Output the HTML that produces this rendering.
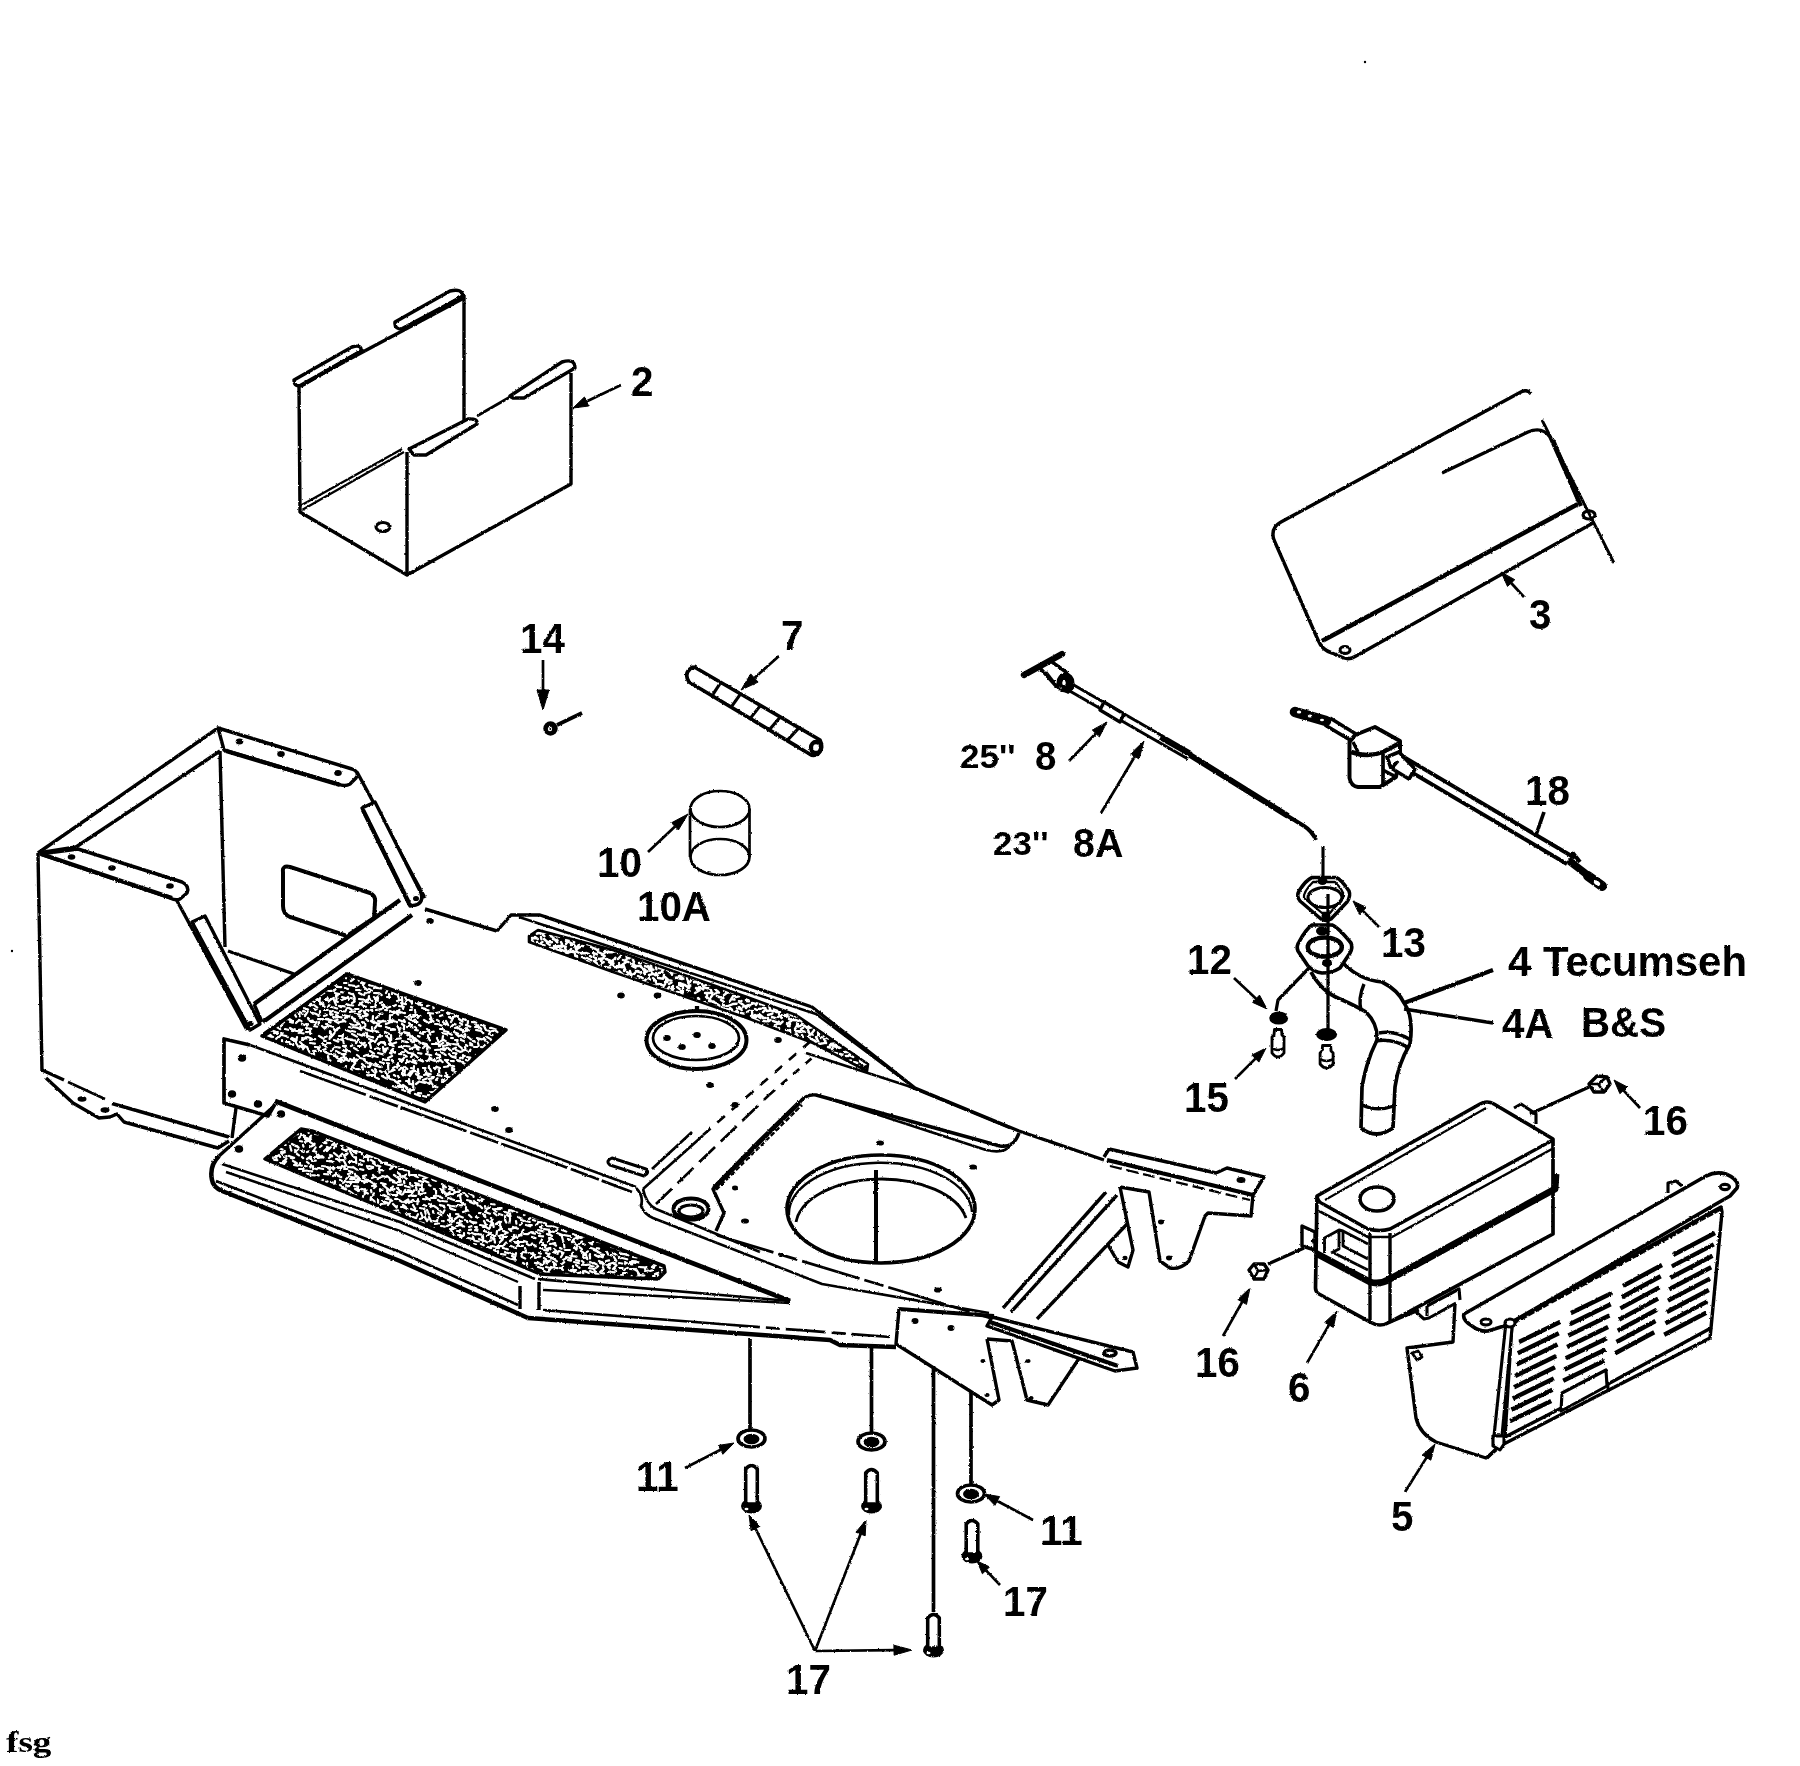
<!DOCTYPE html>
<html><head><meta charset="utf-8"><title>Parts diagram</title>
<style>html,body{margin:0;padding:0;background:#fff}svg{display:block}text{fill:#000}</style></head>
<body><svg width="1800" height="1766" viewBox="0 0 1800 1766" stroke-linejoin="round" stroke-linecap="butt">
<defs><filter id="rough" x="0" y="0" width="100%" height="100%" filterUnits="userSpaceOnUse"><feTurbulence type="fractalNoise" baseFrequency="0.45" numOctaves="2" seed="3" result="n"/><feDisplacementMap in="SourceGraphic" in2="n" scale="2.2" xChannelSelector="R" yChannelSelector="G"/></filter></defs>
<rect width="1800" height="1766" fill="#fff"/>
<g filter="url(#rough)">
<path d="M38.0,853.0 L218.0,728.0" fill="none" stroke="#000" stroke-width="3.41" />
<path d="M76.0,847.0 L220.0,751.0" fill="none" stroke="#000" stroke-width="3.41" />
<path d="M38.0,853.0 L76.0,847.0" fill="none" stroke="#000" stroke-width="3.41" />
<path d="M38.0,853.0 L42.0,1072.0" fill="none" stroke="#000" stroke-width="3.41" />
<path d="M218,728 L352,769 Q360,772 356,778 L350,784 Q345,787 338,784 L224,750 Z" fill="#fff" stroke="#000" stroke-width="3.41" />
<path d="M226.0,751.0 L340.0,785.0" fill="none" stroke="#000" stroke-width="4.26" />
<ellipse cx="239.5" cy="741.5" rx="3.8" ry="3.0" fill="#000"/>
<ellipse cx="281.0" cy="754.0" rx="3.8" ry="3.0" fill="#000"/>
<ellipse cx="338.0" cy="773.0" rx="3.8" ry="3.0" fill="#000"/>
<path d="M220.0,751.0 L225.0,947.0" fill="none" stroke="#000" stroke-width="3.41" />
<path d="M357.0,772.0 L425.0,898.0" fill="none" stroke="#000" stroke-width="3.41" />
<path d="M362,808 L375,802 L421,893 Q424,902 416,905 L410,906 Z" fill="#fff" stroke="#000" stroke-width="3.41" />
<path d="M363.0,810.0 L410.0,905.0" fill="none" stroke="#000" stroke-width="4.26" />
<ellipse cx="416.0" cy="898.5" rx="3" ry="2.6" fill="#000"/>
<path d="M40,854 L78,849 L182,882 Q190,886 187,893 L180,899 Q176,901 170,898 L40,854" fill="#fff" stroke="#000" stroke-width="3.41" />
<path d="M41.0,854.0 L172.0,898.0" fill="none" stroke="#000" stroke-width="4.26" />
<ellipse cx="71.5" cy="857.0" rx="3.8" ry="2.8" fill="#000"/>
<ellipse cx="112.0" cy="868.0" rx="3.8" ry="2.8" fill="#000"/>
<ellipse cx="170.0" cy="886.0" rx="3.8" ry="2.8" fill="#000"/>
<path d="M176.0,899.0 L247.0,1030.0" fill="none" stroke="#000" stroke-width="3.41" />
<path d="M192,922 L205,916 L260,1024 L250,1030 Z" fill="#fff" stroke="#000" stroke-width="3.41" />
<path d="M193.0,925.0 L244.0,1022.0" fill="none" stroke="#000" stroke-width="2.27" stroke-dasharray="6 2"/>
<ellipse cx="250.5" cy="1023.5" rx="3" ry="2.6" fill="#000"/>
<path d="M254.0,1004.0 L400.0,900.0" fill="none" stroke="#000" stroke-width="4.26" />
<path d="M263.0,1022.0 L412.0,915.0" fill="none" stroke="#000" stroke-width="4.26" />
<path d="M254.0,1004.0 L262.0,1022.0" fill="none" stroke="#000" stroke-width="3.41" />
<path d="M283,872 Q282,865 290,867 L370,893 Q376,896 375,902 L374,918 L347,936 L290,917 Q283,914 283,906 Z" fill="none" stroke="#000" stroke-width="3.98" />
<path d="M228.0,951.0 L294.0,974.0" fill="none" stroke="#000" stroke-width="3.41" />
<path d="M42.0,1070.0 L64.0,1080.0" fill="none" stroke="#000" stroke-width="3.41" />
<path d="M68.0,1082.0 L105.0,1099.0" fill="none" stroke="#000" stroke-width="2.56" />
<path d="M112.0,1103.5 L229.0,1137.0" fill="none" stroke="#000" stroke-width="3.41" />
<path d="M46,1078 L73,1103 L99,1118 L110,1117 L117,1114 L124,1122 L218,1148 L229,1141" fill="none" stroke="#000" stroke-width="3.41" />
<ellipse cx="82.0" cy="1099.0" rx="4.5" ry="2.8" fill="#000"/>
<ellipse cx="105.0" cy="1110.0" rx="4.5" ry="2.8" fill="#000"/>
<path d="M250,1045 L224,1039 L224,1103 L268,1116 L275,1104" fill="none" stroke="#000" stroke-width="3.69" />
<ellipse cx="242.0" cy="1058.0" rx="4.2" ry="3.8" fill="#000"/>
<ellipse cx="232.0" cy="1094.0" rx="4.2" ry="3.8" fill="#000"/>
<ellipse cx="258.0" cy="1104.0" rx="4.2" ry="3.8" fill="#000"/>
<ellipse cx="281.0" cy="1114.0" rx="4.2" ry="3.8" fill="#000"/>
<ellipse cx="239.0" cy="1149.0" rx="4.2" ry="3.8" fill="#000"/>
<path d="M236.0,1108.0 L232.0,1138.0" fill="none" stroke="#000" stroke-width="3.41" />
<path d="M425.0,909.0 L497.0,931.0" fill="none" stroke="#000" stroke-width="3.41" />
<path d="M250.0,1045.0 L636.0,1187.0" fill="none" stroke="#000" stroke-width="2.70" />
<path d="M300.0,1071.0 L560.0,1165.0 L632.0,1192.0" fill="none" stroke="#000" stroke-width="2.70" stroke-dasharray="70 4 30 3"/>
<path d="M275.0,1101.0 L790.0,1301.0" fill="none" stroke="#000" stroke-width="4.83" />
<path d="M264.0,1034.0 L348.0,974.0" fill="none" stroke="#000" stroke-width="3.41" />
<path d="M219.0,1156.0 L273.0,1107.0" fill="none" stroke="#000" stroke-width="3.41" />
<path d="M219,1156 Q209,1166 212,1180 Q213,1187 222,1191 L400,1261 L528,1318" fill="none" stroke="#000" stroke-width="4.54" />
<path d="M222.0,1164.0 L400.0,1222.0 L535.0,1279.0" fill="none" stroke="#000" stroke-width="2.70" />
<path d="M226.0,1172.0 L400.0,1231.0 L518.0,1282.0" fill="none" stroke="#000" stroke-width="2.41" />
<path d="M216.0,1181.0 L400.0,1252.0 L518.0,1305.0" fill="none" stroke="#000" stroke-width="2.70" />
<path d="M528,1318 L830,1340 L840,1345 L896,1347" fill="none" stroke="#000" stroke-width="4.54" />
<path d="M543.0,1310.0 L720.0,1324.0" fill="none" stroke="#000" stroke-width="2.70" />
<path d="M720.0,1324.0 L890.0,1337.0" fill="none" stroke="#000" stroke-width="2.70" stroke-dasharray="40 6 14 6"/>
<path d="M538.0,1279.0 L790.0,1301.0" fill="none" stroke="#000" stroke-width="2.70" />
<path d="M543.0,1290.0 L790.0,1303.0" fill="none" stroke="#000" stroke-width="2.41" />
<path d="M520.0,1286.0 L520.0,1309.0" fill="none" stroke="#000" stroke-width="3.41" />
<path d="M539.0,1282.0 L539.0,1310.0" fill="none" stroke="#000" stroke-width="3.41" />
<clipPath id="t2"><polygon points="265.0,1159.0 301.0,1129.0 312.0,1131.0 664.0,1266.0 665.0,1272.0 658.0,1279.0 540.0,1274.0 400.0,1215.0"/></clipPath>
<g clip-path="url(#t2)"><polygon points="265.0,1159.0 301.0,1129.0 312.0,1131.0 664.0,1266.0 665.0,1272.0 658.0,1279.0 540.0,1274.0 400.0,1215.0" fill="#000"/><path d="M266,1132l1.5,1.1M273,1130l1.7,0.6M275,1133l3.0,2.7M278,1132l1.2,1.2M287,1130l3.8,1.8M293,1130l1.6,0.7M296,1132l3.0,-1.5M305,1130l2.7,0.1M309,1131l-0.4,1.9M316,1130l3.9,-3.7M319,1132l2.8,0.7M324,1129l2.5,2.3M325,1132l4.2,0.3M333,1133l3.3,-0.0M334,1129l2.5,0.2M342,1129l1.9,-1.8M344,1131l2.9,-0.2M356,1130l4.8,-0.0M361,1130l1.0,3.6M370,1132l3.3,0.6M384,1131l2.1,-3.4M386,1130l3.9,0.3M392,1131l1.6,0.8M396,1132l3.0,1.5M400,1133l1.4,-1.2M404,1130l1.5,-0.4M412,1131l2.2,1.5M416,1133l0.6,2.1M422,1132l3.5,1.9M427,1130l3.6,2.6M431,1131l3.3,3.2M434,1132l5.0,1.7M447,1130l3.3,0.8M454,1133l1.5,1.1M462,1132l2.1,0.8M464,1132l3.1,-0.3M472,1130l3.0,1.5M478,1132l2.4,-1.6M481,1129l3.6,0.4M492,1133l2.4,0.0M496,1130l0.5,2.0M503,1132l1.2,5.0M508,1131l3.6,2.9M513,1130l4.1,1.5M516,1131l0.8,4.5M524,1129l3.5,1.4M531,1131l-0.8,3.8M533,1131l1.9,-1.6M540,1133l-0.3,2.3M542,1131l2.5,0.1M547,1132l3.0,2.7M550,1130l3.2,-4.2M555,1133l3.2,0.4M559,1130l3.0,0.2M564,1132l2.7,-3.0M566,1133l1.4,1.3M570,1132l4.0,2.6M583,1131l-0.6,3.7M584,1129l4.9,-1.3M588,1129l4.9,0.2M596,1131l2.3,2.2M601,1132l1.9,1.7M609,1132l-0.1,2.7M610,1130l1.2,1.2M615,1133l1.0,5.1M621,1131l4.0,-3.1M627,1130l3.5,2.6M632,1130l1.2,0.9M639,1131l4.9,0.2M645,1130l2.2,0.0M648,1131l2.7,2.5M656,1130l2.8,0.4M657,1132l1.4,0.6M661,1131l2.6,0.8M665,1133l3.8,2.1M271,1138l3.9,0.8M277,1136l0.3,4.4M284,1135l3.1,2.3M294,1134l4.0,0.1M301,1134l3.7,2.0M304,1137l4.8,1.7M310,1137l1.1,-1.4M315,1134l3.3,0.4M325,1135l3.6,1.9M326,1134l3.9,0.6M332,1135l2.3,-0.7M337,1135l1.5,-1.3M347,1137l1.8,0.4M351,1138l3.1,-4.2M354,1134l1.0,2.7M358,1135l2.1,1.3M364,1133l2.7,-1.6M370,1135l1.2,0.9M376,1134l4.4,2.7M378,1135l2.5,4.5M385,1135l2.1,1.6M391,1135l3.8,2.6M394,1137l4.9,-1.9M401,1134l3.9,-0.3M406,1135l1.5,3.0M408,1136l4.0,-0.8M414,1135l1.6,0.9M419,1136l5.1,-2.0M420,1134l3.7,0.4M426,1137l3.5,2.9M430,1136l2.9,-3.5M435,1135l4.0,0.0M442,1134l2.7,-1.8M449,1137l4.3,0.0M457,1133l4.9,-1.8M461,1135l2.1,0.3M471,1136l2.4,-4.0M472,1136l2.4,1.3M477,1136l1.9,0.4M484,1134l3.9,0.6M486,1135l4.4,2.4M490,1134l2.3,-1.4M495,1136l1.2,-2.1M499,1135l3.2,-0.4M502,1137l1.7,0.5M507,1137l2.4,0.4M511,1137l4.2,-2.9M518,1134l1.3,2.8M523,1134l1.9,1.2M526,1135l3.7,3.7M528,1137l2.7,-0.1M535,1138l0.9,-1.2M537,1137l4.1,1.9M544,1135l2.2,-3.7M547,1135l4.9,1.4M551,1137l0.8,-1.4M557,1134l3.7,-1.3M559,1137l4.3,0.8M563,1133l-0.7,4.0M571,1135l2.9,-1.0M576,1135l2.7,-3.8M582,1137l1.8,4.6M587,1136l1.8,4.1M588,1133l0.3,2.1M592,1134l0.9,1.7M599,1135l3.3,0.3M607,1137l2.2,1.5M610,1134l2.5,0.3M614,1137l0.7,1.6M619,1136l4.0,1.0M628,1137l1.5,-0.6M631,1134l0.7,1.6M636,1136l1.8,0.7M642,1134l1.6,0.4M651,1137l2.5,1.9M655,1134l3.0,2.1M657,1135l1.6,3.3M662,1134l2.8,1.6M668,1137l3.6,-3.4M270,1141l2.4,2.2M274,1138l-0.5,3.3M278,1140l3.0,0.7M286,1141l2.6,0.3M290,1138l4.1,-2.2M299,1138l2.6,-2.9M300,1141l2.1,0.5M305,1139l1.8,1.3M310,1140l1.4,-1.5M325,1141l4.5,-1.8M328,1140l4.0,0.9M331,1139l3.1,1.1M336,1140l3.8,1.3M351,1139l3.3,0.2M355,1140l2.1,1.8M360,1141l3.9,-2.5M364,1140l2.2,0.6M377,1142l3.8,2.2M380,1140l5.1,0.5M385,1138l-0.7,3.4M388,1139l2.2,0.0M394,1141l2.6,-3.8M396,1140l2.4,2.3M401,1141l2.9,2.8M406,1139l2.7,1.3M409,1138l2.5,1.0M413,1142l-0.9,5.0M419,1139l2.9,1.5M424,1138l1.5,0.8M427,1139l0.7,2.3M431,1138l-0.2,2.1M436,1141l2.1,-3.5M443,1139l4.8,0.1M452,1140l-0.0,2.5M461,1139l5.1,0.6M465,1140l2.3,0.2M469,1140l1.1,2.5M472,1141l1.3,-0.8M482,1141l3.1,-4.5M487,1138l5.0,1.8M489,1140l4.6,-0.2M494,1140l3.5,0.2M501,1141l3.3,3.0M505,1139l4.7,1.4M521,1140l2.6,2.0M525,1139l3.7,1.1M528,1138l5.2,0.3M532,1138l4.1,0.4M536,1138l-0.1,2.3M547,1141l1.8,0.7M549,1138l4.3,-1.5M555,1138l2.7,-0.6M557,1139l4.5,0.1M569,1140l1.4,0.7M572,1141l1.6,0.6M578,1141l-0.2,2.2M580,1141l3.5,-0.1M587,1138l4.3,-3.1M590,1138l1.8,1.6M596,1141l3.8,-1.9M599,1139l4.7,-1.8M602,1140l2.5,0.4M611,1141l1.5,1.3M616,1140l2.7,0.7M621,1140l3.3,-0.5M623,1139l4.7,1.7M627,1139l3.8,1.0M635,1141l0.3,2.1M636,1142l2.0,0.8M640,1138l3.6,2.6M644,1140l4.9,1.0M648,1141l3.0,-1.8M654,1138l-0.0,1.5M660,1141l-0.1,3.2M664,1141l4.8,0.8M668,1140l4.2,0.8M271,1145l3.1,0.6M276,1144l5.0,0.6M282,1145l3.7,0.0M290,1146l1.4,4.7M292,1144l4.2,2.3M297,1146l1.6,1.6M303,1145l0.5,1.7M305,1142l3.7,-1.4M310,1142l4.4,2.9M313,1145l1.6,-1.4M324,1143l2.4,0.1M332,1145l2.0,-1.8M334,1145l2.0,1.4M341,1146l1.5,-0.4M344,1143l3.3,0.8M347,1146l3.7,3.3M355,1146l2.6,1.1M358,1143l2.2,1.2M360,1143l1.4,-1.5M369,1146l-0.4,1.8M380,1143l3.1,-1.9M383,1146l1.5,2.8M392,1144l2.1,1.3M397,1145l2.7,2.0M401,1146l5.2,1.7M403,1143l3.7,-1.5M411,1143l3.2,1.3M419,1145l4.1,0.2M423,1144l2.8,0.6M424,1143l2.5,1.9M430,1144l4.1,2.3M434,1143l-0.4,1.8M444,1144l1.4,2.3M446,1146l-0.1,1.7M452,1144l3.8,2.0M457,1143l4.0,0.4M461,1146l4.6,-2.4M464,1145l2.3,1.1M469,1143l3.0,-2.3M478,1145l4.2,-3.1M480,1144l-0.9,4.0M488,1144l2.1,1.1M489,1142l5.4,0.7M498,1144l2.1,1.3M502,1142l4.9,0.8M506,1145l4.2,-0.0M519,1142l3.9,0.6M524,1144l2.3,-1.6M534,1143l3.9,1.1M538,1144l4.4,-1.6M541,1142l4.7,0.8M547,1146l2.4,1.2M553,1144l4.6,-0.5M555,1145l3.1,0.6M561,1146l2.0,0.4M574,1145l0.1,5.2M575,1144l2.7,-3.6M586,1145l4.5,-2.6M588,1144l2.3,4.1M593,1144l2.8,2.3M599,1143l4.7,0.3M603,1143l-0.3,2.5M613,1143l1.9,-1.0M615,1144l2.3,0.1M624,1143l5.0,1.7M630,1146l2.3,1.7M635,1142l2.6,2.1M650,1144l1.6,1.0M653,1142l2.2,0.0M662,1145l2.5,0.0M669,1146l3.5,0.7M268,1148l4.5,0.4M275,1149l2.7,-0.9M278,1148l4.5,1.5M295,1150l1.8,1.6M310,1147l3.7,-1.7M314,1150l1.6,-2.5M320,1147l1.6,-1.3M327,1147l2.4,1.1M334,1148l2.9,-4.6M342,1149l4.4,2.0M346,1150l5.2,-1.7M352,1150l4.3,3.3M358,1148l0.6,2.0M363,1148l1.6,0.4M365,1147l2.2,0.9M371,1150l-0.1,4.5M373,1149l3.7,0.9M377,1149l4.7,-2.1M383,1147l3.3,1.0M389,1148l2.2,-0.4M395,1148l-0.3,2.9M408,1147l4.1,2.8M415,1147l2.6,2.4M418,1149l1.8,0.3M421,1148l-0.1,1.6M427,1147l3.2,2.4M429,1148l3.4,2.7M433,1148l-0.1,1.9M441,1149l1.6,1.3M445,1147l2.3,2.0M449,1148l1.6,-0.5M452,1150l5.4,-0.3M474,1150l3.1,0.6M477,1148l2.2,0.5M481,1148l4.7,-2.4M488,1150l4.1,0.0M492,1147l-0.1,1.6M493,1146l2.0,1.8M500,1147l-1.0,5.1M508,1150l1.1,-1.7M512,1147l3.8,2.4M516,1149l2.0,1.1M521,1149l0.9,4.7M524,1147l1.0,3.7M529,1150l2.7,0.7M535,1147l1.8,1.2M540,1148l4.5,1.9M543,1148l2.1,0.4M546,1149l0.2,2.6M557,1150l2.5,-3.1M560,1148l4.6,-0.1M564,1150l2.1,4.4M569,1147l2.3,-1.4M572,1148l0.7,2.7M578,1148l2.4,-2.8M585,1147l4.7,1.2M598,1150l2.5,0.0M607,1148l-0.8,3.5M612,1148l4.2,0.1M613,1146l3.0,0.2M620,1149l2.5,2.4M625,1150l3.9,2.3M628,1148l2.8,2.1M634,1149l-0.4,3.2M636,1148l-0.5,3.1M642,1147l-0.9,3.9M645,1150l3.2,1.9M652,1146l3.5,0.5M657,1149l0.3,2.0M663,1147l-0.1,1.9M666,1148l3.9,-2.7M265,1154l2.4,0.2M269,1153l1.1,2.0M274,1151l4.3,-3.2M281,1152l3.8,0.4M282,1154l2.6,-3.0M295,1152l3.3,-2.0M297,1154l2.0,1.4M301,1151l2.8,0.9M307,1152l1.9,-0.7M313,1151l3.1,0.8M317,1154l1.6,1.0M324,1151l3.5,-3.1M327,1151l3.7,-3.8M334,1153l3.3,2.6M344,1155l1.4,3.7M350,1151l2.3,4.3M354,1151l2.7,0.1M356,1151l4.0,1.0M362,1152l-0.1,2.3M364,1152l2.9,-0.2M375,1153l1.6,1.5M380,1153l2.0,-3.8M385,1152l2.5,-0.8M388,1151l1.5,-0.6M391,1152l3.2,-1.8M398,1153l4.0,1.8M400,1153l1.5,1.3M405,1154l0.1,1.7M407,1154l2.4,1.6M419,1155l-0.2,2.6M424,1152l3.8,2.3M430,1151l4.1,-1.0M439,1151l3.6,1.0M442,1154l2.3,1.0M447,1152l1.8,1.0M452,1153l3.5,-0.7M458,1152l4.3,0.4M460,1153l4.1,1.8M466,1153l2.8,-1.3M470,1151l1.0,-1.4M472,1154l2.0,-0.7M478,1152l0.8,1.3M485,1154l1.9,0.1M490,1151l0.9,2.8M494,1153l2.5,0.3M498,1151l2.4,-1.1M504,1154l4.5,-1.2M512,1151l2.9,0.7M516,1154l1.9,0.1M532,1151l1.6,-1.4M538,1151l2.0,-0.4M542,1155l1.8,-1.6M545,1153l0.6,2.6M551,1152l1.5,0.0M561,1152l3.5,1.2M563,1151l3.0,1.2M569,1151l3.8,-1.3M578,1153l2.9,1.3M582,1151l3.7,1.6M591,1153l2.6,1.5M594,1153l0.5,2.5M600,1151l4.7,-1.5M601,1153l2.1,1.3M607,1153l3.9,0.0M611,1151l1.9,-2.9M617,1155l4.1,1.7M621,1152l1.7,1.6M622,1152l1.2,2.1M626,1153l1.9,0.7M634,1151l4.7,2.2M642,1152l4.8,0.7M645,1154l1.4,0.9M648,1153l2.4,4.6M653,1151l2.6,-4.8M660,1153l1.8,1.3M662,1153l3.5,-1.6M669,1154l1.1,1.0M266,1157l1.3,1.0M273,1158l4.9,-2.2M276,1156l0.5,2.9M279,1155l1.1,1.9M284,1157l2.6,-0.9M289,1156l5.1,1.9M291,1158l1.7,0.5M302,1157l1.2,1.1M307,1159l3.3,-2.3M309,1158l2.4,1.4M315,1157l4.9,-1.0M318,1158l5.4,-0.8M322,1156l1.5,1.5M329,1158l2.8,-2.6M330,1155l2.1,1.3M337,1159l2.9,2.5M339,1157l3.2,-3.3M346,1155l1.5,-1.6M354,1157l2.0,1.2M356,1157l0.1,2.3M364,1157l4.8,0.2M367,1155l4.6,2.0M372,1156l1.3,1.0M375,1158l3.2,0.1M379,1156l3.0,-0.9M391,1158l4.0,0.1M395,1155l3.6,0.5M404,1156l3.7,0.3M409,1156l4.7,0.5M411,1158l5.3,1.2M417,1157l1.5,0.1M423,1158l4.0,0.4M428,1159l0.8,1.6M431,1156l0.6,2.0M436,1159l2.7,1.1M439,1158l2.5,1.4M447,1159l1.4,0.8M460,1156l3.7,-3.6M468,1156l2.1,1.3M473,1157l5.3,1.2M478,1155l1.5,1.4M480,1155l4.2,0.5M486,1157l3.5,2.7M492,1157l5.0,-2.2M493,1155l2.7,0.2M499,1158l1.6,-1.0M505,1158l1.2,1.1M509,1158l3.9,0.3M513,1158l2.0,1.9M521,1155l1.1,-2.1M526,1157l4.5,1.9M536,1158l2.2,1.4M537,1155l1.7,0.2M544,1156l3.5,2.1M547,1158l3.1,0.5M551,1159l4.4,-2.4M563,1157l3.8,2.3M575,1157l1.3,1.1M580,1158l0.1,3.3M585,1158l3.0,-2.5M595,1158l1.2,-1.3M603,1158l3.3,1.7M607,1156l2.6,-1.2M611,1159l2.7,2.4M616,1158l1.8,1.0M618,1159l1.6,0.5M625,1158l4.1,1.3M628,1158l0.5,3.3M632,1159l3.8,-1.2M636,1157l2.6,1.5M640,1156l2.0,1.5M643,1156l1.8,4.0M649,1156l2.1,-3.5M658,1158l-0.3,5.2M662,1155l2.3,2.2M666,1156l1.8,3.5M274,1160l3.3,0.1M280,1163l1.6,0.3M284,1161l2.4,-2.4M293,1161l3.9,2.2M295,1162l0.9,2.9M300,1163l-0.2,1.9M307,1162l1.8,1.4M312,1161l3.8,-0.3M327,1161l3.6,0.5M330,1161l3.6,1.1M336,1159l3.0,0.5M340,1160l3.6,0.1M344,1161l2.3,4.7M349,1162l2.6,-1.0M353,1162l2.4,0.0M356,1160l0.3,3.1M360,1160l3.8,1.3M368,1159l0.3,1.5M371,1160l3.6,2.1M373,1163l3.6,2.5M379,1160l2.3,2.1M382,1163l5.0,-0.3M390,1161l3.6,2.9M397,1160l4.7,1.2M402,1163l2.7,-0.9M404,1162l3.2,-1.1M409,1162l2.9,0.0M412,1162l0.4,2.6M419,1161l2.6,0.4M422,1162l2.6,0.2M437,1159l0.7,1.3M438,1160l3.2,0.8M444,1160l3.6,2.6M449,1160l3.0,1.5M452,1160l3.1,0.5M462,1162l5.2,0.6M466,1163l1.7,-1.9M468,1160l1.8,0.8M472,1161l1.9,4.9M478,1163l3.1,1.9M480,1160l4.3,1.7M487,1160l2.5,0.3M490,1161l1.8,0.8M494,1160l0.0,1.7M500,1163l4.5,0.7M503,1159l1.8,-1.3M510,1162l2.5,0.1M513,1160l1.9,1.3M522,1159l2.8,2.0M526,1163l0.1,2.3M531,1162l4.7,2.6M535,1161l2.5,-0.0M537,1159l4.3,-2.0M542,1163l1.7,5.1M549,1160l4.1,2.7M551,1162l4.2,-3.1M560,1161l5.2,0.8M566,1162l4.5,2.5M572,1160l1.0,1.6M582,1161l1.7,0.7M585,1159l2.6,0.1M589,1162l4.2,0.3M595,1160l2.0,0.5M598,1163l1.8,-2.1M607,1163l1.5,0.4M614,1162l2.9,-0.6M620,1163l0.1,2.0M623,1161l0.2,3.3M633,1162l4.4,-1.6M638,1161l1.6,0.6M646,1161l-0.6,4.4M648,1160l5.2,-0.1M653,1163l1.6,2.6M659,1160l3.6,0.8M665,1162l3.5,0.4M269,1165l0.3,1.7M273,1164l4.4,0.5M275,1164l3.3,3.2M281,1165l1.6,-2.3M283,1165l3.1,-3.5M287,1167l1.0,4.7M294,1165l3.6,0.7M299,1165l2.9,0.6M305,1166l1.5,0.5M311,1165l-0.5,2.5M313,1166l0.1,3.1M322,1166l4.2,0.5M327,1167l3.0,0.8M331,1167l3.5,1.1M337,1167l4.2,0.6M342,1166l2.8,1.3M348,1167l4.2,0.4M353,1167l4.0,2.6M359,1164l2.9,0.9M367,1166l0.8,2.2M369,1166l4.1,1.1M376,1165l4.3,1.5M379,1168l0.6,4.7M385,1164l5.1,1.1M391,1166l5.3,1.1M397,1164l3.5,0.0M399,1166l1.8,-0.6M407,1165l5.2,1.6M420,1164l2.6,-1.9M429,1166l2.5,0.8M436,1166l4.1,-2.1M440,1164l2.6,0.7M441,1167l-0.0,1.8M446,1167l3.6,0.7M453,1166l1.9,1.9M455,1165l2.7,1.9M459,1164l1.4,-1.2M464,1167l2.9,2.2M469,1165l4.8,-1.9M475,1168l3.9,-2.0M480,1165l2.4,-0.0M482,1163l1.6,0.6M489,1165l0.4,3.3M497,1163l2.3,2.0M500,1164l3.6,1.2M510,1167l-0.0,1.7M512,1166l4.0,1.7M518,1166l3.0,2.5M520,1168l3.8,-0.1M524,1167l1.7,-0.7M536,1164l1.4,0.9M543,1165l1.6,0.2M545,1168l2.0,-0.7M551,1165l-0.3,5.0M561,1166l3.7,1.5M565,1164l3.5,1.9M569,1166l4.8,-0.0M575,1166l4.7,2.7M579,1166l4.2,-1.4M593,1165l3.9,0.4M600,1164l4.0,2.3M606,1168l0.3,2.3M612,1164l3.5,2.6M616,1167l1.5,-0.8M619,1164l2.7,0.5M623,1164l3.0,-4.4M628,1166l2.4,0.5M631,1164l2.1,1.8M638,1167l1.8,0.8M646,1165l1.5,3.0M648,1166l2.3,2.1M660,1164l4.5,0.7M667,1164l3.5,1.8M269,1169l1.6,-2.0M272,1169l3.7,1.9M274,1168l2.3,1.4M278,1168l3.7,0.1M285,1170l2.5,2.2M292,1171l4.2,1.5M299,1169l4.8,0.0M303,1171l4.0,-0.5M308,1171l4.1,0.3M313,1168l3.9,1.2M318,1168l5.1,1.0M328,1168l2.1,1.4M332,1168l1.6,1.4M338,1168l2.3,-0.6M340,1170l1.0,-1.2M344,1169l3.3,0.0M349,1171l3.3,1.0M360,1169l3.3,0.9M369,1169l3.8,-0.9M381,1170l2.2,0.4M390,1169l1.8,-0.9M399,1169l4.3,0.1M404,1170l3.5,0.4M409,1171l0.2,4.6M412,1169l4.7,-2.3M419,1169l2.3,-0.6M424,1168l2.1,1.6M434,1169l4.0,1.3M441,1169l3.4,-3.5M444,1169l3.4,0.5M449,1169l2.2,0.0M453,1170l4.8,0.8M458,1170l3.5,-2.6M460,1168l1.1,-1.7M465,1172l3.2,0.4M471,1171l3.2,2.6M484,1169l4.5,1.5M496,1168l3.4,1.1M508,1168l3.4,1.3M512,1170l0.7,1.6M519,1171l2.8,1.5M531,1171l3.0,1.6M535,1168l3.1,-3.3M546,1172l2.8,-4.6M551,1168l4.3,-0.9M556,1171l2.9,2.8M564,1172l0.4,1.8M570,1170l4.4,1.1M574,1171l2.1,0.3M579,1171l0.2,4.0M583,1169l1.9,1.0M585,1171l2.6,4.4M589,1170l1.5,0.1M595,1168l5.1,0.6M597,1168l4.0,3.6M602,1170l4.4,1.0M613,1169l4.0,0.2M614,1171l3.5,-0.5M620,1172l4.1,2.7M623,1168l3.8,2.7M629,1169l3.4,-0.1M638,1170l1.2,-1.9M640,1170l2.9,1.9M645,1168l2.0,1.3M650,1171l0.9,2.0M665,1170l3.5,2.6M271,1173l4.5,-0.7M275,1173l5.2,0.5M283,1173l-0.0,5.0M289,1173l1.8,0.1M293,1173l3.3,0.0M307,1174l3.7,1.4M310,1175l4.9,0.4M317,1175l1.7,0.4M324,1174l4.3,0.4M328,1172l1.8,-0.6M330,1174l1.3,-1.8M336,1173l2.6,2.1M338,1176l3.2,1.1M348,1174l4.5,-1.1M355,1174l0.7,2.4M357,1176l2.9,2.7M363,1176l3.1,-0.8M373,1175l0.8,1.4M382,1176l3.9,0.9M387,1176l2.4,2.0M394,1175l3.3,2.4M398,1173l2.0,1.5M400,1176l4.3,0.7M403,1176l4.0,3.1M411,1175l5.1,0.2M415,1176l3.1,1.2M419,1175l1.9,0.3M420,1175l3.8,1.1M424,1176l4.7,-0.4M435,1176l1.9,-2.2M443,1176l0.5,4.8M448,1174l2.3,-0.5M454,1175l3.3,1.8M457,1172l1.8,0.6M462,1175l4.7,0.3M463,1174l3.0,-0.2M471,1173l2.5,2.5M479,1172l2.7,1.3M489,1175l2.3,1.8M497,1174l5.0,1.7M506,1174l3.2,0.3M506,1175l1.1,3.0M512,1172l4.2,3.0M518,1174l2.0,0.8M523,1173l-0.0,1.9M526,1173l1.6,-0.6M532,1172l0.1,2.1M539,1176l4.2,1.3M548,1174l1.4,-1.6M549,1173l2.7,0.2M557,1175l1.0,5.2M558,1175l2.3,0.9M563,1172l3.1,0.8M569,1174l4.5,1.7M570,1175l2.8,-2.9M581,1173l0.2,4.5M586,1175l4.5,1.3M590,1173l2.8,1.3M592,1176l4.2,2.2M597,1174l3.5,0.9M607,1173l3.1,-2.2M617,1172l2.6,0.1M621,1173l1.8,-0.2M625,1173l1.7,0.3M629,1175l2.7,2.5M639,1174l3.5,0.0M641,1175l3.8,0.8M648,1173l4.2,1.0M654,1172l3.7,1.9M665,1174l2.4,-2.3M665,1175l5.0,0.6M268,1179l3.3,-2.6M271,1180l1.7,2.8M276,1179l-0.9,4.9M283,1177l2.3,-3.4M290,1179l2.3,1.8M292,1178l5.3,-0.4M305,1178l1.7,1.6M311,1176l0.1,2.8M313,1179l3.3,1.6M333,1176l3.3,-1.8M340,1180l1.8,0.9M346,1179l3.2,-3.0M350,1179l4.8,0.0M351,1177l3.5,0.5M358,1180l4.4,1.1M363,1178l2.0,-0.0M365,1179l4.4,2.2M372,1178l2.3,-1.0M374,1176l4.0,3.1M379,1178l2.5,-0.9M390,1179l4.3,2.3M390,1180l4.3,1.6M398,1177l1.8,5.2M400,1179l1.9,-2.5M404,1177l2.0,-2.7M423,1179l4.8,-2.0M432,1179l4.1,1.9M433,1180l1.9,0.5M443,1178l0.4,2.7M446,1177l2.8,1.0M454,1179l3.8,-1.3M458,1179l2.2,0.3M462,1179l0.8,1.3M464,1178l2.0,1.3M468,1177l3.8,2.2M472,1178l3.7,0.9M477,1180l0.3,2.2M484,1180l5.2,0.3M488,1179l2.6,1.5M495,1179l2.4,-3.8M498,1178l1.5,-0.6M503,1179l2.5,-3.6M507,1180l2.0,0.9M511,1180l3.5,0.4M517,1178l-0.1,4.4M519,1180l4.7,0.8M523,1178l2.5,-2.3M531,1181l3.3,1.2M537,1177l3.7,2.5M541,1180l4.9,2.0M545,1178l1.4,1.3M553,1179l2.6,-4.1M554,1179l1.6,0.3M560,1180l2.0,0.8M564,1179l3.3,0.6M569,1177l2.2,-3.6M576,1179l3.2,0.0M584,1177l3.7,3.6M590,1178l5.2,0.3M594,1177l-0.3,3.4M598,1177l2.1,-0.8M608,1180l2.8,0.2M612,1179l4.8,0.6M617,1177l1.1,-1.0M621,1180l3.9,1.3M622,1180l1.3,0.7M628,1180l1.6,4.9M634,1179l4.7,1.1M636,1177l3.0,-0.4M642,1177l1.8,1.0M645,1179l2.4,1.0M651,1180l0.8,4.2M659,1178l2.4,-0.9M664,1179l2.8,1.7M666,1179l2.3,2.2M266,1182l1.7,0.3M269,1185l-0.7,4.9M277,1182l2.5,-4.0M280,1182l1.3,1.1M284,1182l1.4,-1.6M289,1184l5.1,1.1M299,1184l1.5,-1.5M302,1181l2.9,1.0M305,1181l2.7,-3.8M308,1182l3.5,2.0M312,1183l0.7,1.8M320,1182l3.1,-2.2M321,1182l1.8,0.5M326,1182l1.5,-0.6M331,1182l2.4,0.7M335,1181l-0.2,2.6M340,1185l2.9,1.6M343,1183l2.4,-1.9M347,1182l5.5,-0.3M353,1182l5.1,0.2M355,1182l2.8,-3.3M364,1181l0.3,1.9M366,1182l2.0,-2.1M371,1182l3.9,2.0M381,1183l4.7,1.2M383,1185l1.5,0.2M392,1182l4.6,0.8M398,1182l2.8,-1.0M404,1181l0.4,2.2M410,1184l2.8,2.1M415,1183l3.6,0.8M419,1181l4.1,0.9M422,1184l-0.4,4.2M425,1181l3.4,1.4M429,1185l1.5,0.7M442,1184l4.0,3.4M448,1182l3.4,2.6M454,1181l1.6,-0.2M454,1181l-0.0,1.7M461,1182l4.7,1.6M471,1182l3.6,2.6M472,1185l0.7,3.8M482,1182l4.8,-2.2M485,1185l1.6,4.0M490,1182l2.7,1.0M496,1184l2.3,-0.3M500,1183l2.6,-3.8M502,1185l1.9,1.3M507,1184l2.8,0.5M511,1183l4.6,1.1M522,1181l0.4,4.0M526,1182l3.5,2.4M534,1185l1.7,1.3M540,1182l2.9,0.9M541,1183l3.8,0.4M547,1183l5.2,-0.0M549,1184l1.5,2.9M564,1185l2.6,1.4M566,1183l2.5,-0.4M581,1184l1.8,0.3M584,1183l5.2,-0.1M589,1184l1.3,-2.0M593,1181l1.6,-0.0M598,1182l3.7,-3.6M602,1181l-0.1,4.2M607,1184l3.1,0.4M616,1183l4.8,-1.7M622,1184l1.5,-0.5M629,1184l4.5,-2.2M633,1185l3.6,2.0M635,1182l2.2,0.9M639,1181l2.2,1.6M647,1181l5.4,0.6M651,1185l3.0,-0.8M654,1181l0.7,3.4M657,1185l2.6,-0.9M664,1182l0.7,1.8M667,1184l3.0,0.3M267,1187l5.0,1.7M276,1187l3.7,1.9M282,1187l4.7,0.3M284,1188l3.2,-3.4M287,1187l1.8,-0.6M293,1185l2.8,-2.6M299,1187l3.8,1.7M300,1185l2.1,-3.7M307,1186l2.5,-2.9M310,1186l1.4,3.8M316,1187l2.7,0.8M322,1186l1.9,5.1M342,1188l3.7,0.3M346,1185l1.7,1.4M349,1186l2.4,-3.4M354,1186l4.2,0.5M356,1189l1.9,-1.2M362,1189l3.6,1.1M365,1189l-0.3,5.5M372,1186l3.5,-1.2M374,1188l2.1,-1.8M380,1189l0.1,2.2M384,1186l2.8,2.2M388,1189l1.9,1.8M391,1189l2.0,-2.7M397,1188l1.8,1.6M398,1185l4.2,-0.3M405,1186l5.2,1.5M415,1185l5.0,0.3M416,1187l0.6,2.8M420,1189l3.9,0.4M434,1189l1.5,0.6M440,1189l4.6,2.6M443,1187l0.6,1.8M449,1186l4.3,0.6M451,1188l4.1,3.7M458,1188l1.4,1.0M459,1185l3.1,-1.7M464,1185l2.2,1.1M469,1187l1.5,0.5M475,1187l1.5,0.4M476,1187l4.6,-2.8M487,1185l2.6,-1.8M495,1185l1.8,0.6M501,1187l2.9,1.8M505,1186l-0.5,4.1M510,1188l3.3,0.9M513,1187l3.6,0.9M523,1187l3.1,-1.2M526,1189l-0.0,2.7M533,1188l4.9,1.2M539,1185l2.5,-0.7M544,1188l3.9,0.1M547,1189l3.5,0.6M550,1188l4.2,3.3M555,1187l1.0,-1.7M565,1188l2.6,-1.0M567,1186l4.7,-1.8M578,1187l5.2,0.8M583,1189l4.6,0.3M590,1188l1.5,1.4M595,1187l3.0,2.3M597,1187l2.7,1.4M603,1185l2.7,0.4M606,1188l4.8,-0.1M609,1186l1.8,0.2M614,1188l3.3,0.3M622,1188l2.9,0.0M625,1188l3.4,-2.7M628,1186l1.9,0.4M632,1186l2.6,0.6M635,1185l4.5,2.1M640,1185l0.0,4.1M644,1185l4.9,-2.2M650,1187l5.1,1.0M653,1187l4.7,1.1M660,1188l1.0,5.3M665,1188l5.2,1.7M669,1188l3.9,3.1M265,1193l4.6,-1.1M270,1193l2.3,0.5M276,1192l2.5,-1.7M278,1191l-0.1,4.5M289,1192l2.9,2.6M293,1190l3.1,3.1M297,1191l2.0,-0.7M303,1193l2.5,1.0M308,1192l3.7,2.1M316,1193l2.0,0.5M318,1190l1.5,0.6M324,1190l2.4,-0.8M326,1192l4.3,1.4M333,1193l1.3,2.4M335,1190l2.8,1.2M339,1189l4.4,1.3M344,1190l2.3,-0.5M349,1191l4.4,3.2M355,1189l3.8,1.9M358,1191l3.3,-1.7M362,1189l4.5,1.1M365,1192l2.9,1.5M371,1190l0.4,2.2M381,1190l2.0,-0.5M387,1191l0.8,1.7M392,1190l2.5,-0.9M397,1192l4.7,2.6M399,1190l2.1,1.5M406,1192l5.1,-0.0M408,1190l3.4,0.9M412,1193l2.4,-2.7M419,1191l-0.2,3.7M421,1190l1.7,0.9M436,1190l0.1,3.5M442,1192l5.2,1.7M449,1189l3.3,0.9M454,1193l3.8,-1.3M459,1192l1.7,-2.9M464,1193l3.7,3.5M469,1193l2.9,1.7M479,1191l4.6,0.3M481,1192l1.9,-3.1M487,1193l3.6,-3.1M491,1189l1.3,-1.9M495,1190l5.0,1.9M500,1192l1.6,3.2M506,1192l1.6,0.3M510,1190l2.0,1.3M518,1192l1.2,3.2M523,1191l5.1,-1.9M527,1193l3.0,0.9M531,1190l1.2,4.9M536,1190l3.3,0.6M538,1193l0.3,2.2M541,1190l1.9,0.5M545,1193l3.8,-1.6M555,1192l3.6,-0.9M561,1190l2.1,1.0M566,1192l2.3,-3.7M569,1193l0.2,2.1M571,1190l4.2,1.7M575,1191l1.2,-2.1M581,1190l5.2,1.5M583,1192l1.7,-1.4M588,1192l4.1,3.3M594,1191l1.9,1.6M598,1193l1.4,-1.3M604,1193l3.9,0.3M611,1190l2.2,0.7M615,1192l1.9,3.8M619,1191l2.0,0.4M623,1192l3.9,0.2M633,1193l2.6,1.0M635,1191l1.5,3.2M645,1190l1.9,0.8M656,1192l1.9,-1.0M658,1193l3.0,1.4M666,1193l3.2,1.0M268,1197l3.7,-1.7M273,1195l2.5,0.7M277,1195l3.4,0.9M278,1196l2.5,0.5M285,1194l1.9,0.1M289,1196l3.7,2.8M294,1194l3.9,1.2M295,1194l1.4,1.1M303,1194l4.3,-1.4M304,1198l3.3,3.2M311,1197l0.6,1.8M316,1198l2.8,0.5M319,1195l3.0,0.1M324,1195l2.1,0.4M328,1196l4.6,2.2M330,1195l0.7,3.6M338,1196l1.8,0.5M342,1194l1.7,1.1M346,1196l2.0,0.8M353,1195l2.2,0.2M356,1195l0.8,2.3M363,1196l-0.9,4.9M371,1197l-0.5,3.7M373,1195l0.9,-1.7M381,1195l2.0,0.5M384,1195l4.6,2.5M388,1194l3.5,0.8M393,1195l4.2,0.1M396,1196l3.2,-3.9M403,1194l2.3,-4.2M409,1196l3.4,-1.3M412,1196l4.0,-0.2M421,1194l4.5,-1.0M426,1197l3.9,3.0M431,1198l4.8,-0.1M434,1196l1.5,-0.6M438,1196l4.3,2.0M445,1194l3.7,0.6M446,1196l3.8,-3.9M450,1194l3.1,0.2M457,1196l4.5,-1.8M460,1195l0.5,3.4M473,1195l0.6,1.9M480,1197l2.4,0.4M481,1194l1.2,5.0M486,1197l4.0,0.2M491,1197l1.6,-2.9M494,1197l3.8,2.9M498,1195l3.9,0.3M504,1197l1.6,-1.1M514,1195l4.6,0.4M518,1197l3.5,-2.7M529,1198l1.0,2.6M532,1196l2.9,0.1M540,1198l1.7,4.5M542,1198l1.7,-0.0M547,1196l2.7,-4.4M552,1195l3.3,3.0M557,1195l3.8,3.6M559,1196l4.6,-0.1M564,1196l5.4,0.3M570,1194l2.1,-2.3M575,1196l2.0,0.1M581,1196l1.5,-0.4M586,1195l2.6,0.1M588,1195l2.1,1.1M592,1196l2.7,0.7M597,1195l2.9,-0.8M603,1196l4.9,1.7M608,1196l1.4,1.1M611,1198l3.4,-2.1M614,1195l1.9,3.4M624,1196l3.2,-0.7M637,1196l2.9,0.4M645,1196l5.4,-0.2M654,1196l0.4,1.6M659,1194l5.1,1.6M663,1196l5.1,0.7M273,1198l3.9,-0.6M281,1199l-0.4,4.5M286,1198l4.2,0.8M287,1201l3.3,0.6M294,1202l1.3,-2.5M295,1202l1.4,-0.7M300,1201l1.6,1.1M304,1201l2.4,0.0M314,1198l1.1,4.5M325,1201l1.7,0.7M326,1199l4.7,1.4M332,1200l1.6,-2.2M335,1202l3.6,2.3M346,1201l2.0,4.8M347,1198l0.8,1.5M354,1200l2.0,0.0M362,1200l2.1,0.4M372,1199l2.5,2.3M378,1199l0.1,3.8M383,1201l4.3,1.8M386,1199l4.9,0.5M390,1200l2.2,0.7M395,1199l2.5,0.2M399,1200l2.9,1.9M404,1202l4.1,-2.6M407,1202l1.6,-1.2M414,1201l4.7,0.4M418,1199l-0.6,5.1M423,1199l3.7,0.3M438,1200l2.1,1.2M442,1201l4.9,0.5M448,1198l2.3,0.5M451,1199l3.2,1.0M456,1201l5.2,0.2M461,1200l-0.1,1.9M467,1200l4.3,1.2M470,1202l4.2,1.7M474,1201l3.3,3.1M478,1200l3.2,1.1M480,1201l3.8,-2.2M494,1201l1.4,-0.9M499,1201l2.5,1.1M504,1198l5.1,1.8M507,1199l0.7,1.4M514,1199l2.3,1.6M517,1201l2.3,0.2M520,1199l0.8,3.7M530,1201l3.8,2.2M536,1200l3.1,-0.5M538,1200l5.0,1.0M541,1200l1.1,2.1M545,1200l4.6,0.8M553,1199l4.7,1.8M554,1198l2.6,-4.1M558,1200l1.5,3.1M562,1199l3.5,0.6M570,1202l-0.3,2.5M574,1201l0.6,3.8M577,1198l2.8,0.7M583,1198l1.3,1.2M585,1199l1.9,0.6M592,1199l1.6,-2.3M593,1199l5.3,1.1M599,1198l4.9,1.6M604,1199l4.0,1.0M609,1200l1.4,0.9M611,1198l-0.1,4.8M615,1198l0.9,-1.5M620,1202l1.6,1.2M625,1200l1.8,0.9M627,1200l-0.2,4.3M636,1200l1.5,1.2M643,1200l-0.2,2.2M645,1200l2.4,0.2M648,1198l2.5,1.6M654,1198l3.3,0.1M659,1200l3.9,-1.2M663,1199l1.0,-1.9M267,1204l1.7,-0.7M270,1202l4.6,1.4M275,1203l4.0,3.4M278,1205l5.0,0.0M285,1203l2.9,0.3M289,1205l3.6,0.3M298,1204l4.1,-3.2M302,1203l2.6,-4.6M305,1206l3.1,1.6M312,1205l2.9,0.9M313,1205l3.3,0.0M321,1203l2.0,0.9M329,1206l5.0,2.0M334,1204l4.8,-1.4M334,1202l-0.5,4.6M342,1205l2.8,0.4M344,1202l2.3,0.7M347,1205l0.7,5.2M351,1205l4.0,2.8M356,1204l3.8,2.1M361,1204l2.1,0.1M365,1204l1.6,0.6M373,1203l3.6,2.9M380,1205l2.1,-1.0M381,1204l4.8,-0.7M388,1205l2.9,-4.4M393,1204l3.7,3.6M395,1206l1.8,0.6M403,1205l2.9,2.2M406,1203l2.6,-2.7M409,1203l4.0,-3.1M413,1205l2.1,3.6M424,1205l2.4,1.0M429,1204l1.8,0.8M434,1206l3.3,2.1M440,1205l3.1,0.9M444,1206l0.5,1.5M448,1205l2.1,0.8M452,1206l4.0,0.5M457,1205l4.9,0.4M462,1203l3.1,1.9M474,1203l3.4,0.1M477,1204l0.9,1.5M480,1206l2.1,2.1M485,1206l1.1,5.2M491,1204l3.6,0.5M495,1202l1.9,-0.7M504,1203l1.8,0.7M509,1204l-0.2,1.7M513,1205l2.9,0.4M518,1203l1.8,1.5M519,1206l3.1,-3.0M525,1204l5.4,0.5M529,1204l2.2,0.3M533,1206l3.9,2.8M539,1205l1.8,0.1M544,1205l0.4,1.8M549,1204l2.9,-1.0M553,1203l-0.3,1.5M561,1203l3.7,3.4M571,1206l3.5,1.8M576,1203l0.4,2.3M581,1205l3.3,2.5M584,1206l2.6,1.2M590,1204l2.2,-0.5M595,1203l3.4,-1.0M602,1204l2.3,2.0M607,1204l4.2,1.2M617,1205l2.9,0.8M620,1203l4.9,0.4M628,1206l3.5,1.9M637,1202l5.0,-2.1M643,1202l1.7,0.5M644,1205l3.3,1.0M650,1205l2.6,-1.6M663,1203l3.9,3.6M668,1205l-0.2,3.3M268,1209l0.2,2.4M276,1209l5.0,0.3M278,1210l4.4,1.6M284,1210l3.1,1.3M289,1207l4.0,-0.2M293,1208l1.7,3.2M307,1210l1.9,-2.8M311,1211l2.6,0.9M318,1207l2.5,-2.3M329,1207l3.6,0.8M334,1207l1.4,1.2M341,1210l2.7,0.3M348,1209l1.3,0.8M354,1208l-0.1,4.0M360,1207l2.1,0.4M364,1211l0.5,4.4M369,1209l1.1,-1.4M373,1208l4.4,-0.0M380,1210l2.7,4.6M381,1210l2.5,0.3M386,1208l0.6,2.8M392,1211l5.1,0.6M401,1207l4.4,0.3M403,1207l4.4,2.0M411,1209l4.8,2.0M420,1208l4.4,1.0M423,1209l1.4,-0.5M427,1210l2.2,4.6M430,1207l2.7,-1.1M438,1209l3.2,3.0M450,1208l3.4,1.4M451,1209l4.2,1.0M466,1207l0.1,3.4M487,1209l2.9,-2.0M493,1209l3.4,2.6M495,1209l5.2,0.1M499,1208l2.5,0.1M509,1210l5.1,1.0M512,1210l0.4,1.5M518,1208l2.0,1.5M524,1209l4.1,3.1M527,1207l2.5,1.5M533,1210l0.8,1.7M543,1207l4.8,-1.5M548,1210l3.2,2.1M551,1209l1.9,5.0M555,1208l4.3,1.4M560,1210l0.8,4.8M564,1210l1.5,0.9M567,1209l1.4,-1.5M577,1208l3.2,1.7M580,1209l3.8,3.2M592,1207l-0.8,3.8M604,1210l0.6,1.8M605,1210l2.4,4.1M615,1210l1.9,0.7M618,1210l1.8,-0.7M623,1209l3.1,-0.0M635,1209l1.2,2.6M639,1207l0.8,4.5M640,1209l2.9,1.0M647,1207l0.6,3.8M650,1209l1.5,-0.1M652,1208l2.7,-0.5M658,1208l2.5,1.6M665,1207l4.8,-0.8M665,1210l4.5,-1.3M267,1213l3.1,-0.2M271,1215l2.3,-0.0M274,1213l3.5,2.2M279,1211l4.9,-0.0M286,1212l3.1,0.6M290,1211l2.6,0.1M295,1211l0.3,4.6M298,1215l2.4,0.3M302,1211l1.3,1.0M309,1211l2.9,-0.9M320,1213l1.4,0.9M321,1214l4.1,1.2M330,1211l4.0,1.9M336,1215l1.7,0.2M341,1211l1.0,3.4M346,1213l1.1,5.4M353,1212l2.3,-4.3M356,1214l1.6,1.2M363,1214l3.8,-3.5M366,1211l2.2,0.0M373,1213l-0.1,2.0M384,1212l4.5,0.9M388,1215l4.5,2.4M393,1211l5.1,-0.7M397,1211l3.0,2.5M406,1213l0.8,1.9M409,1214l1.2,2.8M415,1211l2.0,-0.0M421,1213l1.3,3.3M425,1211l0.6,2.9M433,1211l0.2,1.6M438,1213l3.3,2.0M443,1213l1.5,-2.7M450,1214l-0.2,4.7M456,1214l2.4,0.4M463,1212l4.8,-1.5M469,1215l2.4,2.2M479,1213l1.8,0.2M483,1214l2.1,2.0M485,1212l5.0,1.7M494,1213l2.6,2.3M499,1214l3.3,1.0M505,1212l5.1,1.6M509,1211l1.5,5.1M517,1212l3.0,-3.3M520,1211l3.3,0.3M524,1215l4.2,-2.5M531,1212l1.6,3.7M539,1213l2.5,-1.3M542,1213l2.0,2.0M555,1213l4.5,1.5M558,1213l-0.5,3.1M562,1214l0.3,3.9M571,1212l2.6,0.2M576,1215l1.3,1.3M580,1212l-0.7,5.3M590,1212l3.0,1.0M597,1211l4.3,1.5M605,1215l4.6,2.8M607,1215l2.5,1.1M613,1211l2.1,-3.4M613,1211l2.8,2.6M622,1214l2.5,0.7M624,1214l4.6,2.6M629,1213l3.7,0.4M633,1211l2.5,0.5M642,1214l2.7,-3.4M645,1211l2.8,-3.3M648,1214l5.3,1.3M653,1214l1.9,0.7M663,1211l0.6,1.6M668,1214l3.0,-1.3M269,1216l2.2,0.9M269,1215l-0.2,1.8M276,1217l2.0,0.5M280,1216l5.0,1.2M286,1218l1.2,-2.1M288,1218l2.4,1.5M294,1217l1.5,0.2M298,1217l2.6,1.7M301,1216l4.1,1.7M304,1217l-0.2,2.7M312,1216l2.8,0.5M313,1217l2.1,1.8M317,1216l3.9,-1.3M324,1219l1.4,0.8M328,1217l3.1,1.1M331,1216l2.8,-0.6M335,1218l2.5,-2.9M342,1219l2.9,0.8M346,1218l-0.2,1.8M347,1216l2.4,0.2M354,1218l3.9,1.3M358,1219l2.2,0.2M367,1215l0.6,1.8M372,1216l4.6,2.9M374,1216l1.6,-1.7M383,1216l4.7,-1.3M386,1216l5.2,1.3M393,1219l3.1,0.1M396,1217l1.6,0.2M400,1218l3.6,2.1M403,1219l3.7,-0.1M413,1217l3.2,1.1M416,1218l2.0,-3.8M420,1219l3.5,-1.4M425,1217l1.1,2.7M429,1217l2.3,4.4M438,1217l-1.0,4.5M448,1216l2.1,0.7M452,1218l0.1,2.8M455,1219l3.6,-2.6M459,1216l3.8,1.6M476,1217l2.3,0.9M484,1216l1.4,1.1M491,1218l1.5,1.4M505,1216l0.2,3.3M507,1215l2.2,1.4M510,1218l-0.1,2.9M518,1217l1.6,0.8M520,1218l1.5,0.5M529,1219l1.2,-0.9M533,1217l2.2,0.8M536,1218l3.5,0.7M546,1217l4.6,-0.7M550,1217l1.8,-1.0M556,1215l1.8,1.1M558,1215l1.3,1.0M572,1217l5.0,-1.6M578,1217l-0.6,2.8M581,1216l3.3,2.9M584,1215l-0.1,2.0M588,1218l3.3,0.9M596,1219l3.2,1.0M598,1219l3.0,2.1M603,1217l2.2,3.7M608,1218l3.3,1.1M612,1219l4.9,-1.0M629,1219l2.9,-1.6M637,1216l2.4,4.4M646,1217l3.5,1.5M651,1217l2.0,0.1M652,1216l1.6,0.6M657,1218l1.6,1.0M266,1221l-0.1,3.0M277,1223l1.8,-0.9M282,1222l4.8,0.4M286,1224l-0.0,5.1M297,1223l0.9,-1.7M302,1223l2.8,0.7M310,1220l4.4,0.9M316,1221l2.6,4.4M320,1222l4.4,1.2M322,1221l2.3,2.0M328,1222l2.4,1.9M333,1221l1.8,0.8M342,1222l2.4,-4.6M348,1222l4.2,-0.0M354,1223l4.2,2.2M359,1222l4.8,1.1M363,1222l2.7,-2.3M372,1222l-0.4,2.7M375,1223l3.2,0.0M381,1220l3.9,2.9M383,1222l3.7,1.3M389,1219l2.5,1.5M392,1220l4.2,3.6M398,1223l3.1,-1.9M401,1221l2.5,-1.5M405,1220l2.2,-1.7M409,1222l3.6,1.9M414,1222l-0.1,4.0M419,1222l4.7,1.4M422,1223l3.0,2.6M427,1221l0.9,-1.6M434,1221l2.8,0.5M442,1221l1.7,0.1M448,1220l4.0,2.0M451,1221l2.8,0.2M457,1223l4.9,-1.7M460,1220l-0.7,4.3M465,1220l2.5,2.0M470,1221l4.3,2.9M472,1222l4.2,0.7M484,1221l2.1,3.9M487,1220l4.3,2.1M492,1220l-0.6,5.4M493,1223l0.7,4.0M500,1223l1.1,-1.2M505,1220l1.3,2.6M510,1220l-0.6,3.0M516,1221l0.4,2.7M521,1220l2.9,0.9M526,1221l3.7,1.0M533,1220l2.3,0.7M538,1222l3.8,0.4M544,1223l2.3,-2.2M546,1221l0.0,4.5M552,1220l3.7,1.0M555,1222l4.3,0.3M559,1220l-0.4,2.2M569,1223l5.0,0.7M574,1221l4.0,1.8M576,1221l5.1,0.8M582,1220l3.3,0.6M585,1221l-0.0,4.3M592,1223l2.8,1.6M600,1223l2.8,1.8M613,1219l2.6,-2.0M614,1220l4.1,1.7M624,1223l3.2,-0.0M631,1222l3.8,0.2M636,1221l3.1,-3.2M640,1220l2.6,1.9M646,1219l4.2,-1.3M651,1221l2.7,1.1M654,1221l0.1,5.5M658,1221l4.2,-0.4M663,1220l2.0,0.8M666,1220l2.3,-0.5M266,1224l4.1,0.5M273,1226l3.4,1.0M281,1224l3.8,3.5M284,1226l2.2,0.6M289,1225l3.1,-0.0M293,1225l0.1,3.1M296,1226l2.4,-2.2M300,1224l4.0,1.6M306,1227l4.8,2.6M309,1224l4.8,0.8M314,1228l4.2,-2.0M319,1227l3.4,1.2M321,1224l3.1,1.2M328,1227l2.1,-0.8M331,1227l3.1,-1.9M334,1227l1.3,1.1M341,1226l4.2,2.7M345,1225l2.3,-0.8M352,1224l2.5,1.6M356,1225l0.5,2.2M363,1227l2.2,-0.8M367,1224l4.8,2.1M376,1226l3.0,1.4M380,1227l4.9,1.7M382,1228l5.2,1.7M386,1226l4.7,-2.4M392,1227l4.7,1.0M397,1225l3.7,-3.9M401,1225l1.6,0.2M406,1226l-0.9,4.1M409,1224l2.1,-2.0M424,1228l0.5,2.4M430,1227l4.0,3.7M435,1224l4.0,-0.5M441,1226l3.7,0.7M447,1226l4.2,-1.7M452,1227l3.4,1.5M457,1226l4.7,-1.6M460,1225l4.1,1.5M469,1227l2.3,-0.8M475,1227l1.9,0.1M480,1225l4.3,0.8M483,1227l2.5,-0.0M486,1227l1.9,1.2M490,1226l1.4,-2.3M496,1224l3.3,-2.4M500,1224l0.7,5.1M502,1227l-0.2,1.9M513,1227l4.9,1.7M520,1225l1.9,-1.8M526,1225l4.1,1.3M529,1225l2.8,0.2M536,1225l1.6,-1.3M540,1227l2.3,-0.9M541,1226l0.4,2.4M547,1226l4.6,0.4M552,1227l1.6,-0.6M554,1226l2.7,1.2M558,1227l1.4,-0.9M567,1227l1.4,-0.7M578,1225l1.5,-1.6M580,1225l4.1,3.1M585,1227l3.4,0.7M591,1224l2.5,-3.1M595,1227l3.1,-1.6M599,1224l2.6,0.1M604,1228l3.7,1.9M616,1224l1.8,-0.7M618,1226l-0.4,2.6M625,1225l4.1,3.3M630,1226l3.5,-1.8M634,1225l0.8,5.2M635,1225l1.1,4.6M641,1226l3.6,1.0M646,1227l2.4,2.0M649,1227l4.2,-3.0M652,1226l3.4,1.8M663,1226l5.0,1.1M666,1224l1.5,0.5M265,1230l4.1,0.2M269,1231l1.1,2.1M277,1229l2.6,-4.4M280,1232l3.0,0.1M285,1228l4.3,2.9M288,1231l1.6,5.2M292,1229l-0.3,2.5M305,1228l3.0,1.5M308,1230l3.3,-2.7M316,1229l2.1,-0.7M317,1230l3.9,3.4M329,1231l3.2,0.4M331,1228l2.9,-3.9M353,1230l2.4,0.3M358,1232l5.2,1.3M363,1231l4.4,2.2M367,1232l1.1,4.6M370,1230l4.2,1.2M374,1228l1.4,2.4M377,1230l2.9,-2.3M383,1231l0.2,3.9M388,1228l1.6,0.3M392,1228l0.8,3.9M397,1231l3.6,2.9M400,1232l5.4,0.0M404,1232l2.1,1.7M410,1229l1.2,-1.4M411,1229l0.9,1.9M417,1231l1.3,-1.3M421,1231l3.1,2.3M425,1228l0.4,4.4M430,1229l4.0,-0.8M433,1230l3.2,1.2M440,1232l4.0,1.1M450,1229l3.2,-0.2M451,1230l2.6,4.8M457,1231l3.4,0.0M460,1230l-0.4,2.0M469,1230l2.0,-0.4M475,1230l2.3,0.6M476,1229l1.5,0.5M484,1231l4.5,1.4M489,1229l1.0,-1.3M497,1231l-0.5,4.1M499,1230l2.4,-1.7M503,1231l4.7,1.7M509,1229l2.2,2.0M511,1229l5.2,-1.7M522,1232l1.4,-2.2M531,1232l2.2,0.4M536,1232l4.2,1.7M538,1230l5.2,1.4M544,1229l4.9,0.8M549,1231l4.9,0.8M549,1232l1.5,0.1M556,1231l1.4,-1.7M562,1230l4.3,1.5M574,1232l4.7,0.7M582,1232l2.4,1.5M585,1231l2.7,0.3M588,1231l1.2,2.4M594,1230l3.0,-2.2M597,1231l3.1,2.9M602,1231l1.5,-0.3M607,1232l2.9,1.0M611,1232l2.7,0.2M618,1228l0.6,4.6M623,1228l4.0,1.0M627,1232l4.6,-3.0M634,1231l2.5,-1.8M636,1229l2.3,-0.6M642,1229l2.2,-2.2M650,1230l2.9,1.7M654,1232l3.9,0.5M659,1231l2.6,-2.9M665,1229l5.2,-1.5M267,1235l4.6,2.6M272,1234l1.8,-2.9M274,1234l5.5,0.1M281,1236l4.3,0.7M288,1234l4.6,0.8M298,1234l3.7,1.6M301,1234l2.7,0.7M307,1235l1.5,-0.9M312,1234l4.1,-2.3M313,1233l2.6,0.9M318,1233l2.6,0.6M321,1236l2.3,4.8M337,1235l4.1,-0.1M341,1236l4.3,3.3M346,1232l3.5,0.2M347,1235l1.5,-2.0M353,1232l5.2,0.9M357,1235l2.9,0.7M360,1232l2.7,1.7M371,1233l1.8,0.1M375,1235l2.3,1.7M379,1236l4.0,2.9M382,1234l4.0,0.8M389,1236l2.9,-1.4M394,1234l2.8,1.2M396,1235l2.5,1.0M398,1233l3.1,0.1M403,1236l4.6,1.2M409,1233l-0.6,2.7M414,1235l3.4,1.1M419,1233l1.4,2.6M420,1236l3.7,0.3M430,1233l0.5,4.2M436,1233l-0.0,3.2M440,1233l2.5,-0.5M442,1233l2.1,-0.0M458,1235l5.2,0.9M460,1235l1.2,3.0M464,1233l-0.0,2.4M468,1233l1.4,0.6M472,1233l3.4,1.6M476,1234l5.3,0.6M483,1236l0.1,5.3M487,1236l4.0,-3.2M492,1235l3.2,0.8M499,1236l4.0,-0.9M505,1234l1.4,-1.5M514,1235l2.2,1.3M519,1235l2.6,0.3M519,1236l2.6,-2.4M524,1234l2.9,0.2M528,1234l1.6,-1.2M532,1233l3.1,0.7M539,1236l4.2,0.4M547,1234l1.6,0.9M549,1234l3.0,2.0M557,1233l4.9,1.7M560,1235l2.2,0.6M564,1235l4.3,0.8M570,1236l1.1,1.0M573,1234l4.8,-2.5M575,1235l4.4,2.7M582,1236l1.9,0.5M590,1236l3.2,0.5M597,1233l3.1,1.1M606,1235l2.8,-4.2M611,1234l2.9,2.4M614,1232l3.5,2.7M620,1235l-0.5,3.9M623,1236l2.1,1.6M629,1236l3.0,0.3M631,1233l4.8,1.5M638,1235l-0.3,4.5M640,1234l2.4,0.5M651,1233l2.4,1.6M656,1233l2.1,-3.6M660,1234l2.4,0.5M662,1236l4.2,-1.5M666,1236l2.1,-0.9M273,1238l3.7,0.3M275,1238l4.0,0.8M279,1240l0.3,2.2M283,1241l4.7,2.1M294,1238l2.4,-4.5M300,1241l1.6,0.5M309,1241l4.1,-1.6M314,1240l3.6,-1.3M320,1238l-0.5,2.2M324,1238l3.9,1.0M328,1238l1.6,-1.1M338,1239l0.1,4.4M345,1237l4.7,2.2M348,1238l2.1,1.2M353,1237l2.0,0.2M359,1237l3.1,2.4M360,1238l3.4,1.5M368,1238l5.0,1.0M375,1237l4.7,0.9M379,1239l3.9,3.1M381,1240l1.5,1.0M386,1237l4.3,0.3M395,1239l2.8,0.1M401,1239l1.7,1.2M406,1239l2.6,0.0M408,1240l1.0,4.8M414,1239l0.6,1.9M417,1237l3.7,-2.9M422,1237l3.0,1.0M428,1241l3.4,-1.6M432,1238l2.5,0.6M434,1239l5.3,0.4M437,1237l1.5,0.3M445,1240l2.0,0.7M451,1240l4.9,0.8M460,1237l1.6,0.1M468,1238l4.5,0.8M473,1237l1.4,3.7M479,1239l2.9,1.2M482,1237l1.2,1.1M491,1237l2.8,2.4M494,1238l1.1,4.6M500,1238l1.5,0.6M503,1237l4.0,-0.1M513,1237l4.4,0.5M517,1241l1.6,0.2M524,1241l3.0,1.0M532,1237l3.5,1.1M549,1238l3.9,1.3M562,1237l1.3,4.5M568,1239l1.9,0.7M573,1240l2.4,4.2M576,1238l1.7,0.6M580,1237l1.7,0.8M603,1237l2.6,1.5M605,1240l2.3,0.5M611,1240l2.6,2.6M614,1240l2.7,2.5M619,1240l4.1,0.7M623,1238l2.7,0.7M627,1238l4.7,1.8M632,1238l2.9,-2.1M636,1239l1.3,-1.4M640,1239l4.1,0.8M645,1238l4.3,0.1M649,1237l2.2,1.1M652,1238l5.0,0.8M659,1241l1.2,-1.4M665,1239l1.7,0.3M669,1239l1.8,1.7M270,1242l2.7,1.0M277,1244l0.7,2.3M282,1243l3.4,-0.8M290,1244l2.6,-1.5M293,1243l5.2,1.6M298,1243l3.3,-0.7M303,1244l4.5,0.9M312,1242l3.2,-2.3M313,1242l3.6,2.3M319,1245l4.1,0.8M331,1241l5.3,-0.0M341,1245l1.2,1.1M347,1244l3.8,1.3M348,1242l4.1,-0.0M356,1241l3.2,0.4M363,1242l4.2,-0.3M366,1243l0.1,5.2M372,1242l5.1,-1.6M373,1242l5.1,1.2M383,1244l2.5,1.1M387,1245l3.6,-1.4M390,1242l5.0,1.8M405,1244l4.7,0.6M412,1243l5.3,1.2M416,1244l1.5,1.0M423,1242l2.2,-1.8M426,1242l1.6,2.5M431,1242l4.9,1.7M439,1244l1.4,1.3M446,1244l1.0,2.1M451,1243l3.0,-1.2M455,1243l1.5,-1.7M474,1244l2.0,0.6M476,1241l2.7,0.5M481,1244l2.8,1.3M485,1241l2.2,1.4M489,1241l2.4,-0.6M499,1243l3.7,-3.6M504,1245l2.1,-2.5M510,1241l2.9,-2.2M514,1242l3.2,1.3M515,1242l1.6,1.3M520,1242l3.5,-0.0M527,1244l2.1,1.2M534,1245l1.9,1.4M540,1243l2.0,-3.5M543,1243l2.4,4.7M548,1242l2.6,-4.1M550,1244l5.2,-0.8M554,1244l2.0,1.5M564,1244l0.4,3.5M572,1242l2.3,-3.3M579,1244l3.0,-2.5M583,1244l1.8,0.7M590,1243l2.1,1.4M592,1243l1.1,-1.2M598,1242l2.3,0.2M603,1242l2.8,0.7M611,1245l2.3,0.5M617,1245l1.3,1.0M620,1243l2.4,0.3M626,1243l3.6,0.9M634,1244l1.7,0.7M638,1243l3.5,0.4M640,1244l3.1,1.1M644,1242l-0.2,2.0M649,1242l0.5,1.6M653,1241l5.1,-1.7M659,1244l3.4,-1.3M663,1242l4.1,0.5M667,1243l1.1,-1.0M268,1249l0.0,3.4M272,1247l3.7,1.1M275,1247l4.0,0.6M282,1249l2.5,0.9M282,1247l4.6,2.3M289,1247l3.8,1.9M291,1247l4.4,1.9M299,1246l2.8,0.2M304,1246l1.9,0.8M309,1249l3.4,2.5M316,1245l3.4,0.0M318,1249l2.4,4.5M324,1249l4.4,-1.6M328,1247l1.8,3.2M330,1247l2.3,1.5M337,1247l1.8,1.5M354,1245l1.6,0.3M356,1247l2.5,-1.3M366,1247l4.8,0.1M377,1247l4.8,1.8M380,1247l3.8,2.0M383,1248l4.6,3.0M389,1246l4.9,-0.5M391,1247l1.4,0.6M398,1247l1.0,3.2M401,1249l-0.1,1.6M408,1246l1.7,2.8M412,1249l1.8,3.4M416,1246l2.2,4.7M423,1247l4.5,1.6M424,1249l2.9,-1.6M430,1247l5.2,0.9M442,1248l3.4,-4.1M449,1246l3.7,1.6M452,1245l1.7,0.9M458,1246l3.6,0.0M460,1245l3.1,-1.9M467,1248l5.0,0.8M472,1247l4.3,1.2M476,1248l5.4,0.4M488,1247l3.1,1.1M491,1246l5.4,0.9M496,1248l2.9,0.2M498,1246l4.8,0.1M503,1248l4.0,1.0M506,1249l1.8,0.4M511,1246l5.0,2.2M517,1246l2.6,-4.3M519,1246l4.0,-0.2M525,1248l0.9,2.7M531,1245l1.2,-1.5M540,1248l2.2,0.5M542,1245l4.1,0.4M547,1249l3.4,-1.0M549,1248l1.4,1.3M554,1249l3.9,3.3M560,1248l1.6,0.7M574,1248l2.8,0.9M577,1245l-0.7,4.6M579,1247l2.7,1.8M591,1248l5.0,1.7M594,1249l4.3,3.4M597,1248l2.1,0.6M611,1247l5.4,0.6M617,1249l3.2,1.3M619,1248l2.1,-3.6M626,1246l2.1,0.4M626,1248l0.4,1.7M635,1247l2.1,-0.7M647,1246l2.7,-0.3M651,1247l4.3,0.1M664,1247l3.4,1.1M265,1250l2.3,0.9M277,1251l1.9,0.7M280,1251l1.3,1.1M284,1252l4.4,1.8M288,1250l2.9,-1.7M295,1252l3.5,2.9M296,1253l3.5,1.2M301,1251l4.2,0.9M308,1250l4.6,0.6M309,1252l1.2,3.6M315,1252l2.1,1.9M338,1252l2.3,0.8M339,1251l4.2,1.0M342,1252l4.3,2.3M351,1250l2.7,-2.1M356,1251l1.3,3.3M360,1253l2.7,-0.9M366,1253l4.1,1.7M370,1252l3.1,-1.0M375,1251l3.0,2.6M379,1250l1.6,4.1M382,1251l-0.4,3.4M388,1251l3.2,-2.4M390,1251l4.3,1.4M395,1251l0.3,5.2M400,1251l2.0,-1.5M405,1253l4.6,1.2M408,1251l3.7,1.2M414,1250l3.8,2.7M416,1254l3.9,0.7M420,1253l-0.0,1.7M430,1252l0.5,1.6M436,1252l1.1,4.4M439,1251l5.3,-0.9M442,1252l1.9,1.6M452,1252l1.6,1.0M457,1252l-0.1,5.1M459,1250l2.6,-4.6M465,1250l4.1,0.4M468,1254l1.5,1.5M475,1252l3.2,0.6M484,1251l1.3,4.2M484,1252l1.2,-1.3M494,1250l1.5,0.9M498,1251l-0.0,1.9M505,1252l3.7,1.2M511,1253l2.9,1.4M516,1253l-0.9,5.0M522,1253l-0.5,3.3M523,1252l3.5,0.5M529,1253l2.7,0.6M533,1253l1.6,3.0M539,1253l1.9,0.7M544,1250l3.9,0.6M546,1253l1.5,0.7M553,1252l4.7,1.8M555,1252l1.9,1.5M559,1251l2.9,1.2M565,1250l4.9,0.0M572,1254l1.0,-1.4M581,1251l3.3,2.5M586,1253l1.9,-1.7M590,1254l-0.4,1.9M594,1250l4.3,1.7M597,1251l4.6,3.0M607,1252l1.2,2.6M613,1253l3.6,2.1M620,1253l3.8,1.2M626,1253l2.4,2.3M629,1253l1.6,-1.6M637,1253l1.6,0.6M643,1254l2.9,2.5M648,1251l2.4,1.0M652,1252l2.3,-0.0M660,1252l5.3,1.2M267,1257l5.1,-1.3M274,1256l1.4,1.2M281,1258l2.7,-1.3M282,1257l3.7,-1.2M291,1257l3.3,2.4M297,1258l1.8,1.0M302,1257l1.9,-2.3M306,1255l0.3,2.3M310,1258l-0.5,2.6M315,1255l2.8,-1.8M320,1255l4.6,2.0M323,1255l3.4,-1.2M326,1257l5.2,0.2M333,1254l4.2,2.4M335,1255l4.4,1.8M338,1257l3.9,1.2M347,1258l3.1,-3.5M364,1255l3.3,0.1M372,1257l2.2,-2.8M380,1256l1.9,0.7M382,1256l1.9,-1.3M388,1257l2.7,2.0M390,1255l1.6,-1.2M397,1256l3.8,1.4M400,1255l3.4,-1.9M409,1255l2.8,-0.0M417,1254l1.4,1.1M422,1257l2.0,-0.0M426,1256l3.0,-0.8M432,1254l1.7,4.8M437,1257l2.2,0.2M440,1256l2.2,0.0M443,1257l3.6,2.2M450,1256l-0.4,4.5M456,1255l2.5,2.2M462,1256l0.3,1.9M466,1256l2.7,-1.3M468,1256l2.7,0.6M476,1255l5.0,0.3M477,1255l4.1,2.5M481,1255l3.1,2.6M485,1257l1.8,4.6M491,1254l3.8,1.7M501,1254l4.3,0.7M507,1258l3.2,1.3M512,1256l1.7,1.2M522,1257l3.2,1.5M535,1258l2.9,-0.8M538,1257l2.4,-0.5M544,1258l3.5,2.5M548,1256l1.6,-2.3M549,1257l3.9,0.5M561,1257l2.5,-4.2M566,1257l5.3,1.4M571,1256l5.5,0.7M583,1258l4.0,-0.6M583,1255l3.4,-0.1M590,1256l0.0,2.6M595,1255l3.7,1.9M599,1256l3.7,1.3M602,1256l1.9,-1.4M610,1255l2.2,0.6M614,1257l2.3,3.9M619,1257l1.7,1.2M624,1254l2.9,1.0M633,1257l3.8,0.3M635,1255l1.7,0.2M640,1257l1.9,-0.6M645,1255l0.5,3.0M653,1256l2.5,0.1M658,1255l1.7,-0.3M662,1258l2.2,0.5M665,1257l3.8,2.7M265,1259l3.8,-1.5M271,1261l3.3,1.6M277,1261l3.1,-4.3M280,1260l2.9,2.2M284,1260l4.0,3.4M287,1258l3.0,2.7M295,1260l4.4,0.1M301,1261l5.2,0.9M307,1260l2.8,1.3M317,1261l4.1,-0.4M318,1262l3.5,0.4M324,1261l3.1,0.0M332,1260l4.1,2.0M334,1261l2.9,-0.5M344,1259l3.9,-3.0M347,1260l2.5,-0.5M355,1260l4.3,0.7M356,1259l2.7,-0.0M362,1259l2.5,0.4M369,1261l3.1,-3.2M377,1259l4.1,1.7M378,1262l2.8,0.9M383,1261l3.5,1.8M386,1260l3.6,1.1M392,1258l2.7,0.9M402,1260l4.2,1.2M403,1258l3.5,-3.1M408,1259l-0.2,1.8M418,1260l1.1,-1.2M420,1259l3.4,-1.3M430,1258l2.8,0.1M434,1261l1.5,0.3M440,1259l3.4,-2.6M444,1260l2.3,1.5M448,1259l0.9,1.8M450,1259l2.3,1.0M460,1259l5.1,-1.0M466,1259l1.6,1.4M472,1259l2.8,-1.4M477,1260l4.2,-1.1M483,1259l1.6,-0.9M485,1261l3.5,-2.1M492,1259l1.8,0.6M494,1261l1.1,3.1M500,1260l2.6,-2.6M502,1260l1.1,-2.0M508,1261l3.6,3.5M512,1259l3.7,0.9M515,1262l0.2,2.3M531,1258l2.2,-4.0M537,1262l3.5,2.2M544,1261l-0.2,2.9M546,1261l0.7,3.1M551,1258l1.5,0.6M554,1259l2.9,2.3M563,1260l2.9,-1.6M568,1260l3.0,0.6M574,1262l4.9,1.3M576,1260l3.2,0.9M582,1261l1.6,1.3M586,1258l1.4,1.1M590,1262l3.0,1.4M599,1261l2.6,1.5M602,1262l2.5,2.4M606,1261l3.1,-0.6M622,1258l5.2,1.2M625,1262l0.2,2.1M630,1262l5.4,0.9M632,1261l4.0,0.3M637,1262l1.7,0.3M647,1259l4.2,2.7M652,1258l4.2,0.5M656,1262l-0.1,3.1M660,1261l3.9,1.9M665,1258l1.3,-1.3M666,1259l1.1,2.7M268,1264l4.2,-1.7M273,1264l4.5,2.1M274,1265l2.4,0.1M281,1266l3.1,0.5M284,1264l3.6,0.3M290,1264l5.2,1.1M292,1265l2.2,-2.4M296,1263l3.9,1.3M300,1263l0.8,1.8M305,1266l1.7,3.8M319,1265l4.1,1.7M325,1265l4.2,-3.2M333,1264l3.7,-1.2M336,1265l1.5,2.7M344,1263l3.8,0.8M349,1266l2.3,0.1M354,1266l4.7,0.8M368,1263l1.8,0.2M370,1265l3.3,0.7M375,1262l2.8,1.9M378,1266l2.0,0.3M381,1264l2.8,0.8M389,1266l0.5,5.5M393,1265l0.4,2.0M398,1266l0.6,4.2M402,1263l3.2,1.5M405,1263l5.3,-1.1M408,1264l1.4,-0.7M420,1264l2.8,0.7M421,1262l2.2,1.0M424,1263l4.6,0.0M431,1263l3.4,2.0M436,1263l2.4,1.8M439,1264l4.7,2.2M447,1264l2.0,-3.3M452,1264l4.9,1.2M461,1264l3.6,2.6M466,1265l2.6,1.5M468,1264l1.5,0.5M473,1263l4.1,3.4M478,1263l3.8,-2.8M483,1262l2.7,2.4M487,1265l4.3,0.4M490,1264l3.5,0.4M503,1263l1.4,4.6M509,1266l3.5,0.2M512,1264l2.1,1.6M518,1265l2.5,0.2M523,1263l1.3,0.8M527,1263l0.1,2.8M535,1263l2.0,0.7M541,1265l2.3,-0.9M547,1263l3.4,-2.7M553,1262l2.9,2.3M554,1264l0.6,3.6M562,1264l2.2,-1.9M573,1266l-0.1,1.7M576,1265l3.6,2.9M582,1265l1.7,-0.3M585,1265l4.6,-0.4M591,1266l2.6,0.5M594,1263l2.7,1.4M600,1263l3.7,1.6M607,1265l2.9,0.5M609,1264l4.2,-1.3M614,1264l1.8,0.4M619,1263l3.2,0.5M625,1263l1.8,-0.2M629,1264l3.1,0.3M652,1267l1.8,0.9M654,1267l2.4,-4.2M661,1266l4.4,1.6M269,1267l2.8,-0.3M271,1269l3.2,-4.0M276,1269l3.4,0.9M279,1267l3.1,2.1M285,1267l1.6,0.9M293,1271l1.4,4.8M300,1268l1.8,0.1M305,1271l2.0,3.3M309,1268l2.2,1.6M314,1271l-0.0,2.6M319,1268l5.1,1.3M324,1269l0.6,4.3M330,1271l2.0,0.1M336,1268l4.2,0.1M339,1269l3.4,-1.3M343,1270l5.5,0.3M351,1268l2.2,-0.5M364,1267l2.9,1.6M368,1268l3.5,0.3M371,1270l3.7,0.4M375,1269l0.6,2.5M380,1270l2.2,-1.2M383,1270l2.3,2.3M387,1268l3.3,1.3M398,1268l2.8,1.5M399,1268l2.2,-0.5M404,1268l2.2,0.7M415,1268l0.6,2.3M422,1269l2.8,0.4M425,1269l4.0,1.5M432,1269l4.8,-2.2M436,1269l1.1,3.9M437,1268l0.8,-1.3M443,1270l1.8,0.9M451,1270l2.6,-1.1M458,1268l4.6,0.9M460,1269l2.9,0.5M465,1267l1.8,-0.9M469,1270l3.4,-0.3M472,1267l2.0,-1.6M477,1270l2.1,0.7M481,1268l3.5,0.1M485,1268l1.4,-0.9M492,1268l3.6,-1.3M493,1271l1.7,0.7M501,1267l2.6,0.0M503,1269l2.6,2.4M509,1269l4.9,-0.0M512,1269l4.1,0.4M515,1268l0.4,2.9M522,1268l3.3,-0.0M529,1270l1.4,-1.1M532,1269l2.4,2.1M538,1267l5.0,1.5M546,1267l4.9,1.3M551,1267l1.7,0.5M556,1268l1.5,0.1M560,1268l3.0,1.9M562,1268l1.0,-1.3M569,1270l2.8,1.2M571,1270l5.1,0.1M583,1271l4.6,1.2M585,1271l3.8,2.1M589,1268l3.7,0.9M594,1269l1.9,5.0M596,1268l2.1,-1.8M603,1267l0.8,3.1M608,1267l1.7,1.3M613,1269l3.5,-3.7M615,1269l1.0,2.7M619,1268l3.6,-0.0M624,1270l3.7,-2.1M630,1269l3.0,0.2M634,1269l3.3,2.1M636,1269l2.5,4.1M639,1267l5.3,0.3M645,1269l1.3,-2.2M652,1267l3.9,-3.6M660,1267l5.0,0.7M662,1270l0.9,3.4M269,1272l2.8,0.6M272,1274l0.1,1.7M277,1272l2.6,2.5M293,1272l3.5,2.5M296,1271l4.1,2.0M307,1272l-0.9,5.1M316,1271l4.0,0.5M319,1273l4.0,1.5M329,1272l2.2,0.5M332,1273l2.1,-0.3M334,1275l3.9,-2.1M340,1272l0.3,4.4M343,1274l0.0,5.2M349,1272l2.7,2.3M352,1275l4.5,3.0M358,1273l3.8,-2.9M364,1274l4.2,0.2M372,1272l-0.4,1.7M383,1275l2.3,-2.0M388,1273l1.0,4.0M392,1271l3.4,3.3M397,1272l1.6,0.4M400,1274l3.1,1.2M404,1274l1.1,3.8M409,1272l5.0,-1.6M413,1274l2.5,0.7M417,1273l3.3,1.4M423,1274l3.8,3.2M425,1272l1.9,1.1M432,1274l3.5,1.5M441,1273l4.4,1.2M444,1272l0.5,2.6M452,1273l5.0,1.5M456,1274l3.9,0.6M461,1271l4.7,-1.9M471,1274l5.0,0.6M473,1274l4.5,-2.7M477,1275l1.1,1.1M488,1272l1.4,4.4M489,1275l4.8,0.1M496,1272l2.4,0.5M505,1272l2.9,1.1M508,1274l1.5,-1.3M517,1272l2.4,-1.7M522,1275l-0.2,1.8M524,1272l3.2,1.3M528,1274l4.7,2.0M532,1275l0.2,4.5M538,1273l2.8,0.5M544,1271l3.8,2.6M548,1272l2.4,-3.2M549,1273l1.3,1.1M555,1275l1.9,3.1M558,1275l1.2,1.2M563,1275l2.4,-1.0M567,1274l4.8,2.0M574,1272l1.3,-0.8M578,1273l2.5,-0.4M583,1272l0.3,2.1M590,1271l4.1,2.1M595,1273l3.5,1.3M600,1272l1.9,-1.6M601,1273l2.9,0.4M608,1272l2.4,-0.3M612,1272l2.2,0.3M621,1275l2.0,0.2M623,1273l3.6,0.0M638,1273l1.1,3.8M640,1275l4.3,0.6M645,1271l3.1,-0.5M650,1271l2.1,-0.6M655,1274l3.1,-1.3M658,1275l0.6,3.6M664,1271l3.2,0.5M268,1278l1.6,1.5M277,1275l1.2,3.9M282,1279l3.2,1.5M283,1277l2.9,1.3M288,1279l3.5,1.4M293,1278l3.0,0.8M302,1278l1.6,-1.6M304,1278l1.4,1.0M310,1276l2.9,2.6M316,1275l3.1,-2.1M318,1277l4.0,1.1M324,1278l1.1,3.3M327,1279l1.5,-1.3M330,1278l2.7,2.4M337,1279l0.3,4.4M344,1275l5.0,1.4M350,1277l4.9,1.5M352,1277l2.2,0.6M358,1275l2.5,-4.4M363,1279l2.0,0.0M367,1277l-1.0,5.0M377,1279l5.1,0.4M379,1279l2.9,1.7M382,1277l2.9,2.8M387,1278l2.6,-2.2M402,1276l5.0,0.4M407,1278l1.2,-1.6M409,1276l4.5,2.9M419,1279l2.9,1.2M423,1277l4.4,3.0M428,1279l2.9,-0.7M432,1279l2.1,1.3M434,1279l4.1,0.3M440,1277l1.9,0.2M445,1277l1.5,1.4M450,1279l1.8,0.8M454,1277l3.5,0.1M460,1278l1.7,-2.7M467,1278l1.2,0.9M468,1276l3.7,-3.9M479,1278l1.9,-1.4M483,1276l2.4,3.9M488,1275l0.4,1.8M492,1276l1.4,1.4M495,1279l2.3,-1.9M499,1279l4.6,1.6M503,1276l0.8,3.8M508,1277l2.0,-0.5M514,1279l1.7,0.4M518,1279l2.0,4.0M520,1278l2.7,0.6M532,1277l4.7,2.8M535,1279l2.3,-3.7M538,1278l4.3,-1.7M543,1277l3.1,0.1M548,1275l1.1,1.9M551,1276l2.6,-1.1M553,1277l4.1,2.5M565,1275l1.8,4.9M578,1277l3.1,-1.1M582,1277l3.9,3.4M595,1276l3.3,-1.6M600,1277l0.2,5.0M606,1277l2.8,0.2M612,1278l1.6,4.3M618,1276l2.1,1.5M619,1278l1.7,3.3M625,1278l4.0,1.2M630,1279l1.7,-3.0M635,1279l2.5,-2.4M641,1278l1.6,-1.0M645,1279l4.3,-0.0M653,1276l1.6,0.1M659,1276l3.8,1.0M662,1277l3.7,1.5" stroke="#fff" stroke-width="2.2" stroke-linecap="round" fill="none"/></g>
<polygon points="265.0,1159.0 301.0,1129.0 312.0,1131.0 664.0,1266.0 665.0,1272.0 658.0,1279.0 540.0,1274.0 400.0,1215.0" fill="none" stroke="#000" stroke-width="3.5"/>
<clipPath id="t1"><polygon points="262.0,1036.0 347.0,974.0 506.0,1030.0 425.0,1102.0"/></clipPath>
<g clip-path="url(#t1)"><polygon points="262.0,1036.0 347.0,974.0 506.0,1030.0 425.0,1102.0" fill="#000"/><path d="M264,976l0.7,3.8M270,976l2.1,5.1M274,976l2.3,0.7M279,976l1.5,0.9M282,975l2.1,1.5M287,976l3.3,-3.3M292,978l3.5,0.0M295,977l4.6,1.5M299,976l3.2,2.7M314,978l-0.6,3.7M319,978l0.7,1.9M325,976l2.6,1.8M328,977l4.0,0.1M334,975l5.1,2.1M335,977l4.0,3.6M341,977l5.2,1.2M350,976l4.0,1.2M356,977l4.2,1.4M358,978l0.9,2.7M365,975l3.3,-2.3M368,976l3.7,1.3M372,977l2.8,-1.1M375,977l2.7,0.7M381,975l2.5,-4.0M387,976l2.4,0.6M393,977l4.7,2.4M396,977l4.5,0.2M402,975l5.3,0.0M407,976l4.7,1.2M411,977l3.0,-3.6M414,976l1.3,-1.0M418,976l-0.7,3.2M433,978l5.2,1.1M438,978l-0.4,1.9M438,977l-0.9,5.0M447,977l2.3,0.9M454,974l0.9,1.8M463,974l3.6,0.5M472,978l1.2,0.9M476,974l3.9,0.7M477,975l3.6,2.8M482,976l1.5,1.1M487,975l2.9,0.9M491,978l2.0,-3.1M496,974l3.3,0.0M501,977l2.9,1.5M505,977l3.0,-1.1M263,979l1.6,2.8M270,982l2.7,2.6M278,982l5.0,0.7M282,981l0.7,4.7M286,979l0.9,-1.6M292,979l4.8,1.2M293,980l3.6,1.4M297,982l0.4,2.4M301,981l1.2,3.6M310,979l0.1,5.3M316,982l0.4,1.8M322,980l2.9,1.2M325,982l4.1,-0.1M331,982l3.3,0.0M336,979l3.5,0.3M351,981l3.1,-2.2M362,982l2.9,0.3M369,979l3.9,-0.1M373,982l2.9,4.7M378,982l2.3,0.8M381,981l1.9,1.5M384,979l1.6,0.2M391,979l1.6,1.0M399,980l4.2,1.5M400,980l1.8,-1.5M408,980l1.6,4.8M410,980l-0.3,1.9M420,982l3.6,2.0M434,980l0.3,1.9M436,981l4.4,0.8M441,979l3.2,2.6M447,979l3.6,2.0M448,979l1.5,-1.7M454,982l0.3,3.0M457,979l3.5,0.0M463,980l2.4,2.2M471,983l1.9,0.4M476,981l3.2,1.9M479,983l1.9,0.9M482,981l2.1,4.5M487,982l4.9,-2.0M492,981l3.6,-0.0M498,981l3.9,2.0M502,981l2.3,-3.3M506,979l-0.9,5.2M263,985l4.7,0.4M267,984l3.2,1.3M272,984l1.8,1.0M283,986l5.1,2.1M284,983l3.4,0.7M288,983l2.6,1.6M292,986l2.4,1.3M300,984l1.6,0.6M304,985l2.1,1.1M306,986l2.9,2.2M309,985l0.7,1.5M314,985l2.5,1.9M318,986l2.9,0.9M326,984l2.2,0.6M327,987l2.2,3.8M334,985l3.5,1.4M337,987l4.2,0.2M344,983l3.5,-0.0M349,985l5.3,0.8M356,987l2.5,-1.0M361,983l3.1,0.4M363,985l2.6,-3.7M369,985l3.0,0.8M373,985l2.8,2.1M378,986l1.1,-1.9M382,983l1.9,0.3M386,985l-0.4,3.3M392,984l4.6,0.6M401,985l4.1,-1.0M417,983l1.7,1.6M419,986l1.6,4.8M423,985l1.6,1.2M430,983l3.4,0.2M433,985l4.2,-0.0M436,985l5.2,1.1M440,983l4.1,1.5M444,985l3.2,2.8M450,983l1.1,2.7M457,983l4.4,1.1M461,986l5.2,0.5M466,987l-0.6,3.4M470,987l5.1,1.1M473,986l1.6,0.7M478,983l2.1,-2.0M485,984l4.8,1.7M486,985l3.0,-0.5M498,984l4.1,-3.6M503,984l4.7,1.7M263,990l4.0,-0.0M266,991l4.5,0.7M275,990l1.2,1.9M277,988l4.2,2.1M280,990l1.8,-1.8M285,990l4.4,-1.2M292,990l3.7,-3.1M293,988l1.6,0.6M303,990l0.5,2.9M306,987l2.6,2.6M311,989l5.0,1.8M315,989l1.8,-1.6M320,988l3.3,1.6M323,990l4.2,0.3M329,991l2.7,-0.1M334,991l1.7,-1.9M345,988l3.0,1.0M356,990l4.5,0.1M364,987l3.1,2.9M369,989l1.5,0.7M374,988l5.3,-1.4M377,988l4.0,0.5M381,987l5.3,0.1M384,987l0.9,-1.3M387,988l3.5,-3.8M392,991l1.8,1.7M399,989l3.3,0.9M402,991l2.7,-2.0M406,989l2.3,-3.1M421,991l4.7,1.1M424,987l-0.2,1.9M429,990l0.1,3.6M430,989l2.6,-2.9M436,989l2.9,-0.4M443,991l2.6,0.7M447,989l4.1,1.7M453,988l3.4,1.3M466,990l3.5,1.1M470,988l3.8,-3.9M474,989l4.7,1.6M479,988l0.9,3.1M486,989l2.9,0.5M490,987l2.2,0.7M497,988l4.2,-2.4M265,992l1.2,-1.6M269,992l1.6,0.8M272,991l1.9,0.7M278,994l2.6,-0.4M282,995l4.3,1.5M288,993l1.6,-1.1M295,995l1.8,1.5M297,994l2.7,2.3M304,992l4.7,-2.2M306,993l1.4,3.5M312,994l2.6,1.3M318,995l3.3,0.1M322,994l2.2,-0.9M335,993l4.4,1.0M336,995l1.7,0.5M341,992l1.7,0.4M349,993l2.3,1.0M353,994l1.6,3.9M359,993l2.9,1.5M364,995l1.0,-2.0M367,993l4.9,-2.3M374,993l3.2,0.2M379,993l2.7,2.1M386,993l1.4,-2.5M389,994l0.4,3.8M392,993l4.1,-1.9M395,994l3.1,0.7M400,992l2.8,1.3M406,993l3.7,-0.0M412,994l1.7,0.1M413,993l3.7,0.3M418,994l1.7,0.5M422,995l1.9,0.3M426,993l3.7,-0.9M431,992l3.6,2.5M441,994l2.0,2.0M446,992l2.2,1.3M449,995l3.8,-0.2M455,993l3.5,1.6M456,992l4.3,-1.8M463,992l2.9,0.5M466,994l2.1,0.3M475,994l2.8,0.2M482,992l1.6,1.3M486,995l3.2,-1.9M492,992l4.2,0.2M494,993l5.3,-0.7M502,993l0.9,4.1M504,993l2.3,0.6M262,997l1.9,3.7M267,997l0.7,2.2M272,999l1.3,4.9M277,998l3.3,0.4M280,1000l1.6,3.2M286,996l-0.5,1.9M290,997l0.7,-1.4M292,998l1.6,-0.6M298,998l3.9,2.7M303,997l5.0,-1.9M305,999l-0.1,4.4M310,1000l4.9,2.0M314,998l4.1,1.4M320,998l-0.5,2.7M325,999l2.9,-0.6M330,1000l3.8,-2.1M334,1000l2.2,1.1M336,996l0.7,3.2M342,997l4.6,1.3M348,997l0.9,2.2M351,998l3.8,1.1M354,998l0.5,2.2M359,999l5.0,0.7M369,996l-0.3,2.0M374,997l2.5,2.1M375,999l3.1,-2.6M378,998l-0.5,2.7M387,997l3.0,0.4M398,996l0.8,2.2M402,997l0.3,4.8M405,997l1.2,2.2M409,1000l2.8,2.4M414,996l1.7,-2.1M425,997l3.0,-1.0M428,999l1.7,4.2M430,996l2.1,0.5M434,997l2.5,4.4M438,997l4.6,-0.2M443,996l3.1,-3.8M449,998l1.5,-0.2M453,998l0.8,-1.6M457,998l2.1,0.6M461,996l1.3,2.0M464,998l2.3,-3.3M470,998l3.0,3.0M477,999l2.0,1.1M482,997l3.3,0.1M489,999l3.8,2.3M493,999l3.4,2.7M494,999l2.7,-4.1M501,998l4.6,2.4M506,996l2.6,1.1M270,1002l4.4,1.1M272,1000l3.4,-1.9M279,1002l3.0,2.6M282,1002l2.9,1.6M286,1002l3.5,-2.8M291,1003l4.3,0.2M298,1001l4.5,2.8M309,1004l3.1,1.2M311,1003l0.1,1.5M316,1000l2.6,-0.4M320,1002l0.5,2.4M322,1004l1.5,0.4M327,1000l2.2,1.1M334,1000l2.1,5.1M336,1001l1.9,0.9M342,1000l4.8,-2.2M346,1004l2.8,0.9M352,1003l2.7,-1.5M360,1003l3.9,3.5M365,1001l4.6,-2.5M367,1002l2.8,1.1M371,1000l1.2,1.0M376,1001l-0.7,5.4M380,1003l2.0,-0.8M397,1001l4.7,-1.5M401,1003l5.0,1.1M406,1002l1.6,-2.4M412,1001l-0.1,2.6M416,1003l4.0,1.0M418,1004l3.9,1.4M425,1000l-0.3,1.5M433,1004l0.7,5.2M436,1003l5.1,1.0M446,1001l1.6,3.9M450,1002l1.2,0.9M453,1000l1.4,-1.3M457,1001l2.9,1.0M464,1000l4.2,1.4M464,1001l1.3,4.3M475,1001l0.9,-1.6M478,1002l2.2,0.5M485,1001l1.0,5.0M493,1002l1.8,0.1M497,1003l2.2,0.3M499,1002l2.4,-0.7M504,1004l1.9,1.5M265,1008l3.9,-1.0M267,1007l3.8,3.0M274,1007l-0.3,5.2M277,1006l5.4,0.4M282,1008l4.4,2.4M284,1006l1.4,-2.7M296,1005l1.2,1.1M304,1008l4.0,1.5M309,1005l1.6,0.8M314,1005l3.3,2.6M320,1004l2.6,-1.5M323,1006l1.6,0.8M328,1007l1.4,-2.1M332,1007l5.1,1.5M339,1006l2.0,1.1M342,1006l2.6,0.3M348,1005l5.2,0.5M349,1008l2.7,1.7M359,1005l3.6,-2.9M364,1007l1.9,-0.3M371,1007l2.4,0.1M382,1005l3.9,1.9M384,1004l-0.9,4.1M387,1008l3.2,-1.2M394,1006l1.9,-1.0M399,1006l4.8,0.8M402,1005l1.2,3.9M411,1007l1.6,0.5M418,1004l4.7,-2.7M422,1008l2.7,0.5M427,1006l2.5,-1.1M440,1005l0.9,1.6M446,1005l4.5,1.1M448,1004l4.6,1.7M452,1008l5.3,0.6M458,1008l2.7,0.9M461,1008l2.5,0.9M465,1005l4.7,0.6M474,1008l5.4,0.6M480,1006l2.0,0.8M486,1008l4.9,0.2M486,1007l3.3,0.1M496,1007l4.1,-3.1M500,1007l3.8,0.6M505,1005l4.6,2.7M267,1011l2.0,0.5M274,1010l5.0,1.1M277,1009l5.3,1.3M281,1011l4.1,1.4M285,1013l5.4,1.0M288,1008l1.7,-2.2M294,1012l3.2,0.2M300,1012l2.6,2.0M303,1011l1.5,0.4M311,1012l2.2,1.9M314,1009l1.6,0.8M320,1011l-0.1,2.5M324,1010l3.8,0.0M330,1011l0.8,3.9M331,1012l1.8,-1.1M335,1012l3.1,1.1M340,1011l5.3,0.5M346,1010l1.3,-2.2M350,1012l5.0,-0.6M355,1009l3.5,-0.0M359,1012l2.6,-1.5M364,1011l0.4,1.8M366,1010l2.6,0.4M371,1010l1.3,0.8M376,1010l5.4,-0.8M385,1010l2.0,0.2M390,1011l3.8,1.7M395,1012l3.2,2.7M397,1011l3.1,1.8M400,1012l5.0,1.1M410,1010l1.8,-0.1M415,1010l0.4,2.9M424,1009l1.7,0.0M427,1010l1.5,0.3M441,1010l2.4,0.1M448,1012l5.2,1.1M452,1012l4.6,0.4M463,1010l3.1,1.3M467,1011l3.4,0.6M474,1010l1.7,1.1M481,1012l3.5,2.6M485,1010l1.8,0.9M488,1010l3.2,1.9M498,1012l1.1,-1.4M506,1012l2.7,0.6M269,1013l2.4,0.5M273,1013l2.0,1.5M282,1014l4.9,1.1M288,1013l-0.5,4.4M294,1013l2.1,3.7M299,1014l0.7,2.3M305,1016l2.7,-4.6M306,1014l0.9,-1.2M313,1013l1.9,0.5M316,1014l2.6,1.2M324,1016l2.8,-1.0M330,1014l2.7,0.3M333,1017l4.9,0.3M336,1015l1.7,0.8M343,1015l4.7,1.1M352,1017l2.6,4.3M356,1014l4.3,0.5M359,1016l2.0,1.6M365,1013l2.7,1.4M366,1016l1.5,-0.7M373,1016l-0.3,3.9M379,1014l3.4,-0.4M390,1015l-0.2,4.9M392,1015l2.0,-3.5M397,1013l2.5,-3.2M408,1016l2.4,-1.1M411,1017l3.1,-0.3M413,1015l4.8,-0.0M417,1017l3.3,-1.0M428,1013l5.3,0.5M430,1015l1.7,4.7M436,1013l3.2,-0.8M440,1016l2.2,-0.8M447,1013l2.1,0.9M455,1014l3.0,3.0M461,1013l2.4,2.3M476,1017l0.9,3.2M480,1014l2.2,3.6M484,1014l4.0,0.5M487,1015l2.4,0.3M498,1013l3.8,2.5M501,1015l2.3,-0.9M506,1015l3.6,0.9M265,1018l3.5,0.6M268,1018l5.1,0.8M273,1017l2.6,0.4M276,1018l4.1,2.4M281,1021l2.9,-3.0M287,1019l4.2,1.1M288,1018l4.2,2.9M299,1020l2.5,1.3M308,1018l0.6,1.5M310,1021l2.8,-0.4M318,1019l4.0,0.6M319,1019l4.1,0.2M325,1019l4.1,0.8M327,1019l4.8,1.4M334,1018l3.8,-2.1M339,1017l2.6,0.4M343,1020l2.4,1.7M345,1018l4.4,-2.1M352,1018l3.0,1.1M354,1020l4.1,3.4M361,1018l4.4,-2.9M366,1019l2.1,1.9M371,1021l3.0,2.0M376,1018l2.7,-2.2M378,1021l5.2,0.5M383,1021l2.5,0.5M390,1020l3.5,0.3M393,1021l4.1,1.1M399,1020l4.1,1.5M404,1020l1.0,1.9M405,1017l2.7,0.5M409,1019l2.1,1.0M413,1021l2.1,-1.3M424,1020l3.0,2.0M430,1019l3.5,2.5M437,1020l1.8,0.9M446,1021l2.2,4.1M449,1017l3.5,2.1M453,1017l2.4,-0.5M459,1019l3.5,2.5M463,1019l2.9,1.0M468,1021l-0.3,2.7M470,1018l3.4,0.4M474,1018l0.9,3.1M478,1019l0.4,1.5M482,1020l4.0,2.8M489,1021l4.6,0.1M492,1017l0.9,2.3M497,1020l4.4,1.8M503,1018l3.8,-2.1M266,1024l2.9,1.0M267,1022l2.0,-0.9M272,1022l3.1,1.4M277,1023l1.6,-0.4M281,1023l3.1,-0.8M290,1022l2.9,0.7M296,1023l3.0,-2.8M302,1024l4.9,1.8M306,1024l2.5,0.4M311,1022l2.9,0.2M314,1022l1.5,0.5M319,1022l-0.4,2.5M326,1024l2.6,1.5M329,1022l1.5,0.6M334,1021l3.6,-1.2M335,1021l3.5,2.1M340,1022l3.2,-0.6M350,1024l3.9,1.2M356,1025l3.1,-1.3M360,1025l0.7,2.9M362,1022l2.3,0.6M365,1023l0.4,2.2M374,1022l5.0,2.1M379,1023l4.2,-2.3M386,1024l3.8,-1.5M389,1021l3.1,1.2M397,1025l1.4,3.0M402,1024l2.3,1.7M409,1023l2.9,2.4M415,1022l2.5,0.2M419,1025l1.5,0.8M428,1023l3.4,-1.6M435,1024l3.8,0.1M440,1025l1.7,0.5M443,1022l2.7,2.6M451,1022l0.9,-1.6M454,1024l1.5,0.4M460,1023l2.0,1.7M466,1025l4.3,1.7M472,1022l4.2,0.7M476,1025l2.3,0.5M481,1025l3.7,0.7M483,1024l3.8,-3.5M490,1025l4.9,1.8M493,1025l1.7,0.6M496,1025l4.9,1.3M502,1023l4.6,1.4M262,1026l4.6,1.3M271,1030l4.0,1.6M277,1027l3.2,2.2M281,1026l1.7,-2.4M285,1029l3.1,0.8M290,1028l4.7,2.6M298,1030l2.4,-0.4M306,1028l5.2,0.9M314,1026l2.6,-4.0M314,1026l3.1,0.8M322,1026l3.2,3.0M325,1027l2.8,0.1M330,1026l3.0,0.6M334,1029l1.2,2.3M337,1029l3.1,-1.8M346,1030l4.4,1.6M349,1027l2.8,0.8M353,1027l4.7,0.8M358,1028l3.2,1.8M362,1028l3.2,-1.6M365,1029l4.3,1.5M372,1027l0.3,3.1M375,1028l2.7,-3.7M379,1026l2.0,0.2M386,1027l3.8,1.5M390,1030l5.1,-0.3M392,1029l1.9,0.4M399,1030l1.4,-1.8M404,1026l0.0,3.5M407,1027l2.1,-1.4M411,1027l2.0,0.5M415,1027l1.2,1.0M427,1029l3.0,2.7M440,1029l2.9,0.2M451,1027l3.1,-3.1M455,1028l4.7,-1.6M457,1028l3.9,1.8M461,1029l2.0,2.0M466,1028l2.9,2.6M475,1027l2.4,0.2M478,1026l3.2,2.9M484,1026l1.5,3.2M486,1030l3.5,1.0M490,1028l3.3,0.1M494,1028l2.1,0.5M504,1027l2.7,0.1M264,1032l2.7,-1.6M274,1033l3.3,1.0M276,1032l1.6,0.4M281,1033l1.8,-0.0M292,1031l2.8,-1.9M296,1031l4.9,0.6M299,1033l3.3,-3.0M301,1033l2.6,0.3M306,1032l1.9,0.2M310,1030l0.2,3.9M330,1031l0.0,2.2M331,1033l0.2,4.3M337,1030l1.3,-2.2M343,1034l-0.7,5.1M346,1030l4.6,1.7M352,1034l1.8,0.8M352,1031l3.1,0.7M358,1034l4.3,1.6M364,1034l0.9,-1.3M367,1033l0.2,4.1M371,1031l1.7,0.6M375,1031l3.7,0.8M385,1032l3.9,1.8M399,1033l0.7,-1.4M404,1032l3.4,0.9M405,1033l2.8,2.4M409,1033l1.4,3.8M415,1030l2.8,0.3M420,1033l3.2,1.0M423,1032l2.1,-0.0M429,1031l1.3,3.5M432,1032l1.7,-0.3M442,1033l4.8,1.3M444,1031l4.3,1.0M448,1033l3.8,1.7M454,1032l4.1,1.8M456,1034l2.8,2.3M463,1032l3.3,-1.2M465,1034l0.3,2.0M476,1030l3.4,0.6M481,1031l2.3,2.1M489,1034l1.3,-2.2M492,1031l3.2,-0.8M496,1031l1.5,1.1M503,1032l2.5,-4.2M504,1034l1.7,-1.6M266,1038l4.6,-3.0M270,1037l1.5,2.7M271,1036l2.1,0.9M279,1037l2.7,-2.8M282,1035l4.4,1.3M286,1036l1.8,1.1M292,1038l4.7,2.0M297,1037l-1.0,4.9M302,1038l5.1,0.5M307,1037l1.6,0.3M310,1038l1.6,0.8M319,1036l4.7,2.8M325,1037l1.7,-0.5M330,1036l-0.4,2.9M333,1035l1.5,-2.0M339,1036l3.7,-0.1M345,1038l2.2,0.3M354,1035l2.9,1.6M363,1034l1.6,1.5M368,1036l5.1,1.5M378,1037l2.9,-1.1M380,1035l0.5,1.6M386,1036l3.7,2.9M391,1035l0.2,4.9M400,1036l2.0,-2.8M412,1036l2.2,4.9M413,1037l2.7,1.6M418,1036l1.6,0.6M428,1035l0.2,2.8M437,1038l1.1,2.9M443,1036l-0.7,4.5M451,1038l1.9,0.2M459,1036l3.7,-1.1M462,1036l3.1,1.9M468,1037l3.0,2.5M477,1038l4.8,1.4M484,1038l1.0,2.6M487,1037l4.0,2.4M491,1035l1.5,0.2M502,1036l4.5,1.1M506,1036l1.9,0.9M264,1042l3.8,-1.5M268,1042l1.9,1.3M276,1039l1.8,-1.9M282,1040l0.1,2.8M286,1042l3.5,0.1M291,1039l3.7,1.5M294,1041l1.8,0.2M300,1042l3.7,3.7M302,1040l4.7,-2.5M310,1040l5.2,-0.8M322,1043l4.0,3.7M324,1041l1.8,-0.2M334,1040l4.3,1.6M338,1039l3.4,0.8M343,1040l0.8,3.4M347,1039l5.0,0.7M351,1040l4.6,0.7M356,1043l2.7,-3.9M360,1042l4.0,3.0M369,1039l4.5,1.9M375,1042l2.0,-3.0M381,1042l3.1,1.1M384,1042l1.3,2.8M389,1040l1.9,3.3M396,1039l4.8,-0.7M402,1041l5.1,1.1M408,1039l3.0,0.5M411,1041l1.6,1.0M413,1042l3.5,-2.2M417,1040l3.8,3.1M423,1043l3.3,1.1M429,1039l0.9,1.4M438,1041l1.4,1.4M441,1041l2.4,-1.0M444,1040l1.5,1.2M448,1043l2.3,1.8M455,1040l2.6,0.1M457,1041l1.2,3.2M461,1040l2.9,1.0M470,1043l2.1,1.1M473,1041l1.7,0.6M478,1039l0.4,1.6M483,1039l2.4,0.6M487,1042l1.8,1.7M491,1040l4.0,3.5M498,1041l4.3,-0.9M499,1039l0.2,2.9M267,1043l4.5,2.4M281,1045l1.7,1.4M287,1045l2.7,4.5M290,1044l3.3,1.0M296,1043l2.8,4.5M300,1046l2.2,1.3M301,1045l2.7,0.1M310,1043l4.9,0.7M315,1047l4.8,0.3M324,1045l2.2,0.0M327,1043l3.5,0.2M336,1047l3.8,0.6M343,1046l2.4,0.9M344,1046l2.0,-0.2M351,1046l2.3,-0.9M358,1046l2.5,-0.0M362,1044l2.8,-1.2M369,1043l3.0,-2.2M370,1044l1.0,4.0M378,1044l2.9,-1.8M383,1047l0.7,4.7M389,1044l4.7,2.2M392,1044l4.1,-1.5M399,1047l2.6,-0.4M406,1046l3.5,0.5M415,1045l2.5,1.9M423,1044l4.5,1.7M427,1046l2.9,2.1M432,1044l5.3,-0.1M436,1043l2.3,1.2M439,1046l4.2,-3.1M443,1046l4.7,-1.0M447,1043l3.6,1.2M453,1044l4.2,0.7M459,1046l2.8,2.2M466,1045l1.3,0.9M470,1045l2.3,0.5M478,1043l0.7,2.6M484,1045l3.3,2.5M491,1045l1.2,-0.9M498,1045l2.7,-0.4M500,1043l3.7,0.1M505,1045l3.4,2.9M265,1050l4.2,0.6M268,1048l4.8,0.0M272,1049l0.7,5.0M278,1048l2.6,0.3M289,1050l5.4,0.7M300,1051l3.1,0.7M303,1049l2.5,-2.8M307,1047l2.3,4.9M313,1051l2.3,-0.2M317,1048l1.9,1.2M319,1051l2.1,0.2M323,1050l2.6,-0.9M331,1051l3.9,-3.7M336,1051l4.2,2.3M343,1050l2.4,1.3M346,1049l0.3,2.8M348,1050l1.9,1.8M354,1048l4.0,2.2M365,1047l1.1,-2.0M370,1051l4.1,2.7M375,1049l3.0,-0.8M378,1048l1.8,1.5M385,1049l2.5,-0.8M391,1051l2.1,-2.4M392,1051l3.0,1.7M403,1048l1.1,-2.1M405,1050l3.3,2.8M410,1049l4.1,-1.7M415,1047l4.8,0.5M417,1049l1.5,0.7M423,1048l3.9,-3.6M427,1048l0.7,4.2M435,1050l5.3,-0.4M441,1049l3.8,1.2M443,1048l2.9,0.8M448,1048l3.3,3.1M453,1049l2.9,-1.3M456,1050l3.4,1.5M463,1050l3.6,0.4M465,1047l0.6,2.4M474,1047l3.2,-0.0M481,1047l2.6,0.3M485,1047l4.4,0.2M488,1049l1.2,-1.1M493,1048l2.7,1.1M498,1049l4.1,-2.2M499,1050l1.9,0.4M504,1048l3.3,1.0M264,1053l1.6,0.6M275,1054l3.3,1.0M276,1053l5.1,0.4M281,1052l1.6,0.0M287,1054l3.3,-0.8M292,1052l4.2,-0.8M294,1054l3.1,2.3M297,1052l1.7,1.3M301,1052l4.6,1.2M309,1054l2.5,1.4M310,1054l2.1,0.0M314,1053l0.2,4.3M325,1052l4.2,2.0M331,1054l4.3,0.5M334,1055l3.4,3.3M339,1053l4.4,1.7M343,1054l2.6,0.1M344,1056l1.9,1.5M357,1055l2.6,2.0M364,1056l4.0,-1.6M367,1054l1.0,1.8M372,1055l0.4,2.1M378,1053l5.2,1.4M385,1052l2.1,-3.7M390,1053l1.6,0.6M399,1054l2.5,0.2M402,1052l1.9,0.2M404,1055l2.8,1.5M409,1053l4.4,0.6M415,1055l2.8,2.7M418,1053l3.4,0.6M426,1054l5.2,1.2M430,1056l-0.7,3.5M436,1054l3.9,1.4M441,1052l1.2,1.0M443,1053l2.7,2.2M449,1054l3.3,2.9M453,1053l3.5,0.4M460,1052l2.5,-0.9M463,1055l-0.3,3.5M469,1052l1.5,-2.3M476,1055l3.2,2.3M481,1053l2.3,0.1M482,1055l2.6,-1.1M489,1053l2.6,-4.8M491,1052l3.7,-0.7M500,1053l-0.4,3.4M503,1053l3.4,2.3M264,1057l3.5,0.4M274,1056l1.1,2.7M278,1057l4.2,1.1M283,1058l2.4,4.8M285,1059l5.4,1.1M295,1059l1.9,0.3M300,1056l3.5,-1.2M303,1056l4.6,2.0M309,1058l1.2,1.0M310,1058l1.9,-2.4M315,1058l1.3,1.2M321,1059l2.7,1.4M328,1056l0.7,4.3M334,1056l3.4,0.5M339,1059l3.2,0.4M341,1058l3.5,-0.9M345,1059l4.1,1.9M350,1059l3.1,1.6M354,1058l-0.6,2.9M360,1058l4.8,1.2M364,1060l3.9,3.2M369,1056l4.7,0.2M374,1056l3.7,1.0M383,1059l3.3,1.1M388,1058l4.1,-2.1M399,1059l4.2,1.2M403,1059l2.2,-2.4M407,1060l0.1,2.7M411,1057l2.4,-2.7M419,1060l4.1,1.4M421,1060l1.8,1.5M429,1059l5.1,1.8M437,1058l3.5,-1.3M439,1056l1.1,2.6M445,1060l2.0,1.6M451,1056l4.8,1.9M453,1057l2.6,-0.8M457,1060l3.8,0.9M460,1058l4.8,-2.1M467,1057l3.3,0.6M469,1059l4.0,3.5M477,1058l5.0,1.1M480,1058l1.4,1.3M482,1058l1.6,-1.3M488,1058l2.7,2.6M492,1058l1.6,-1.0M495,1059l5.3,1.2M502,1056l4.3,1.1M505,1057l1.5,-0.9M265,1063l3.3,-0.0M269,1061l-0.5,3.2M275,1062l3.9,-0.0M276,1063l3.5,1.3M283,1061l4.0,1.9M291,1060l-0.1,3.2M292,1063l3.7,-3.4M298,1062l2.5,1.0M301,1062l1.9,1.5M309,1060l0.8,-1.6M320,1063l3.4,0.9M326,1062l4.4,-1.5M328,1064l1.6,-2.5M338,1061l2.8,-0.2M341,1062l3.4,-1.4M352,1061l4.4,-1.6M354,1062l4.0,-2.3M362,1064l3.1,2.8M369,1064l1.7,1.1M370,1063l4.5,2.4M375,1063l3.1,2.5M380,1062l4.0,1.2M386,1060l3.2,0.0M387,1063l2.0,0.5M392,1060l1.2,2.8M398,1063l-0.8,4.7M400,1061l2.2,0.5M406,1063l3.9,-1.7M412,1062l4.3,1.5M413,1060l3.3,1.6M427,1061l4.4,-2.6M434,1060l2.4,0.9M437,1062l3.5,-2.4M440,1060l2.7,2.1M446,1060l2.3,-0.0M447,1062l3.6,3.3M451,1061l2.8,0.1M458,1061l5.1,1.0M463,1063l2.8,1.3M466,1060l3.0,0.9M472,1064l0.2,1.6M474,1060l1.6,0.2M478,1062l3.3,1.6M481,1061l2.5,-0.1M486,1060l2.6,4.4M493,1061l1.5,-0.7M498,1060l-0.3,5.2M501,1061l2.6,0.0M505,1061l1.7,-0.6M269,1066l1.9,0.3M273,1065l1.6,3.7M278,1067l0.6,1.5M281,1068l3.1,1.7M286,1068l1.9,-3.4M288,1066l2.3,-2.7M293,1066l2.7,-0.8M302,1067l-0.6,4.0M309,1066l0.4,4.5M312,1067l4.5,0.8M316,1065l4.4,2.0M324,1067l2.4,1.1M329,1065l2.4,-0.8M337,1068l1.1,2.8M343,1068l2.7,0.6M346,1066l-0.9,3.9M352,1067l2.0,1.1M353,1066l2.3,-3.0M362,1067l1.0,2.4M368,1067l2.1,-0.6M376,1066l3.4,0.3M379,1067l1.7,0.2M388,1065l0.3,4.6M393,1068l3.2,-1.9M397,1065l2.2,0.8M403,1067l-0.1,4.1M405,1067l2.4,2.1M411,1068l2.7,0.7M414,1066l-0.4,5.0M418,1069l0.4,5.3M423,1068l2.5,0.1M429,1066l-0.2,1.8M434,1068l1.6,0.5M437,1067l2.9,1.1M444,1067l3.9,-0.5M449,1065l5.1,1.3M452,1068l2.3,1.1M464,1068l3.3,0.2M467,1068l-0.2,1.5M471,1066l4.0,-0.3M476,1066l-0.3,2.4M481,1068l5.0,1.0M485,1065l0.3,1.6M489,1068l4.4,-1.8M492,1066l4.8,1.6M497,1068l4.0,1.6M499,1065l-0.2,3.3M506,1066l4.8,-1.3M269,1069l3.5,0.3M272,1070l0.8,1.6M278,1073l2.4,0.1M287,1069l1.4,1.2M293,1073l3.7,1.6M300,1070l1.2,-1.9M303,1072l0.9,1.7M307,1072l3.3,1.6M310,1070l2.1,0.2M318,1071l2.4,-0.5M320,1073l3.6,0.8M325,1072l2.1,4.7M330,1071l3.7,3.6M332,1072l3.2,0.9M338,1069l0.4,2.0M344,1072l2.5,2.3M346,1072l2.6,2.3M351,1069l2.1,4.2M356,1069l2.9,0.1M367,1072l1.7,0.6M372,1070l3.4,3.1M375,1069l1.4,2.8M380,1071l1.8,1.0M385,1071l1.0,2.2M389,1072l4.9,-1.7M392,1070l2.6,0.1M399,1070l3.8,-3.0M402,1072l1.0,3.5M405,1070l-0.5,4.4M412,1071l3.9,0.2M416,1071l1.6,1.0M425,1070l1.4,2.3M426,1073l4.7,1.4M430,1069l1.1,2.3M435,1069l1.3,-2.3M439,1070l0.3,3.1M446,1073l1.2,1.9M452,1070l4.4,2.9M456,1072l2.7,0.7M463,1072l3.3,0.5M468,1072l2.8,-1.0M473,1071l2.0,1.8M477,1070l2.7,0.7M479,1070l3.0,0.1M483,1071l3.7,2.7M486,1069l3.4,-0.3M492,1070l3.9,2.6M498,1070l3.3,1.0M501,1070l2.9,-1.3M266,1076l4.2,0.2M267,1074l4.4,1.6M274,1075l3.0,1.8M275,1076l1.5,4.6M288,1073l2.2,1.2M300,1075l2.4,-2.2M301,1073l3.8,2.0M305,1073l2.7,1.1M310,1077l3.7,0.3M318,1076l1.8,1.4M322,1074l-0.2,4.1M330,1076l2.9,2.3M343,1074l3.0,2.5M345,1074l1.7,2.8M350,1077l4.4,0.2M356,1074l3.0,0.4M367,1075l1.9,0.4M370,1075l3.9,0.2M375,1075l0.8,2.0M382,1076l4.2,2.4M387,1074l0.7,3.6M389,1076l-0.0,2.1M394,1075l1.3,0.9M398,1076l1.0,1.7M402,1074l3.6,1.1M408,1075l2.8,-3.6M410,1076l2.6,-3.9M416,1074l2.1,1.6M418,1076l3.9,1.0M424,1075l1.7,-0.6M426,1074l2.7,2.2M432,1077l2.0,0.0M437,1075l4.5,0.9M445,1076l5.2,1.5M447,1077l-0.0,2.0M453,1075l2.4,-1.0M456,1073l2.8,1.9M464,1074l2.0,-1.5M465,1077l1.8,1.2M471,1074l2.4,-4.4M473,1075l2.5,-1.3M480,1073l1.9,1.0M499,1077l4.9,0.9M506,1075l4.8,0.4M262,1079l4.2,0.4M267,1081l2.5,1.8M271,1077l3.7,0.8M282,1079l2.3,0.0M284,1080l4.1,0.7M288,1080l2.7,0.1M294,1081l5.0,0.8M300,1080l-0.5,2.6M302,1081l5.0,1.4M305,1079l3.5,2.0M312,1077l3.8,0.6M318,1078l3.6,1.0M330,1078l3.1,1.2M333,1079l3.2,0.1M343,1080l1.8,-2.4M345,1078l3.6,0.9M351,1077l2.9,0.5M355,1079l1.7,-0.6M360,1081l2.9,-2.0M362,1080l4.1,0.1M366,1078l0.7,2.3M371,1081l1.8,1.5M375,1077l3.9,1.9M390,1079l4.2,0.9M395,1081l4.1,3.0M398,1081l2.3,0.2M406,1081l2.7,0.2M409,1079l0.4,5.2M413,1081l0.2,4.7M418,1078l2.1,0.7M423,1080l3.7,-1.5M429,1079l4.1,-0.9M430,1081l1.3,1.2M436,1080l1.5,-1.7M442,1079l4.0,2.2M446,1081l5.4,-0.5M450,1081l2.6,2.2M455,1079l2.4,-1.8M457,1079l2.0,0.7M463,1081l3.1,-0.3M468,1079l4.3,-0.0M473,1077l4.2,-0.1M485,1081l0.8,1.8M496,1081l5.0,2.0M503,1078l2.5,0.6M507,1078l1.6,-0.0M270,1082l-0.2,2.1M272,1084l3.9,2.3M277,1084l2.7,1.4M283,1085l2.4,0.4M287,1086l0.6,3.2M289,1082l1.6,0.3M296,1083l2.5,2.3M298,1083l2.9,2.8M304,1085l1.7,0.6M307,1085l3.5,2.1M311,1085l3.4,-2.4M315,1086l1.9,0.5M319,1085l3.0,0.5M324,1083l2.9,1.0M332,1086l5.2,1.7M337,1085l2.2,-0.7M342,1085l5.0,-0.9M345,1085l3.6,-1.7M348,1084l4.4,-1.5M358,1083l2.4,1.6M363,1083l0.7,2.4M373,1085l3.1,0.2M377,1083l4.0,2.6M381,1084l2.2,3.8M393,1086l-0.3,2.6M399,1084l3.8,3.2M403,1085l4.3,3.0M408,1083l1.0,-1.8M411,1084l1.5,0.9M416,1084l3.3,-2.5M421,1082l4.1,0.8M424,1082l2.1,0.4M428,1083l1.4,0.9M431,1083l1.6,1.5M442,1082l2.6,-0.9M444,1085l1.6,1.2M454,1082l3.4,0.2M464,1083l3.1,0.1M468,1085l3.8,-1.1M481,1084l5.3,1.5M482,1084l1.8,0.2M498,1082l4.7,1.1M503,1084l2.9,0.6M506,1082l2.4,0.7M271,1090l2.3,-0.6M284,1090l2.8,2.3M291,1088l5.4,0.8M296,1089l1.3,1.0M300,1086l1.8,-2.1M304,1088l2.2,0.7M306,1088l5.2,-0.1M313,1088l4.0,2.1M319,1089l4.0,2.9M334,1089l1.9,1.1M338,1087l3.7,0.1M343,1089l2.3,1.2M348,1088l1.4,5.1M351,1090l3.2,-1.3M356,1089l-0.2,4.3M363,1087l2.9,0.9M365,1086l3.7,-0.0M371,1088l2.5,0.0M381,1087l1.8,1.6M388,1090l5.0,-0.3M394,1087l3.8,0.3M398,1086l4.4,1.4M403,1087l-0.2,3.1M406,1088l2.7,2.4M410,1089l-0.3,4.8M413,1087l1.5,1.0M433,1087l2.4,-0.8M436,1087l1.6,0.3M444,1089l2.4,-0.8M450,1089l2.1,4.1M457,1087l2.2,-1.9M461,1088l1.4,0.6M469,1089l2.3,0.9M476,1089l3.8,1.0M485,1089l1.4,1.0M486,1089l5.1,0.6M496,1086l0.4,1.7M500,1088l1.5,4.5M507,1086l3.8,2.2M263,1090l1.5,0.5M270,1092l2.2,-1.9M271,1094l1.9,-3.6M280,1093l2.6,-0.2M289,1092l3.1,2.5M300,1094l3.2,2.9M303,1093l2.4,4.4M306,1092l3.1,0.9M319,1094l2.7,-4.3M323,1093l2.0,0.1M328,1092l2.3,2.2M334,1090l-0.0,3.3M346,1093l-0.7,5.4M352,1093l3.6,2.1M354,1093l1.6,3.6M359,1094l2.6,2.5M365,1090l0.5,5.2M368,1093l3.1,0.6M374,1094l1.4,1.0M380,1091l2.6,0.5M384,1090l3.7,2.6M387,1094l-0.5,2.1M393,1093l4.2,1.2M402,1090l3.4,1.1M408,1092l2.6,-0.8M412,1090l2.1,-0.4M415,1094l4.9,1.9M418,1093l3.6,0.3M431,1092l3.7,0.4M434,1092l2.0,-2.2M443,1093l2.3,4.3M450,1094l3.5,1.1M455,1092l4.5,1.3M456,1094l3.7,1.0M461,1093l3.4,1.2M470,1093l4.9,0.3M481,1094l4.8,0.3M482,1092l1.3,1.0M496,1090l2.6,1.5M502,1094l5.0,2.2M269,1098l2.9,0.9M279,1095l1.4,2.2M283,1098l0.1,2.0M288,1095l5.0,-0.7M289,1097l5.3,-0.1M293,1095l3.8,2.9M298,1098l0.0,2.4M304,1095l2.5,1.3M307,1099l2.5,4.2M313,1095l4.0,2.7M320,1095l1.6,5.1M330,1098l3.5,-1.1M331,1096l-0.7,3.2M337,1095l2.5,-0.9M343,1097l2.3,1.1M350,1097l4.5,0.4M354,1098l-0.3,2.1M357,1096l0.6,4.2M370,1098l4.3,0.1M374,1095l4.0,-0.2M379,1097l0.7,2.6M383,1098l4.8,2.2M392,1098l1.0,3.1M399,1098l0.4,2.8M402,1096l4.9,-1.6M408,1097l1.7,0.4M409,1096l3.0,1.9M413,1099l4.7,1.2M423,1096l3.8,0.9M428,1095l2.3,0.8M432,1098l3.1,2.0M437,1098l3.7,0.8M440,1098l3.0,-4.3M444,1095l2.5,0.1M450,1097l4.3,3.0M457,1096l2.9,1.0M472,1096l3.6,2.0M474,1097l2.6,-3.5M479,1096l2.1,-2.9M502,1097l2.9,-1.8M506,1099l1.7,3.2M262,1101l3.0,1.2M269,1099l2.1,1.7M271,1100l4.3,1.9M277,1103l4.0,3.6M280,1101l0.1,2.3M287,1100l0.4,4.4M289,1101l0.4,1.5M292,1100l2.1,0.9M301,1101l3.8,0.7M302,1102l3.6,0.9M308,1102l2.5,-3.0M311,1099l1.0,3.2M325,1100l4.6,-1.8M334,1102l1.6,0.5M337,1099l1.7,-1.7M340,1101l1.6,0.6M355,1100l1.3,2.8M357,1099l2.6,1.3M362,1102l-0.1,2.3M368,1099l2.0,-2.2M373,1101l2.1,1.8M375,1102l1.5,0.5M398,1102l4.3,2.9M401,1100l2.1,0.9M404,1102l0.1,3.2M409,1102l2.7,0.6M415,1099l3.4,3.3M418,1102l1.2,0.9M422,1100l4.1,2.8M426,1102l2.5,0.2M436,1103l3.0,-1.6M439,1101l4.6,2.8M454,1099l3.5,2.5M458,1100l4.8,0.3M461,1102l4.6,1.3M466,1103l4.2,1.7M473,1102l1.6,3.1M478,1099l2.1,-1.9M483,1102l2.5,0.8M487,1102l4.8,1.0M499,1103l1.5,1.4M505,1103l2.8,0.9" stroke="#fff" stroke-width="2.2" stroke-linecap="round" fill="none"/></g>
<polygon points="262.0,1036.0 347.0,974.0 506.0,1030.0 425.0,1102.0" fill="none" stroke="#000" stroke-width="3.5"/>
<path d="M497,931 L511,915 L540,915 L812,1007 L915,1088 L1019,1131 L1104,1160" fill="none" stroke="#000" stroke-width="3.41" />
<path d="M519.0,917.0 L816.0,1014.0 L912.0,1086.0" fill="none" stroke="#000" stroke-width="2.56" />
<clipPath id="t3"><polygon points="529.0,936.0 538.0,930.0 613.0,950.0 747.0,997.0 796.0,1015.0 868.0,1064.0 867.0,1071.0 813.0,1043.0 747.0,1018.0 613.0,972.0 529.0,942.0"/></clipPath>
<g clip-path="url(#t3)"><polygon points="529.0,936.0 538.0,930.0 613.0,950.0 747.0,997.0 796.0,1015.0 868.0,1064.0 867.0,1071.0 813.0,1043.0 747.0,1018.0 613.0,972.0 529.0,942.0" fill="#000"/><path d="M531,934l3.6,-3.3M537,932l-0.1,1.9M538,933l3.9,0.4M544,933l1.5,-0.4M546,931l4.1,2.0M553,931l3.1,1.7M557,931l-1.1,4.7M560,931l3.8,0.0M564,931l3.6,3.3M569,934l3.0,-3.1M574,931l1.8,-0.3M580,933l4.3,0.4M583,932l3.3,0.2M588,931l3.1,-0.3M597,934l1.6,4.8M599,934l1.7,0.1M604,930l0.8,2.6M607,933l3.0,-0.0M611,933l1.4,2.7M616,931l0.8,2.1M623,931l3.6,-1.5M624,930l4.3,0.7M631,933l4.8,2.0M639,933l0.2,2.6M642,930l2.4,0.8M646,932l2.1,0.1M651,933l0.2,2.1M654,934l1.6,-0.2M658,930l5.3,1.3M665,933l2.0,0.4M671,932l2.5,2.0M679,932l0.1,3.0M680,930l3.6,3.5M685,933l0.7,3.3M690,932l3.1,1.5M695,932l0.1,3.4M698,931l0.9,2.0M704,932l4.0,1.0M707,933l2.4,1.9M711,931l3.5,-3.7M714,934l3.4,0.2M722,932l0.5,2.7M727,932l2.1,1.6M730,931l4.5,1.1M732,932l2.1,1.4M739,934l3.8,1.3M743,934l4.7,-1.1M747,933l-0.0,2.2M750,933l0.9,5.4M756,933l5.2,0.3M757,932l1.5,0.5M764,932l3.9,1.4M769,934l1.9,0.7M771,930l4.3,1.9M778,934l1.5,0.6M780,931l4.9,0.8M783,932l2.0,0.5M789,933l5.2,0.8M795,930l3.5,1.2M798,931l-0.4,3.7M802,934l1.9,4.5M811,931l0.7,1.3M815,930l4.3,-3.4M818,931l1.0,5.1M823,931l1.8,-2.7M830,932l3.2,0.2M831,933l2.1,0.0M836,933l1.7,0.9M839,932l3.7,2.3M843,933l0.3,3.6M849,931l3.1,2.4M853,933l2.1,1.8M860,931l1.6,1.3M863,931l5.0,1.7M867,931l1.6,0.2M532,938l3.5,0.3M535,937l2.8,2.0M541,937l0.4,2.2M543,935l1.4,1.2M550,936l3.3,0.8M552,937l1.5,0.8M557,936l2.2,0.7M561,934l3.5,2.5M566,936l1.6,3.5M571,936l3.9,2.5M574,938l0.1,4.6M578,937l2.2,1.6M584,939l1.3,2.2M590,936l2.8,1.2M601,938l2.1,3.4M603,936l3.4,2.3M608,935l3.2,1.4M619,937l3.7,-1.3M619,938l5.2,1.5M626,937l3.0,-1.1M630,936l2.4,0.9M635,938l2.5,-0.0M637,938l1.4,-2.4M643,937l5.1,0.2M647,938l1.9,0.0M653,935l1.8,0.9M656,935l2.0,0.6M659,936l1.4,3.6M666,937l3.3,3.0M667,938l0.2,2.9M674,937l1.1,2.4M679,936l4.7,1.6M680,935l0.8,-1.5M685,938l2.3,-0.7M694,936l4.3,-2.3M697,938l-0.5,4.6M704,936l4.0,1.1M712,938l2.8,0.9M718,935l3.6,1.2M720,938l2.4,0.1M723,936l2.7,0.6M728,937l1.9,0.5M734,938l3.1,1.1M737,936l4.2,-1.4M740,938l3.0,0.8M745,937l3.8,-3.0M749,938l1.9,1.4M753,936l4.1,2.3M759,938l2.5,0.6M763,934l4.3,-1.3M767,935l1.0,3.2M773,936l3.4,1.3M777,938l4.8,-2.6M778,936l4.1,3.4M785,937l3.0,1.0M790,939l2.4,-1.5M794,935l4.1,1.5M796,938l1.3,0.9M803,936l2.4,0.3M807,937l4.8,1.7M812,938l4.8,0.2M814,938l4.0,2.2M821,936l3.5,3.2M824,937l1.4,1.0M830,938l2.3,0.8M834,936l5.1,0.5M835,937l1.3,3.4M842,934l1.5,1.1M846,935l1.6,-0.9M850,936l2.6,1.8M852,938l3.2,0.0M860,938l1.8,0.4M862,937l2.1,0.1M867,938l1.4,0.7M532,940l2.1,4.1M537,942l1.7,3.6M541,943l1.5,-1.1M544,939l2.8,2.5M548,942l4.0,0.2M553,939l4.6,1.4M555,940l2.3,2.3M561,942l1.0,2.1M566,941l3.6,-2.5M569,942l3.4,1.9M573,940l3.7,-0.2M578,940l1.9,1.0M584,941l3.2,1.6M586,943l5.2,0.9M589,941l3.4,0.3M595,939l4.9,1.0M601,940l0.5,3.7M603,943l1.8,0.9M608,942l2.5,1.6M613,942l1.1,-2.0M622,940l4.9,1.4M626,942l3.3,0.5M630,941l2.0,0.5M636,939l3.9,2.5M639,939l3.8,1.2M644,942l3.1,-1.3M648,942l4.6,2.1M652,940l1.7,0.4M658,942l1.4,4.4M662,940l3.1,-3.9M667,943l1.0,2.9M671,943l3.7,-0.4M676,941l4.1,-3.1M683,939l0.4,3.3M687,939l5.1,0.2M690,940l1.0,2.5M694,940l4.0,3.6M698,940l2.2,0.7M703,941l3.8,2.0M708,940l2.4,1.3M714,940l1.8,-1.0M718,941l4.9,0.6M721,940l4.1,-0.9M724,941l2.2,1.1M731,941l4.2,0.4M731,943l1.5,0.7M737,940l1.3,2.3M741,940l2.4,4.0M748,941l1.4,5.0M749,941l2.6,0.9M753,940l3.5,0.5M765,939l0.9,4.1M767,942l3.4,-0.7M772,941l5.3,0.8M776,942l1.6,0.2M780,940l1.3,1.0M783,941l-0.2,2.4M788,939l3.6,2.6M795,941l2.1,0.6M796,942l-0.1,1.7M801,940l4.5,0.4M805,942l-0.0,1.7M812,939l2.7,-2.1M817,942l4.3,0.9M818,941l1.8,0.6M823,943l0.8,2.0M830,942l0.1,5.0M834,941l2.2,-0.8M835,940l3.7,0.5M839,940l3.0,-1.6M846,939l1.8,-2.4M850,940l3.2,1.6M854,941l2.5,0.4M856,943l2.5,0.2M861,943l3.6,-3.3M866,942l2.9,-1.1M529,944l1.1,2.1M535,946l0.0,2.5M540,944l2.9,2.2M542,945l2.6,0.4M547,943l2.9,1.9M554,946l5.1,0.7M558,946l4.0,0.7M561,945l4.9,1.9M566,944l2.7,-3.7M571,945l3.2,-0.4M575,946l1.6,4.9M577,947l1.9,-2.3M582,946l1.6,0.1M587,944l3.9,1.2M591,947l4.8,2.2M596,946l1.4,-1.0M600,945l1.0,-1.8M603,944l2.3,0.2M609,944l4.1,3.6M613,947l2.3,4.2M618,946l4.9,1.3M622,946l2.2,-0.6M625,946l1.0,3.0M631,945l2.7,-0.6M634,943l3.4,3.3M638,947l-0.2,3.4M645,947l3.0,0.8M648,944l4.3,-0.9M651,946l-0.3,3.8M657,946l1.6,1.2M661,944l2.5,2.3M666,947l2.7,1.6M668,947l4.4,0.1M671,944l4.7,0.1M679,946l1.0,-1.5M683,946l3.8,1.1M688,945l2.6,-0.6M690,946l-0.4,2.5M693,944l3.7,0.7M698,944l2.8,1.1M701,943l1.3,0.7M706,946l2.4,-2.1M711,943l0.4,4.8M715,944l2.3,2.3M721,944l2.7,2.5M724,943l1.1,3.4M728,947l2.1,1.4M735,945l3.9,2.8M740,943l3.1,-3.0M744,943l1.2,2.5M746,944l2.9,1.5M749,946l1.3,2.5M754,946l0.7,2.2M758,945l1.5,0.5M763,944l-0.5,4.5M766,943l2.5,4.8M774,944l4.5,-2.3M774,945l3.6,2.9M778,946l4.1,-0.4M785,947l3.5,0.4M787,947l3.2,0.6M795,945l3.1,-2.2M796,946l1.1,-1.3M801,945l3.2,3.1M807,947l2.6,-4.7M812,943l3.3,2.5M816,946l0.9,2.4M817,944l-0.2,3.3M825,944l1.8,1.7M828,946l3.5,0.1M834,947l1.7,1.2M835,943l1.7,1.6M840,946l3.1,2.4M843,947l2.5,1.1M860,945l4.2,2.5M863,944l2.0,0.2M866,943l2.8,0.5M530,947l3.8,2.3M535,949l2.6,0.1M540,948l4.9,2.0M545,948l0.9,1.8M550,948l5.2,-0.2M554,950l2.5,-1.6M557,950l4.2,0.9M560,949l4.5,2.2M565,948l1.9,3.6M569,951l4.2,1.2M573,951l1.8,1.0M577,949l3.3,-2.1M597,950l1.6,-0.5M605,951l-0.5,2.3M607,949l1.5,0.4M618,951l4.3,1.1M620,949l2.9,0.8M627,948l2.8,-2.3M631,948l0.2,1.8M635,949l4.5,1.0M638,947l2.0,1.0M641,951l2.3,4.9M647,950l2.9,1.1M650,951l3.0,0.6M656,949l3.5,-4.1M662,947l1.5,-1.8M665,949l3.2,-4.4M667,951l2.6,0.8M672,949l2.7,-1.4M677,948l1.4,1.1M682,949l3.8,2.2M685,951l-0.1,3.4M690,951l2.5,1.5M697,950l4.5,0.7M697,948l1.9,0.0M702,951l2.5,-1.6M708,948l4.6,-1.5M711,951l1.5,0.8M714,950l1.3,2.6M721,950l1.4,0.7M724,950l1.8,0.2M727,950l2.0,-0.1M734,948l2.1,2.0M738,950l3.5,-4.0M744,948l1.4,-1.5M745,948l1.5,-2.8M751,951l3.4,-3.2M755,950l2.3,1.6M760,950l2.9,-2.1M764,951l1.7,1.2M767,948l1.6,-2.0M772,948l2.0,1.5M775,951l4.9,2.2M780,949l3.9,0.5M785,948l2.1,-0.3M789,949l1.5,1.1M792,948l-0.1,2.9M796,948l2.5,1.5M805,951l1.8,0.7M809,951l2.5,-0.4M815,948l4.3,3.0M819,951l-0.4,3.9M825,949l3.8,0.6M827,949l3.2,1.8M833,949l2.6,2.4M836,948l2.4,4.7M839,951l4.0,3.6M844,949l4.2,0.1M847,950l5.0,2.0M854,949l3.5,-0.9M858,948l2.0,-0.6M863,947l2.4,4.5M865,948l3.8,3.7M533,956l4.2,2.1M541,953l3.6,0.2M547,955l2.0,0.6M553,955l1.5,0.4M558,956l2.7,0.9M559,955l3.0,0.1M566,953l4.9,-1.1M568,953l3.1,-4.1M575,954l0.4,2.5M577,952l4.1,1.7M581,953l4.5,0.2M586,953l2.8,0.8M593,953l4.0,1.3M598,952l4.8,2.2M602,955l2.8,1.1M606,952l3.5,0.4M608,952l4.3,0.4M612,952l4.8,-1.0M618,953l2.5,-0.8M620,952l1.7,1.0M626,953l0.5,3.7M630,956l1.4,0.8M636,956l2.1,0.0M639,953l0.8,3.8M643,952l1.5,-0.5M647,952l3.1,0.1M654,952l3.1,-1.6M656,952l5.4,0.6M662,954l4.0,-0.1M664,955l0.3,3.2M668,956l3.2,-4.2M675,952l0.6,5.1M679,953l0.2,2.1M681,952l3.2,-1.3M687,955l1.5,-0.1M689,954l1.7,0.1M695,952l1.9,1.8M697,955l2.8,1.3M702,954l3.5,1.2M707,954l4.1,1.0M714,954l4.5,1.2M721,955l2.6,-0.5M723,954l5.1,-1.1M729,953l5.1,0.5M734,952l2.4,-0.7M737,953l0.1,4.5M745,955l3.0,1.0M752,952l3.0,2.7M754,953l2.7,2.2M764,952l2.6,1.1M766,954l1.9,0.4M770,952l-0.8,3.9M780,953l-0.4,1.7M786,952l2.7,0.1M789,953l0.9,-1.5M794,956l2.4,0.1M799,955l3.2,0.3M803,954l3.3,1.2M807,953l2.1,0.9M809,952l-0.9,4.6M817,953l1.6,-0.6M821,956l3.7,3.4M822,953l5.0,0.5M833,953l4.8,-1.0M835,954l3.4,0.1M839,953l1.9,-1.3M846,956l3.0,2.7M847,955l3.1,0.0M855,953l2.8,1.7M858,953l1.6,0.2M863,952l5.0,-0.1M866,955l1.7,-0.7M530,958l0.2,4.2M536,957l5.0,2.2M541,956l2.2,-2.4M544,960l1.6,1.6M546,958l2.4,1.9M554,959l3.4,-0.4M558,958l1.5,1.4M560,959l3.7,0.7M566,957l3.4,0.8M572,960l3.8,-1.1M574,960l1.4,2.3M577,956l0.1,4.3M582,957l3.2,1.5M587,958l4.3,2.2M590,956l1.4,0.8M594,956l2.5,4.1M599,959l4.7,-0.7M606,959l4.5,1.6M609,960l3.6,1.6M613,960l2.0,-0.8M618,959l3.0,-3.2M623,960l1.6,0.6M626,959l4.6,-1.7M630,956l4.1,2.0M634,957l4.9,1.6M639,956l2.4,1.4M642,958l1.5,0.3M646,956l3.8,0.9M650,959l1.9,-1.2M657,960l4.4,-0.2M662,957l3.4,1.3M666,960l2.6,0.6M669,956l1.5,-1.7M674,959l5.2,-0.5M677,957l-1.1,5.0M680,957l3.3,1.4M688,958l1.8,0.8M692,959l5.1,1.8M695,958l2.0,0.9M701,959l3.1,2.7M705,960l1.3,2.0M706,956l5.2,1.3M710,959l4.6,0.6M715,957l2.0,0.5M718,957l4.5,-3.0M726,959l3.5,1.9M727,958l3.8,-1.6M734,958l2.3,0.9M739,959l4.2,0.8M744,959l3.0,2.9M746,959l1.4,-2.8M749,957l5.4,0.0M754,956l0.2,3.9M757,959l2.5,0.1M764,956l3.0,0.3M767,957l3.7,2.4M773,956l4.5,2.3M777,956l4.6,-1.7M782,956l2.2,0.4M785,956l0.9,2.0M789,956l-0.1,1.9M793,960l2.8,0.4M799,958l1.7,-2.0M801,959l1.5,1.3M805,957l3.9,2.5M812,957l2.6,-1.1M815,956l2.7,-1.2M821,960l-0.4,2.6M823,957l1.4,2.8M826,959l3.6,1.2M834,957l4.6,1.6M840,959l2.3,1.0M846,959l1.5,-0.0M848,960l3.0,-1.2M855,957l4.8,-2.1M857,958l3.9,2.5M863,960l2.2,0.8M865,956l3.4,-1.5M532,962l1.8,-0.7M535,964l3.3,-0.6M542,960l2.2,-0.9M543,960l0.5,1.8M550,964l3.8,2.2M553,963l4.7,2.7M558,963l1.9,-2.6M561,964l1.6,0.7M566,963l3.3,-0.6M571,962l3.1,-0.0M574,964l3.1,1.9M587,961l2.7,1.8M591,964l1.3,0.8M594,961l3.5,2.9M601,961l3.1,-4.4M602,963l1.7,-0.9M609,962l4.1,3.1M613,961l2.4,-3.3M619,964l0.7,1.6M623,964l1.8,4.5M626,961l2.5,1.1M631,963l4.3,2.5M633,960l1.0,1.9M639,963l1.8,0.3M643,961l3.3,2.0M648,963l2.9,-2.9M651,962l3.3,-0.7M655,963l2.4,1.9M659,961l1.6,1.5M665,963l3.9,-1.1M667,961l3.0,-4.0M673,961l3.5,3.1M677,961l-0.2,2.8M680,960l1.6,0.1M686,961l3.0,1.2M689,963l2.0,0.1M693,962l2.1,0.8M698,961l4.1,3.4M704,962l1.9,1.1M707,962l3.7,1.2M713,962l4.1,2.7M719,961l2.4,1.1M724,964l1.7,-3.3M731,960l3.7,2.0M732,962l3.3,-0.8M738,961l3.4,1.7M742,964l2.4,1.8M748,964l4.3,2.6M751,963l2.4,0.3M757,962l1.4,1.2M761,962l3.1,1.1M763,962l4.7,1.8M770,962l0.5,1.6M776,964l2.8,0.0M780,961l0.1,4.0M783,962l2.1,-1.1M790,960l3.2,0.9M795,960l2.3,-2.5M797,964l4.8,2.4M801,964l1.8,1.6M808,960l0.1,2.3M812,962l5.0,1.1M815,960l1.3,-2.1M819,961l2.3,1.5M823,964l0.5,1.5M827,962l2.1,-3.4M833,961l3.4,0.0M838,962l1.7,-1.3M840,964l2.9,-0.0M845,964l4.2,1.4M849,962l-0.3,3.5M859,964l0.5,5.1M862,962l1.6,3.4M868,962l4.8,0.5M530,968l4.3,-1.8M534,967l3.6,1.3M538,966l1.9,0.5M546,965l2.0,-3.1M547,966l0.6,3.2M555,968l0.9,2.3M558,967l2.3,1.3M560,968l4.9,1.9M564,965l2.0,1.6M572,969l2.0,0.1M576,968l0.4,4.3M577,966l4.4,0.5M581,967l4.4,-2.0M585,968l1.6,0.4M592,966l-0.7,3.2M596,967l5.4,0.1M599,967l1.7,-1.5M605,967l5.4,0.6M610,965l3.5,-1.7M614,967l4.4,0.4M617,966l5.3,1.4M622,965l3.9,-2.7M632,966l3.5,1.7M636,966l4.8,-0.1M641,967l4.5,3.1M645,966l4.7,2.1M648,966l1.6,1.0M651,965l0.5,2.9M656,967l0.4,2.4M659,968l4.8,1.2M665,966l1.8,-1.9M670,967l1.2,2.5M672,965l4.3,3.3M676,967l0.7,3.3M681,969l2.2,2.1M687,966l3.3,0.4M692,969l-1.1,4.9M693,968l4.2,2.1M699,967l3.1,1.9M704,965l3.3,-0.0M708,965l1.8,2.8M715,966l3.7,0.8M720,966l2.3,1.4M724,965l1.9,0.1M733,966l2.4,1.5M740,966l2.1,0.3M742,966l4.6,2.0M745,966l1.9,-3.5M749,967l4.8,1.2M753,966l-1.0,5.1M759,965l1.9,1.5M764,964l3.9,3.1M770,965l2.9,-0.6M770,965l4.7,-0.9M776,968l2.7,1.2M780,965l1.4,-1.8M784,967l2.7,1.1M789,965l4.8,1.4M796,965l3.7,-0.1M802,966l-0.3,3.2M810,965l4.1,2.2M813,966l3.4,1.1M818,968l5.1,-0.0M825,968l2.2,0.5M828,966l3.2,0.7M834,968l3.6,0.8M841,967l0.2,1.8M843,966l4.1,2.7M849,965l2.8,1.3M853,965l3.8,1.6M856,965l2.9,2.3M861,968l-0.7,3.7M864,966l4.2,3.2M530,969l1.4,4.7M535,970l2.2,-4.2M538,969l0.7,2.1M546,971l2.6,0.2M547,972l3.6,-0.8M553,969l4.1,-1.6M557,970l4.6,0.3M562,970l1.2,1.0M567,969l-0.7,3.9M569,970l1.8,5.1M573,972l2.8,-1.1M580,971l-0.7,4.7M581,972l0.7,1.9M589,973l3.1,-0.0M591,973l1.2,2.1M594,970l4.3,0.5M601,972l1.5,-1.4M604,971l3.2,2.1M613,972l4.4,1.0M619,971l4.0,3.7M624,971l1.4,-1.3M627,972l2.7,1.8M630,971l1.4,4.7M636,971l5.1,1.7M637,971l1.6,0.3M644,969l0.9,5.4M649,969l2.5,2.1M651,969l2.5,0.7M656,973l2.0,3.2M659,973l3.6,-0.7M662,971l2.4,-2.6M667,970l2.3,1.1M673,972l5.3,0.9M677,970l3.2,1.3M686,970l2.3,-2.3M692,971l3.3,3.0M697,969l4.0,3.2M705,969l1.0,-1.9M706,970l3.6,-1.7M711,969l2.1,1.2M716,969l1.7,-1.5M722,970l2.0,3.4M724,970l4.2,0.7M730,973l3.4,0.6M734,970l1.9,0.2M736,971l3.6,3.0M741,971l0.2,3.3M747,972l1.7,4.3M749,971l2.2,1.2M754,973l3.1,1.2M759,970l4.4,1.4M763,969l1.9,1.4M769,970l3.6,1.3M770,970l0.9,4.1M777,971l3.6,1.4M780,971l1.8,1.1M783,970l1.7,1.1M788,972l2.2,-0.0M793,971l3.8,2.6M798,972l1.5,3.3M803,970l0.6,3.1M807,971l3.3,-1.5M813,972l3.4,1.2M813,970l3.7,0.3M819,970l1.2,1.0M823,971l3.8,1.3M829,972l3.1,0.2M832,970l2.5,1.9M837,970l3.3,2.4M842,969l2.1,1.5M847,969l3.9,1.0M850,973l-0.7,4.5M853,972l2.0,0.3M856,971l0.2,3.8M862,969l-0.3,2.2M867,971l1.5,0.8M531,974l0.3,4.9M534,975l1.8,-3.2M541,974l1.7,-3.2M544,977l0.8,2.7M550,976l5.2,-1.1M551,976l2.9,0.7M556,974l1.8,0.6M561,976l2.2,-0.8M566,974l3.0,-1.1M568,975l2.8,0.9M580,973l3.9,1.1M583,974l1.6,3.4M586,975l2.4,0.6M592,977l3.2,2.4M597,976l3.6,1.8M599,975l1.5,-0.5M605,974l2.6,2.3M609,974l3.1,-1.6M612,973l4.6,1.4M617,975l2.8,1.7M620,975l3.3,2.1M624,976l3.5,-1.1M630,976l2.0,-1.7M634,974l2.2,-2.0M638,976l4.8,2.1M644,973l3.6,-1.8M649,975l3.4,-0.8M652,973l3.4,2.2M664,975l-0.6,3.0M670,973l2.9,-4.2M672,973l0.0,1.8M679,976l1.1,-1.3M681,977l1.3,-1.0M687,976l1.8,0.7M689,974l1.4,-1.7M693,976l4.3,-1.0M701,974l3.0,1.6M704,974l1.8,0.4M706,974l4.7,0.6M712,973l3.2,2.0M716,974l2.4,0.3M722,977l3.0,0.7M726,977l2.5,1.6M729,974l4.9,-2.2M734,973l3.7,0.7M737,975l3.1,1.1M743,976l5.0,1.0M745,973l1.0,5.1M752,975l4.1,0.5M754,974l2.0,1.7M761,977l4.7,1.0M761,974l1.6,-3.0M768,975l0.8,-1.4M772,975l3.0,1.2M775,975l0.5,2.9M781,974l0.7,2.9M789,975l5.1,0.1M797,974l5.2,-1.5M803,977l-0.3,3.6M806,973l2.7,0.8M810,974l-0.2,3.3M819,976l4.0,3.7M824,976l4.4,-1.5M830,975l1.9,0.4M831,975l3.4,1.7M836,976l2.3,3.9M839,977l3.7,0.6M844,976l0.0,3.0M851,973l1.4,-1.0M853,975l3.6,-0.0M856,975l0.4,3.5M862,977l3.0,-1.4M866,976l2.8,1.5M533,980l1.6,1.5M536,980l1.4,0.6M540,980l3.7,3.0M543,979l0.4,3.5M550,979l0.9,-1.5M551,981l5.3,0.5M555,979l4.5,0.6M561,977l0.4,2.4M567,979l3.1,-3.3M569,980l3.9,2.8M573,977l3.6,-3.1M580,980l1.5,-0.0M584,981l0.6,2.9M586,978l1.4,4.1M589,978l-0.2,3.5M595,981l1.8,-0.6M600,980l0.2,2.5M606,978l5.3,-0.1M611,977l4.7,-2.2M613,981l4.9,-1.1M618,978l3.9,0.8M621,979l4.4,3.1M626,980l-0.0,2.6M629,978l0.2,3.0M634,979l3.5,0.3M643,981l3.0,2.0M649,978l0.9,1.6M653,978l1.2,1.2M655,980l1.5,3.5M658,978l5.2,0.7M665,977l3.0,2.7M667,980l4.5,0.6M675,978l3.1,-0.9M678,978l3.9,1.1M682,978l1.6,0.7M687,978l0.4,1.8M688,981l0.6,4.1M694,979l4.6,0.8M697,979l3.0,-1.4M703,980l2.6,2.0M708,978l2.8,0.6M712,977l3.3,2.6M715,981l2.2,0.2M720,981l1.6,-0.0M724,977l1.4,0.7M729,978l-0.2,1.9M732,978l3.8,2.3M740,981l3.5,0.7M740,978l3.4,3.3M748,980l3.2,2.6M754,980l4.5,-0.7M759,980l3.0,0.8M762,979l3.9,2.5M769,979l2.9,-4.5M774,981l2.8,-2.6M776,980l3.2,0.8M781,980l2.0,0.9M786,978l2.7,1.0M790,980l2.5,-1.6M792,981l1.2,2.5M796,979l2.4,1.5M803,978l3.0,-0.2M806,978l1.8,-2.5M811,981l-0.8,4.9M820,978l2.2,-3.9M822,978l2.3,0.0M826,978l1.7,0.6M833,978l4.9,1.6M835,981l1.5,1.1M841,981l4.0,1.8M846,979l0.4,2.4M849,981l3.4,-1.3M853,978l-1.2,5.3M860,980l3.4,-1.8M864,978l1.6,-2.6M866,981l1.3,1.2M533,983l1.1,1.0M534,983l3.5,-2.3M538,985l3.3,2.1M542,983l0.7,2.5M553,984l0.7,2.4M559,985l2.0,0.1M563,985l3.0,-0.8M564,985l2.7,2.0M571,982l1.0,1.7M576,986l1.4,0.6M579,984l4.9,-1.7M582,985l4.1,3.5M588,985l4.8,-2.6M589,983l4.1,1.3M598,985l4.4,3.0M600,982l1.2,0.9M603,983l4.7,-1.5M609,985l3.6,-2.8M611,984l4.2,-2.3M618,985l1.6,0.2M623,982l2.1,0.2M626,982l3.8,1.5M630,984l3.1,-1.2M633,985l3.5,1.8M637,983l2.6,1.0M643,982l3.6,-3.1M646,983l1.6,-0.0M651,985l4.4,0.8M657,984l4.0,0.2M659,984l3.4,1.1M665,982l2.3,-0.0M669,984l2.6,-1.5M673,986l-0.7,4.8M679,985l4.0,1.3M680,983l4.9,2.2M685,985l2.8,2.2M690,982l2.2,-4.0M694,982l4.2,0.5M698,984l1.9,-1.6M702,984l2.0,4.0M708,984l1.8,0.7M710,983l0.8,1.3M716,984l2.6,1.0M721,984l1.7,-3.3M725,984l3.1,0.8M727,984l2.9,-2.0M732,984l4.9,2.2M738,984l3.1,-3.4M743,985l3.1,-3.2M747,984l2.7,-0.2M750,982l3.4,-1.2M754,982l0.8,2.4M759,985l3.4,-1.3M763,985l4.5,0.7M769,982l0.8,1.9M771,982l-0.2,2.6M780,986l4.1,-2.5M785,982l1.7,0.1M790,984l0.6,3.3M797,984l3.4,0.4M803,983l5.2,0.9M807,982l0.9,2.3M811,985l2.8,1.1M814,982l3.0,0.1M819,984l1.9,0.5M822,982l5.2,0.8M827,983l2.4,-3.4M834,982l2.3,0.1M841,986l1.2,1.1M845,984l1.4,1.1M850,985l2.3,-1.2M852,985l4.9,-1.6M860,983l1.8,3.0M862,983l2.1,4.0M868,983l1.7,-2.2M531,989l2.6,-0.5M533,989l3.1,1.2M540,986l1.9,-0.0M545,989l2.6,1.3M550,989l2.2,1.6M553,989l0.1,3.4M558,989l2.5,0.6M562,986l4.5,-1.8M567,990l3.2,1.4M570,990l-0.0,4.5M573,990l0.9,2.6M581,988l1.5,-2.9M586,990l5.0,0.9M592,988l3.3,1.5M595,987l4.2,-1.7M601,989l2.7,-4.4M603,988l1.6,0.3M609,987l2.2,1.3M612,988l2.6,1.1M615,988l4.5,2.1M623,990l2.1,-3.5M627,989l1.0,4.4M628,989l5.1,-1.3M636,989l4.7,0.5M641,990l1.7,4.1M641,988l2.3,1.6M649,990l4.8,1.6M649,990l2.0,0.3M658,989l2.0,0.4M662,988l3.6,1.7M663,987l2.1,-3.0M667,990l3.5,1.6M671,989l2.1,0.5M677,987l3.1,2.4M683,988l-0.2,4.7M688,989l1.3,-1.3M689,986l1.6,-0.5M696,988l2.8,0.8M699,987l4.3,2.5M704,986l2.5,-1.3M706,988l2.5,0.4M711,990l1.3,4.2M716,990l2.9,2.7M724,990l3.1,-0.9M729,987l2.8,1.9M733,989l1.4,1.2M737,988l3.5,1.6M743,990l3.6,2.3M748,987l5.3,0.5M752,990l2.4,0.2M755,988l1.6,-2.0M759,990l1.3,-1.8M765,988l1.2,1.0M769,989l1.9,0.3M771,989l4.2,2.2M775,987l2.7,-1.7M780,987l1.6,1.4M784,987l2.8,2.3M790,990l3.3,-0.6M794,988l2.1,0.6M797,988l2.8,0.5M803,989l0.0,2.0M806,990l1.1,3.4M811,990l1.9,1.2M817,990l1.7,0.7M818,988l2.9,0.8M822,986l2.4,0.1M827,988l2.0,1.4M832,989l3.3,1.4M836,986l1.5,-0.6M839,989l1.7,-1.4M844,989l2.5,-0.6M851,986l2.2,0.2M852,990l1.8,0.3M858,988l5.2,-0.1M861,989l-0.2,5.0M867,988l4.4,1.7M532,991l1.8,0.5M537,992l5.1,1.0M541,991l3.6,1.1M545,991l2.1,-0.2M548,993l4.5,1.4M551,993l1.2,-1.0M555,993l1.7,-0.0M563,994l0.8,2.5M566,991l2.6,1.7M572,994l4.9,0.2M572,992l1.5,0.6M580,994l5.4,0.7M581,993l4.0,3.3M588,990l4.4,-2.1M593,994l5.2,0.2M595,994l1.8,-2.5M599,992l3.5,1.2M605,993l2.5,-1.6M611,993l-0.0,2.2M618,991l-0.9,4.0M620,994l1.4,-0.9M624,992l2.2,3.5M631,992l1.4,-2.1M635,991l2.3,0.0M637,992l3.9,3.6M641,992l3.8,3.0M650,993l2.7,2.6M655,994l1.9,-0.7M660,993l2.3,0.2M666,991l3.2,-4.1M671,992l5.3,1.3M672,992l3.1,1.0M677,992l3.6,0.6M681,991l1.8,0.1M687,990l2.6,1.1M695,993l4.7,-2.8M697,990l1.4,0.7M705,993l5.1,0.0M707,994l0.1,4.1M715,994l3.4,-2.2M726,992l1.8,0.7M731,992l2.2,0.8M732,992l4.8,0.2M747,991l3.3,1.2M752,991l3.9,0.8M753,994l2.0,0.5M759,992l2.1,-3.7M764,991l5.1,-0.3M769,991l1.5,-0.8M773,991l2.2,-0.9M777,994l2.3,-0.9M779,991l4.6,1.5M783,993l3.6,1.1M790,992l1.5,-1.0M793,991l1.8,1.2M799,992l5.0,0.6M800,992l2.9,2.6M808,994l5.4,0.5M811,991l3.1,1.4M816,994l0.8,1.6M819,992l4.1,1.4M823,991l2.5,-2.2M828,993l1.6,1.5M831,994l0.9,-1.5M837,994l1.3,4.2M840,992l1.7,-2.1M844,994l1.0,-1.5M848,990l4.6,1.9M852,991l4.7,2.0M860,992l2.9,2.1M861,994l1.8,-0.6M865,993l4.5,1.6M533,998l4.9,0.5M536,997l2.7,0.7M540,997l1.0,5.0M545,996l1.9,1.4M550,997l2.7,0.5M552,998l3.6,3.2M555,999l2.3,-1.3M561,998l0.9,-1.5M566,995l2.5,1.5M570,998l1.5,2.9M574,996l1.0,5.2M577,998l1.0,2.5M581,995l0.8,1.3M586,995l3.9,2.2M593,995l4.0,1.4M596,996l4.7,0.8M600,997l3.5,-1.2M604,996l2.2,-0.7M609,997l4.4,1.2M613,998l5.2,0.2M618,995l2.9,0.4M621,996l3.3,1.9M628,996l5.3,1.5M632,996l2.7,2.4M635,997l4.0,-3.8M637,996l1.8,3.9M645,996l2.7,1.6M653,996l4.7,-1.0M654,997l3.7,0.1M658,998l4.2,1.3M666,996l3.9,-0.2M670,997l1.9,-2.2M671,997l1.5,-0.3M676,997l2.4,2.1M680,996l2.4,-2.1M687,998l4.3,0.9M693,999l-0.2,1.5M698,998l1.2,1.0M706,997l4.3,2.4M711,997l2.5,-3.5M717,996l2.0,0.8M719,997l4.4,1.2M724,995l3.3,-2.5M733,996l2.9,0.2M736,997l3.0,-0.6M743,995l4.7,0.7M746,999l2.6,1.2M749,996l3.5,0.1M754,995l2.9,-4.2M759,997l3.1,0.5M764,998l0.9,2.1M773,998l2.9,1.9M776,997l1.9,-0.7M783,996l3.4,1.5M784,996l2.2,-0.9M791,997l5.2,1.1M794,998l1.6,0.1M799,995l3.4,-1.6M803,995l3.7,3.0M808,998l1.4,1.2M812,995l1.7,0.6M820,998l3.0,-1.1M822,995l4.8,2.2M831,996l0.6,4.1M838,997l3.9,0.8M841,997l1.7,0.0M845,997l2.5,0.5M851,997l3.9,-1.2M860,998l2.0,0.8M863,999l1.8,0.2M865,997l4.5,-1.4M530,1002l0.4,5.1M536,1003l4.7,2.6M541,999l-0.1,4.6M543,1001l2.1,2.0M548,1000l4.6,-0.6M553,1002l-0.8,3.5M559,999l4.6,1.4M561,1002l3.3,0.4M567,1001l5.4,-0.1M571,1001l0.4,2.8M576,999l3.0,1.7M580,1000l1.7,-2.9M583,1003l1.6,-0.5M586,999l3.4,1.5M593,1000l2.0,0.6M597,999l1.5,0.4M599,999l1.9,1.7M603,1000l4.5,-1.6M607,1000l2.5,2.2M611,1003l4.8,0.9M617,1000l-0.2,2.0M621,1000l2.7,1.9M626,1000l2.8,0.4M629,999l2.1,1.9M632,1001l3.6,0.6M638,1002l1.8,1.2M644,1000l3.6,0.5M648,1002l3.6,0.2M650,1003l5.4,0.0M657,1001l3.8,0.4M662,1002l4.6,2.6M665,1001l-0.6,4.8M670,1002l2.9,-2.7M674,999l5.0,0.3M679,1002l3.8,-0.0M684,1001l2.2,-3.6M688,1001l4.6,2.3M693,1000l4.9,0.7M697,1002l3.1,1.8M704,1003l1.8,0.1M709,1001l4.9,0.6M711,1001l5.0,2.1M721,1000l2.6,1.7M730,1001l2.5,-4.1M732,999l2.5,0.6M739,1002l4.5,3.0M740,1002l1.5,-1.1M746,1001l3.0,0.4M752,1003l3.1,0.6M755,999l2.4,0.3M758,1001l5.1,1.8M764,1003l2.8,0.6M769,1002l4.6,2.2M772,1001l2.4,1.0M774,999l1.7,2.9M780,1000l3.3,1.5M786,1000l2.5,1.9M790,1000l2.4,1.3M793,999l1.7,0.8M799,1002l3.1,2.7M801,999l1.8,5.1M805,1001l1.5,2.6M811,999l4.4,2.5M814,1001l3.7,3.2M821,1000l2.2,-1.9M824,1002l1.3,-0.7M827,1002l2.5,1.0M831,1002l4.1,-2.0M835,1002l5.0,-1.0M841,999l2.8,0.1M847,999l1.6,1.4M849,1002l3.1,0.8M856,999l0.6,3.7M857,1000l2.0,0.9M864,1000l2.9,1.6M868,1002l1.6,-1.7M532,1006l3.9,-0.1M534,1006l1.8,-1.8M540,1004l2.5,1.3M543,1006l3.5,0.3M547,1006l2.0,0.4M553,1005l2.1,2.0M559,1006l-0.2,2.2M563,1003l2.0,-0.7M568,1004l2.6,0.0M573,1004l3.9,3.8M577,1003l2.9,2.0M582,1007l1.9,0.9M586,1004l3.9,1.1M593,1007l3.7,-3.6M600,1007l4.0,3.1M604,1006l2.0,1.1M613,1006l4.8,0.9M616,1004l0.3,3.3M622,1006l4.6,1.4M625,1004l1.8,1.4M630,1006l2.5,-1.0M634,1004l2.0,0.7M638,1004l-0.9,3.9M642,1004l2.4,1.9M647,1007l-0.5,2.9M653,1004l3.8,3.7M659,1003l1.4,-1.8M666,1004l1.8,0.2M671,1003l3.6,1.0M672,1006l3.6,-2.9M675,1007l4.5,0.5M681,1007l2.5,1.5M685,1007l3.4,0.4M691,1006l4.0,-0.9M696,1004l2.5,4.9M698,1006l3.5,1.6M702,1004l2.8,-2.2M705,1007l2.3,-3.3M711,1007l4.6,-0.0M717,1004l2.3,1.6M722,1007l0.8,2.0M723,1005l3.4,0.9M728,1006l4.2,-1.6M733,1004l3.6,-0.2M739,1007l1.4,1.2M743,1007l4.0,-1.5M748,1006l4.0,-1.4M756,1005l1.5,-2.7M760,1004l4.1,1.1M764,1004l4.8,-1.8M769,1006l1.1,3.0M771,1005l4.4,3.1M777,1004l-0.5,5.3M780,1005l1.7,0.6M785,1004l2.2,0.3M788,1005l3.3,-1.7M794,1004l-0.3,1.6M799,1006l3.3,0.3M803,1007l0.3,1.8M805,1003l3.9,0.4M809,1004l3.4,0.3M813,1005l3.0,1.6M818,1003l5.2,1.8M821,1007l3.5,-2.3M828,1007l5.2,1.7M832,1004l2.7,1.4M836,1004l2.0,4.3M839,1007l0.6,4.8M846,1006l3.2,1.5M849,1005l3.9,1.9M857,1005l4.4,2.8M861,1006l4.8,1.3M867,1004l1.5,0.1M533,1009l1.0,3.7M534,1012l3.1,-3.0M540,1009l4.9,1.1M546,1010l1.2,4.3M553,1010l1.5,0.9M558,1009l2.3,-0.2M562,1010l0.6,2.7M567,1011l4.2,2.6M568,1010l3.4,0.5M573,1011l2.1,4.3M579,1010l3.7,0.8M588,1010l2.4,0.4M592,1011l2.1,1.1M595,1010l3.1,0.6M601,1008l2.7,1.3M605,1009l-0.2,1.7M610,1010l3.4,0.3M613,1011l3.0,1.7M617,1009l2.6,0.1M621,1011l1.9,1.3M624,1008l2.1,1.8M630,1008l-0.3,1.9M634,1009l3.5,1.8M640,1009l3.8,2.1M645,1011l2.2,1.9M647,1011l4.0,-0.8M651,1008l-0.4,3.2M656,1011l2.2,0.2M659,1009l3.8,0.5M666,1011l1.3,-0.9M669,1009l2.5,-0.0M675,1008l1.9,-1.3M677,1010l3.1,-2.6M680,1009l4.3,3.1M686,1011l2.5,-1.6M697,1011l2.5,-1.1M701,1008l2.3,-2.0M705,1009l0.8,2.8M708,1009l1.9,0.5M712,1011l3.4,2.2M716,1010l3.4,1.1M720,1008l3.9,0.3M726,1009l3.3,0.6M730,1008l1.8,1.4M732,1010l0.7,2.7M737,1008l4.3,1.0M740,1009l1.8,0.9M746,1008l2.3,-2.9M752,1011l0.3,4.5M755,1009l2.4,1.3M759,1009l2.1,-0.4M763,1008l2.5,0.2M767,1011l3.9,-0.5M772,1011l2.0,0.2M774,1009l3.3,1.2M781,1008l4.5,-2.4M787,1011l2.1,0.5M793,1009l5.2,0.5M798,1011l0.7,3.1M801,1011l-0.2,2.4M807,1008l-0.0,3.5M813,1009l1.8,1.4M815,1012l0.9,4.8M820,1010l4.2,-3.0M822,1008l1.2,2.4M826,1010l1.8,-1.4M831,1010l1.6,0.7M836,1009l1.4,1.0M843,1010l4.2,3.1M845,1009l1.9,-0.1M848,1011l5.0,-1.0M854,1011l4.8,0.3M857,1008l3.0,-0.3M860,1011l3.3,1.2M868,1010l1.2,2.5M531,1015l3.5,0.5M537,1013l2.0,-1.5M541,1015l4.7,1.3M544,1016l1.4,3.4M547,1015l2.7,2.7M558,1015l0.3,3.8M563,1013l0.8,4.0M566,1012l2.0,0.4M570,1015l2.0,-2.3M575,1015l2.0,0.8M578,1013l4.7,0.0M585,1013l-0.0,2.0M588,1012l2.1,1.4M590,1015l1.7,1.2M596,1012l4.1,-1.4M600,1012l3.1,0.3M610,1012l2.6,0.2M615,1012l0.8,1.9M618,1014l2.0,1.5M621,1014l-0.0,4.8M626,1014l5.1,1.6M631,1013l1.8,0.5M636,1012l1.9,1.4M640,1014l2.1,-1.3M641,1014l2.7,-2.3M645,1014l4.6,1.3M653,1016l3.8,1.8M656,1012l3.5,0.5M661,1016l3.5,-1.5M670,1014l2.5,-0.5M673,1013l4.8,1.0M675,1014l4.4,-3.0M682,1014l-0.0,4.4M687,1015l2.2,2.0M691,1012l1.8,-2.3M695,1013l2.4,4.6M700,1016l2.5,-3.9M705,1015l3.3,-2.4M707,1012l4.1,0.7M711,1015l-0.9,3.9M715,1014l1.9,1.0M719,1014l1.6,5.2M726,1013l5.4,0.2M730,1013l4.0,1.3M734,1013l3.0,-2.4M738,1012l-0.3,4.5M741,1013l3.0,0.6M747,1012l2.7,-1.3M751,1016l5.1,-0.5M755,1015l-0.6,5.3M759,1014l4.2,3.4M763,1012l3.1,-2.6M768,1015l4.4,-1.4M776,1012l4.0,0.1M779,1014l2.6,4.1M784,1015l4.7,1.6M791,1015l2.2,1.0M795,1016l3.2,0.7M796,1014l0.8,1.7M803,1012l-0.5,2.8M805,1014l1.1,4.2M812,1014l-0.2,5.2M817,1012l4.4,0.6M819,1015l1.4,-1.3M825,1015l4.2,2.3M828,1015l3.7,0.8M833,1015l5.4,-0.7M838,1013l3.3,2.6M845,1012l5.5,0.2M847,1012l1.8,-0.7M855,1015l1.7,1.4M860,1013l2.2,2.1M861,1014l2.3,1.8M866,1013l1.3,2.6M534,1020l2.3,-2.4M538,1016l-0.3,4.2M543,1019l4.2,0.8M547,1018l2.8,0.9M555,1017l2.1,-2.7M560,1016l3.5,2.3M567,1018l3.1,2.8M570,1016l5.3,0.0M576,1020l4.9,0.3M580,1020l-0.1,3.9M585,1016l1.1,2.2M585,1019l4.4,1.0M593,1017l3.3,0.2M595,1017l0.8,5.1M600,1020l2.5,-2.3M604,1018l3.7,-1.5M611,1019l3.9,-3.1M611,1017l2.9,-0.6M616,1020l1.2,-1.1M622,1017l4.0,2.2M624,1017l1.6,1.0M631,1016l4.9,2.0M636,1018l2.6,0.2M640,1020l2.8,-0.3M642,1019l3.4,-2.5M646,1018l1.7,0.3M653,1018l-0.0,1.9M655,1018l3.5,-1.2M660,1017l1.2,-1.4M664,1016l1.3,-1.8M670,1020l0.7,2.5M672,1020l3.2,1.1M677,1017l2.6,1.8M684,1019l3.4,1.8M685,1019l4.1,0.5M690,1018l0.6,1.6M695,1019l3.2,-3.5M698,1017l2.2,-1.3M705,1018l1.3,0.9M708,1018l3.4,-1.1M717,1017l2.8,-0.4M722,1020l1.0,4.9M724,1018l2.6,-3.2M727,1017l0.3,2.0M735,1019l3.2,-1.3M737,1017l5.3,1.0M741,1019l2.4,1.2M745,1018l1.9,0.9M752,1016l1.1,5.2M756,1017l3.1,-2.6M759,1017l1.5,1.1M763,1018l2.7,-0.0M768,1018l0.5,3.4M772,1017l3.7,1.2M778,1017l3.6,-2.0M786,1017l2.3,-4.4M789,1019l3.9,1.1M796,1020l2.6,1.2M800,1019l1.4,2.4M807,1019l4.7,1.0M810,1019l2.8,2.6M816,1017l2.6,1.5M819,1019l1.8,1.0M824,1020l1.9,0.6M827,1018l1.8,0.3M832,1019l3.2,-4.4M837,1018l1.7,0.4M841,1020l3.2,-2.5M851,1019l1.3,-0.8M852,1018l0.9,-1.5M863,1018l2.7,-2.1M866,1018l1.1,-1.6M533,1024l3.8,1.9M533,1024l2.0,4.0M540,1021l4.6,-1.6M543,1022l4.1,-3.3M547,1023l3.9,1.6M551,1024l3.9,1.3M555,1023l3.3,3.0M561,1023l4.0,2.6M566,1023l3.6,-2.4M569,1021l2.3,-0.5M573,1021l1.9,1.6M584,1022l1.4,2.9M585,1022l1.5,0.9M590,1021l2.0,1.5M597,1023l3.7,1.8M602,1022l3.2,1.1M605,1021l3.6,0.6M609,1021l3.0,0.8M613,1024l1.2,1.2M616,1023l4.2,3.5M621,1024l3.3,0.8M624,1021l4.9,1.3M632,1021l4.8,0.4M633,1024l3.5,0.7M638,1022l-0.1,1.6M645,1021l4.8,-1.1M645,1022l1.3,-1.5M656,1022l4.4,1.2M661,1023l5.0,0.9M663,1021l2.7,0.4M668,1024l2.2,-1.7M673,1024l1.4,-0.6M676,1023l0.9,-1.6M682,1023l2.0,0.8M685,1022l3.0,0.6M691,1024l-0.5,3.7M694,1024l2.5,0.2M700,1022l2.6,4.7M703,1021l1.8,0.9M707,1024l5.3,1.5M712,1024l0.8,2.6M714,1020l1.4,2.3M722,1022l2.4,0.9M723,1023l3.9,3.3M730,1024l2.7,-3.1M735,1023l0.1,3.0M737,1021l4.5,1.3M743,1023l2.7,1.3M748,1022l1.6,1.1M751,1023l4.1,-1.4M755,1021l1.0,-1.3M757,1020l2.0,1.2M763,1021l3.8,0.4M768,1021l2.6,-0.8M773,1021l4.0,1.3M777,1024l1.8,-2.4M780,1024l2.6,-2.4M787,1024l4.4,-3.3M790,1024l-0.3,2.2M793,1020l3.6,0.3M797,1024l1.6,2.6M802,1024l4.1,2.9M806,1021l2.7,0.7M812,1021l4.1,2.8M813,1022l1.0,2.2M820,1022l3.1,2.0M825,1022l3.1,1.3M829,1021l-0.3,1.5M832,1023l4.6,1.9M836,1021l3.7,2.4M842,1022l5.1,0.0M846,1021l3.5,2.8M849,1022l3.0,-2.1M855,1022l1.8,4.0M860,1021l1.9,1.6M862,1022l1.6,0.7M865,1022l1.4,0.7M530,1027l0.1,2.9M536,1028l2.0,0.5M540,1027l3.3,2.5M545,1027l3.8,2.7M550,1025l5.0,1.8M553,1025l4.2,-2.0M555,1027l5.1,0.8M561,1025l2.6,0.8M566,1025l4.4,-0.2M574,1028l3.9,3.8M579,1029l1.5,0.1M583,1029l1.3,-1.9M585,1027l5.0,-0.0M589,1027l1.8,1.2M598,1025l-0.5,2.1M600,1028l0.5,4.4M603,1026l2.3,0.4M608,1028l2.0,1.9M615,1026l2.4,-2.7M617,1028l2.7,-4.0M623,1026l2.3,-3.2M625,1029l4.4,0.6M631,1025l1.5,1.3M634,1025l1.7,4.0M638,1025l4.7,0.7M644,1029l4.1,-0.7M647,1026l3.8,1.2M650,1025l3.4,2.2M656,1026l5.1,0.2M658,1028l3.3,3.1M665,1027l4.2,2.5M669,1026l2.3,4.8M673,1025l3.2,0.1M678,1026l4.5,2.5M680,1029l1.9,0.5M687,1025l3.9,-0.0M691,1026l4.7,1.6M695,1027l1.8,-0.0M701,1026l1.5,-0.8M705,1025l3.6,0.7M707,1028l3.7,3.4M710,1027l3.5,-1.4M715,1028l1.1,1.1M720,1026l3.3,2.1M726,1025l5.4,0.3M727,1026l0.6,4.3M735,1029l4.1,-3.1M737,1026l1.5,4.4M743,1025l1.6,1.1M747,1026l1.8,1.0M749,1025l1.7,-2.1M755,1028l2.6,1.5M757,1026l1.0,1.9M765,1028l2.4,-3.3M774,1028l1.0,2.0M775,1025l2.0,4.0M779,1028l0.2,1.7M788,1026l1.6,-0.0M795,1029l2.8,-4.5M800,1026l2.8,-2.0M801,1029l2.1,-1.2M807,1028l3.5,-3.8M809,1028l3.5,-0.8M816,1025l2.3,1.9M819,1027l1.5,-0.0M824,1028l3.3,2.0M827,1026l1.8,-1.8M832,1026l3.5,1.3M834,1025l4.4,0.1M841,1029l2.1,1.3M844,1025l3.5,0.3M850,1027l4.5,2.0M855,1028l0.2,2.3M860,1025l3.2,-1.3M863,1027l5.0,0.3M866,1026l4.6,0.3M531,1029l3.5,0.2M534,1030l2.0,0.1M539,1030l0.5,1.7M542,1029l1.9,-2.4M548,1031l2.5,0.8M553,1033l2.6,-4.4M556,1030l2.0,0.4M561,1033l1.2,1.2M564,1030l2.7,2.0M572,1030l2.3,1.7M578,1031l-0.1,3.7M581,1031l3.6,3.5M585,1031l3.8,1.5M592,1032l4.6,-2.8M597,1031l2.0,0.4M598,1030l2.3,-0.8M604,1030l3.1,0.7M614,1030l1.9,1.7M618,1030l0.6,2.0M620,1033l2.7,-3.4M624,1032l2.1,0.1M629,1030l2.6,2.3M632,1029l-0.7,3.3M640,1030l1.1,-1.9M645,1029l3.9,3.7M646,1030l1.6,3.8M650,1033l1.9,1.8M656,1033l2.7,1.9M659,1033l-0.1,5.4M665,1031l5.3,0.7M670,1032l2.7,1.7M675,1029l2.1,0.3M676,1031l1.0,1.7M682,1030l1.4,5.2M684,1032l3.0,-2.6M688,1030l4.1,0.7M693,1031l4.8,1.4M697,1031l1.6,-2.9M704,1032l1.3,0.9M709,1030l1.6,1.3M713,1033l3.4,0.6M717,1030l0.2,2.1M720,1033l3.6,3.1M723,1030l1.5,0.8M728,1033l2.0,1.9M735,1031l2.6,-2.4M737,1029l2.8,1.3M743,1032l2.6,0.9M746,1032l2.0,1.2M751,1031l1.5,-2.0M756,1030l0.5,1.9M758,1033l3.8,0.4M768,1029l1.5,0.9M772,1029l2.4,-2.4M775,1030l3.7,-1.3M780,1031l2.0,4.8M786,1030l2.8,0.4M790,1030l0.2,3.5M795,1031l5.1,0.3M799,1032l2.5,-0.1M802,1031l3.1,0.8M808,1030l2.0,4.9M812,1033l2.0,-2.4M814,1030l3.8,-3.9M818,1032l0.3,3.3M822,1030l4.2,1.1M828,1033l3.8,0.0M831,1030l4.5,1.8M835,1030l3.9,2.0M841,1030l0.1,2.2M844,1032l2.3,1.1M850,1029l3.9,-0.3M855,1030l3.7,0.5M856,1030l2.8,-2.9M863,1032l5.2,-0.0M867,1033l1.2,-1.0M532,1035l0.9,4.3M533,1035l2.8,-0.1M541,1033l2.2,-2.6M545,1037l2.3,1.1M549,1034l1.3,4.7M552,1036l1.4,-1.7M555,1036l1.4,0.5M563,1033l2.4,-4.6M564,1037l3.5,0.9M570,1037l3.6,1.4M576,1036l2.1,0.1M580,1033l2.8,0.9M583,1036l3.4,1.6M587,1037l3.4,0.0M593,1035l4.4,2.4M594,1037l4.2,1.5M599,1037l0.5,4.8M603,1037l3.1,1.3M610,1036l2.8,0.6M619,1033l3.8,2.3M621,1036l3.5,0.4M624,1036l2.0,0.2M628,1036l-0.3,2.6M633,1033l3.6,1.6M640,1036l5.3,1.2M642,1034l1.3,4.5M646,1034l3.3,0.3M650,1035l2.2,-1.9M655,1036l4.3,-1.8M659,1037l2.2,1.6M664,1036l0.5,2.6M669,1036l5.3,1.5M676,1035l3.8,2.3M683,1034l1.0,1.9M686,1033l3.3,-1.2M694,1036l2.8,1.4M700,1034l4.0,2.9M703,1035l3.7,2.7M708,1034l1.0,2.2M712,1036l5.1,-1.4M715,1036l2.0,1.2M718,1034l3.2,0.4M729,1034l2.6,-1.8M732,1037l2.1,4.2M736,1035l2.6,2.0M743,1034l2.4,4.7M747,1035l3.1,0.4M750,1036l0.2,2.0M755,1035l4.6,2.6M761,1037l1.7,0.5M762,1036l5.3,1.1M766,1035l2.2,0.9M772,1036l1.9,-1.8M777,1034l4.1,0.3M782,1036l-0.2,3.6M784,1034l3.9,3.6M788,1036l-0.2,4.8M793,1037l3.1,-2.8M796,1033l2.6,4.2M802,1035l1.1,2.4M808,1036l1.6,1.4M811,1034l1.5,0.6M816,1037l2.4,4.7M818,1036l1.0,-1.4M822,1033l4.1,2.1M826,1034l2.2,0.6M831,1034l3.6,-1.4M837,1036l5.1,0.3M842,1034l1.5,-0.0M844,1037l3.4,-1.2M851,1037l1.4,-2.6M853,1035l4.7,1.9M859,1035l3.9,2.2M863,1034l3.2,-3.9M868,1033l3.4,1.5M533,1039l2.4,1.1M535,1039l2.5,0.6M542,1040l0.3,4.9M544,1041l3.3,1.0M548,1040l2.1,0.5M552,1041l0.1,4.2M557,1039l2.8,-3.5M563,1041l0.6,2.3M566,1039l3.6,-1.4M569,1038l3.8,1.3M573,1041l3.3,1.5M580,1038l0.9,4.5M581,1038l3.8,-0.0M587,1040l4.9,-0.4M593,1040l3.0,0.8M598,1038l2.7,-2.4M599,1038l1.1,-1.5M605,1040l1.5,0.4M609,1039l1.9,-2.4M615,1039l1.5,0.1M617,1038l2.2,-1.0M625,1041l2.0,-2.9M628,1038l4.5,-0.6M635,1038l3.4,-0.7M640,1038l2.9,-1.0M644,1042l4.0,-0.2M645,1039l1.5,3.0M651,1040l1.4,1.4M656,1040l1.7,1.6M664,1042l2.2,1.4M670,1040l1.0,1.7M675,1039l2.6,1.9M677,1038l3.3,2.5M683,1038l1.8,1.8M686,1039l1.8,0.7M689,1041l2.4,0.1M694,1041l1.4,1.2M699,1041l3.1,-2.6M701,1039l4.3,1.1M708,1039l3.1,2.0M711,1038l3.7,-0.9M719,1040l3.7,-0.2M724,1041l3.9,3.5M730,1038l2.3,0.4M731,1041l2.0,0.7M739,1038l1.8,0.8M743,1041l5.1,1.7M746,1039l2.2,1.2M751,1040l1.9,-2.4M754,1039l3.7,0.3M761,1038l2.4,0.5M761,1042l1.7,0.1M768,1040l3.8,1.3M773,1038l5.0,0.2M778,1038l2.3,-4.3M782,1040l1.4,1.4M785,1038l1.3,1.0M790,1038l3.1,1.0M794,1041l3.4,2.6M796,1039l1.4,2.4M800,1039l2.2,1.0M807,1041l3.4,2.5M811,1039l4.0,1.6M815,1041l0.5,5.2M821,1038l4.3,-3.4M824,1039l2.1,4.1M827,1038l3.0,0.8M835,1039l2.4,1.2M839,1040l1.9,0.0M845,1040l0.1,4.8M851,1040l3.5,0.1M854,1041l-0.3,1.8M864,1038l3.8,0.6M868,1038l5.1,1.9M531,1045l2.0,0.7M537,1045l0.7,2.8M541,1046l4.2,-0.5M544,1042l3.1,-3.4M549,1045l3.9,1.7M552,1043l4.0,1.4M558,1045l1.0,2.4M563,1042l2.6,-0.3M565,1042l2.8,-3.1M568,1045l5.3,0.1M574,1043l3.7,0.8M578,1043l1.2,-1.7M586,1043l2.4,4.2M592,1045l3.8,0.9M602,1044l3.8,-1.5M606,1045l2.3,1.0M610,1043l1.8,1.6M614,1045l3.8,2.7M619,1043l1.9,1.3M623,1045l3.0,1.4M624,1045l1.5,1.2M630,1042l5.2,1.6M636,1046l2.5,0.2M638,1045l4.1,2.5M648,1045l4.7,2.6M653,1044l4.1,-0.3M655,1042l3.4,2.4M661,1045l1.7,-1.2M663,1045l2.3,4.1M667,1044l1.9,-1.3M672,1044l2.5,-3.6M679,1044l3.6,2.2M682,1046l5.0,0.9M691,1043l1.1,2.7M696,1043l2.5,-0.6M699,1043l2.1,-1.5M705,1044l0.6,3.8M708,1042l0.6,2.9M712,1044l1.6,3.1M716,1045l2.8,-1.5M722,1043l3.0,0.9M724,1045l3.6,-2.3M729,1045l3.6,3.4M734,1043l4.3,-1.2M737,1044l-0.2,2.9M741,1042l5.3,0.2M748,1043l1.9,0.0M750,1044l2.9,2.6M755,1046l2.0,1.9M758,1045l4.4,-2.1M763,1044l2.7,2.1M767,1046l4.9,-2.1M770,1045l4.8,0.4M777,1045l4.6,2.2M780,1043l2.7,-0.6M786,1044l3.0,0.8M789,1045l1.6,-1.6M795,1044l4.2,-2.1M798,1045l4.9,0.0M803,1046l3.5,1.8M805,1045l2.4,-3.4M812,1043l1.6,-0.1M813,1044l1.7,1.2M819,1044l5.2,-0.9M830,1045l4.2,1.1M831,1044l3.2,-0.7M835,1044l3.5,3.5M843,1044l0.6,1.8M846,1043l4.9,-1.5M851,1046l1.9,0.7M854,1046l4.0,-1.7M859,1044l1.2,1.1M863,1045l1.9,-0.5M867,1045l2.5,4.2M532,1046l1.8,0.6M536,1049l3.3,2.7M540,1047l5.1,-1.8M543,1050l4.9,0.8M550,1049l4.0,1.8M552,1047l2.5,1.2M557,1050l4.8,2.2M559,1049l2.5,0.9M568,1047l2.3,-0.9M572,1049l-0.4,4.5M574,1047l3.0,-0.5M576,1049l3.3,0.3M584,1047l1.4,-1.6M588,1047l3.8,0.7M590,1048l2.4,1.2M597,1050l4.6,2.3M600,1050l3.1,2.8M606,1049l4.8,-1.9M610,1047l3.5,-0.7M613,1047l2.4,-4.2M617,1047l2.6,0.6M621,1047l4.1,-0.1M625,1047l1.2,3.8M628,1050l4.0,1.1M635,1050l1.9,0.3M640,1048l1.6,0.5M641,1048l4.7,-2.0M652,1047l0.3,5.5M660,1046l5.3,-0.6M664,1046l2.4,2.2M667,1047l2.1,0.1M675,1050l2.9,1.7M679,1048l2.3,0.1M684,1048l2.5,0.9M686,1048l2.9,0.6M691,1048l3.8,1.3M697,1049l3.7,1.0M697,1049l0.9,3.8M705,1047l0.6,1.6M706,1049l2.2,1.2M713,1048l0.2,2.2M715,1048l1.6,-2.5M722,1050l4.1,1.0M724,1050l5.2,0.8M728,1050l1.1,5.0M734,1049l0.6,1.8M737,1047l4.3,-0.4M741,1046l2.4,2.3M745,1048l-0.0,1.8M752,1047l1.7,0.0M755,1050l1.9,3.5M760,1048l1.3,2.7M765,1049l2.1,0.0M766,1050l3.5,-1.5M772,1047l1.7,1.4M777,1047l1.1,-1.2M781,1049l-0.8,5.4M786,1050l2.1,1.0M790,1046l4.7,2.7M795,1047l3.3,0.4M797,1049l1.6,0.5M802,1047l2.4,0.4M807,1048l2.4,-0.0M809,1050l-0.3,4.5M814,1050l3.4,-0.6M818,1048l0.1,2.1M823,1049l3.1,1.1M828,1047l1.9,0.5M832,1049l1.8,-2.3M836,1047l4.7,0.5M839,1048l2.5,-2.0M846,1049l4.3,-3.0M851,1050l4.4,0.2M852,1047l4.0,2.5M860,1049l2.2,-0.0M867,1048l3.6,1.2M533,1052l1.6,-0.7M534,1053l3.0,1.1M538,1055l0.2,1.9M543,1053l3.0,2.6M553,1054l4.8,1.6M558,1054l2.4,-0.2M560,1051l-0.3,2.1M565,1051l1.4,4.9M568,1054l3.9,-2.9M574,1052l4.7,2.4M577,1054l4.3,2.9M585,1053l3.7,1.9M585,1054l4.4,2.1M596,1053l4.2,0.8M601,1051l2.6,0.6M606,1051l4.7,1.1M609,1054l1.7,0.1M613,1053l2.1,1.3M616,1051l1.8,4.3M621,1052l3.7,-0.4M625,1053l4.4,2.1M631,1052l4.0,3.4M634,1053l4.6,1.0M638,1051l1.1,-1.9M641,1052l4.2,3.6M648,1052l3.6,0.5M650,1051l-0.3,4.7M654,1051l4.3,0.4M661,1051l1.6,-0.6M665,1053l1.8,0.5M667,1054l3.8,3.0M675,1052l3.1,0.9M677,1053l2.1,0.2M682,1054l3.8,1.1M686,1051l2.9,0.4M690,1052l2.4,4.4M694,1053l2.8,0.7M698,1051l4.0,1.6M704,1051l1.6,0.9M706,1052l5.2,1.5M710,1051l3.9,3.2M716,1051l4.5,1.5M722,1053l2.2,0.5M723,1053l3.5,2.1M729,1054l4.6,-2.0M734,1053l4.5,0.3M736,1052l-0.2,4.3M744,1050l-0.1,4.2M745,1051l4.2,-1.7M750,1051l3.0,2.5M756,1053l4.1,0.9M757,1051l5.0,2.2M763,1053l2.9,-2.6M766,1052l1.9,0.5M770,1051l4.2,-2.6M775,1053l2.8,1.8M781,1052l4.9,1.3M783,1054l2.1,0.5M788,1052l2.9,0.6M792,1054l3.1,0.6M798,1055l3.9,0.7M802,1055l2.2,1.3M806,1055l3.7,3.2M809,1054l4.3,2.2M820,1054l2.6,-1.5M822,1052l4.2,-1.3M827,1052l1.8,0.3M832,1052l4.9,2.2M835,1053l2.2,0.4M840,1054l2.4,0.7M845,1052l5.3,-0.1M850,1054l1.1,-1.1M854,1054l1.8,-0.3M860,1051l4.5,1.5M862,1051l3.6,-0.0M865,1053l0.8,3.6M535,1056l5.2,-1.4M539,1059l2.5,0.5M544,1055l2.8,0.3M550,1057l2.7,0.1M553,1056l2.2,4.3M556,1059l2.2,1.3M560,1055l3.6,-0.9M565,1056l4.3,1.2M572,1056l4.0,3.3M576,1057l3.1,2.3M577,1057l5.3,-0.1M581,1058l1.1,1.8M588,1059l5.2,1.7M589,1059l4.0,1.1M594,1057l0.7,1.8M601,1058l3.0,2.5M604,1055l3.1,0.4M609,1059l0.4,1.6M614,1056l4.3,0.7M619,1055l4.1,0.8M621,1059l4.1,2.2M626,1057l2.4,1.2M629,1058l2.9,1.4M640,1059l-0.3,3.9M641,1058l3.9,3.0M648,1055l3.8,-0.2M652,1055l5.4,0.6M661,1058l2.4,0.0M664,1058l1.8,0.6M670,1058l5.3,-0.3M672,1055l4.3,1.5M678,1059l0.4,3.2M684,1055l4.4,0.8M684,1058l2.0,-0.8M690,1057l3.4,0.8M694,1056l1.8,0.3M699,1056l4.2,0.6M705,1058l4.9,0.6M706,1056l1.6,3.2M710,1058l3.7,3.1M716,1056l4.2,0.3M722,1057l2.1,3.6M724,1055l3.2,3.1M728,1057l3.8,0.3M736,1059l2.5,0.0M740,1058l3.6,-1.7M748,1056l3.4,3.0M750,1055l1.4,1.0M756,1059l3.3,1.1M757,1055l3.5,0.0M762,1056l5.2,-1.7M766,1056l2.7,2.4M770,1056l2.3,1.0M776,1056l4.7,1.9M781,1057l3.4,1.8M786,1055l2.6,1.7M790,1058l0.9,2.0M793,1059l0.0,1.5M799,1057l4.2,1.0M801,1058l3.6,-0.0M805,1056l3.4,2.7M811,1056l1.2,4.4M817,1055l4.3,-1.2M817,1055l0.4,2.4M822,1058l3.0,1.3M826,1057l-0.6,3.2M832,1057l4.8,1.5M835,1055l2.7,1.4M840,1058l3.1,0.8M846,1056l2.2,0.1M849,1055l4.2,2.0M855,1055l2.4,1.0M858,1056l2.4,0.7M864,1057l0.7,2.0M865,1055l4.6,-1.7M531,1062l-0.9,4.9M534,1060l4.2,3.5M538,1060l1.5,-1.3M542,1060l3.6,0.5M547,1060l-0.1,3.2M553,1060l-0.0,1.6M555,1063l5.0,2.3M562,1062l2.3,1.7M566,1062l5.1,0.6M570,1063l2.2,-0.7M576,1060l1.5,-0.5M579,1062l1.0,5.2M581,1063l2.6,1.7M587,1062l3.8,0.3M590,1060l5.3,0.7M597,1063l2.4,0.1M599,1060l3.8,3.4M604,1062l5.0,1.9M610,1063l3.2,2.2M612,1061l4.3,1.1M617,1062l3.4,-4.3M621,1063l2.0,-0.7M624,1060l4.0,1.6M629,1063l2.8,-0.0M634,1059l4.6,0.5M639,1060l3.9,-1.2M644,1061l2.1,0.3M649,1059l4.8,-1.4M650,1063l2.7,2.0M656,1062l3.1,1.7M662,1060l-0.1,2.0M665,1060l5.3,1.6M667,1062l0.1,3.1M671,1059l1.8,-1.2M676,1062l2.3,3.8M680,1059l3.7,-1.0M690,1063l4.6,-1.1M693,1061l0.9,2.1M697,1063l3.4,0.0M704,1060l4.6,1.7M707,1063l0.8,-1.3M713,1062l0.4,5.5M718,1063l1.6,0.3M725,1063l1.6,0.1M730,1062l4.9,1.1M734,1059l-0.2,1.6M739,1061l1.1,2.6M743,1060l2.2,0.4M746,1060l3.2,2.7M752,1063l1.9,-1.5M757,1059l4.5,0.8M758,1060l2.0,0.1M765,1059l1.4,3.5M767,1060l1.0,2.4M773,1061l2.7,0.3M778,1059l1.6,0.5M781,1062l2.1,1.0M786,1063l0.0,2.1M795,1059l3.5,-1.8M799,1062l3.6,-3.2M803,1060l1.5,0.3M808,1062l0.2,2.3M813,1060l4.4,1.3M815,1063l3.7,0.8M820,1063l1.7,3.2M825,1060l1.5,0.4M826,1060l1.6,-1.5M830,1060l1.7,0.7M838,1061l3.2,0.8M841,1063l1.6,3.6M844,1060l4.1,2.3M849,1061l1.9,-0.6M854,1062l3.3,1.0M860,1060l0.2,1.6M861,1062l3.2,2.5M868,1059l4.4,1.9M530,1066l4.0,-0.1M536,1068l3.6,0.2M541,1064l0.7,2.5M542,1063l1.5,-1.1M549,1066l3.0,0.8M551,1065l4.8,1.2M555,1067l2.5,0.5M562,1067l2.1,0.2M564,1066l-0.1,2.6M571,1064l3.6,1.9M573,1066l2.7,1.2M580,1065l4.9,2.0M581,1066l4.0,0.8M589,1064l3.5,1.5M593,1067l3.7,-3.8M596,1067l1.1,4.8M601,1065l2.3,0.5M605,1065l3.8,1.6M608,1065l5.4,0.5M612,1064l2.1,-3.0M619,1065l3.3,0.0M623,1067l3.2,1.0M624,1066l5.1,1.8M630,1065l3.9,1.1M634,1065l2.9,0.3M643,1064l3.2,-0.5M646,1067l2.0,1.1M653,1067l3.8,2.4M654,1067l3.4,1.0M662,1067l4.0,1.1M664,1067l5.2,1.5M668,1065l3.2,0.1M674,1064l4.0,2.7M677,1065l3.2,0.9M688,1066l0.4,3.2M690,1066l2.9,0.6M700,1064l2.7,-0.9M702,1066l2.8,0.5M709,1064l1.8,0.2M711,1067l4.8,0.7M717,1064l3.5,1.3M721,1064l-0.1,2.2M724,1066l4.2,-1.8M727,1066l3.9,2.3M732,1066l2.9,-3.8M736,1066l2.2,-0.7M747,1068l5.2,1.6M752,1064l1.8,1.2M753,1067l0.3,2.2M759,1066l4.7,0.0M765,1065l3.6,1.5M770,1066l1.7,1.5M771,1067l3.6,0.3M778,1066l3.2,-0.5M781,1066l3.2,2.7M784,1064l3.0,1.5M791,1066l4.7,0.2M792,1064l2.6,0.4M798,1064l2.9,0.0M802,1067l2.9,2.4M804,1064l-0.6,4.9M811,1065l3.7,2.7M814,1066l5.1,1.4M819,1066l2.9,1.1M825,1064l-0.2,5.1M830,1064l2.2,1.5M833,1064l2.5,-4.3M838,1064l1.7,-1.7M841,1065l1.2,1.1M847,1068l3.3,0.4M853,1067l1.1,2.9M859,1066l-1.1,5.1M861,1063l1.3,-1.3M865,1064l2.9,-0.2M531,1071l0.7,4.8M538,1068l4.4,2.2M538,1069l1.7,1.7M545,1070l3.6,2.2M548,1068l2.4,0.1M551,1072l-0.8,5.4M557,1070l4.9,1.1M561,1068l2.9,2.7M565,1068l3.4,0.4M569,1069l3.1,0.4M574,1070l5.4,-0.0M579,1069l1.6,-1.1M584,1069l2.4,1.2M588,1069l4.8,1.4M591,1068l1.9,1.1M595,1071l0.8,1.4M600,1068l2.3,-1.2M604,1068l2.7,0.8M609,1071l0.8,-1.3M615,1070l2.4,-1.0M615,1071l0.3,1.8M621,1070l3.5,2.6M628,1068l4.8,1.0M630,1071l1.7,-2.9M634,1068l3.5,-2.0M637,1069l3.8,1.2M645,1070l2.6,-3.4M647,1072l4.7,-0.8M652,1068l3.1,-3.0M656,1068l3.1,2.7M659,1071l4.8,0.7M666,1069l1.8,1.1M669,1068l4.0,0.7M673,1069l0.1,1.5M679,1069l2.7,1.6M682,1069l4.1,3.6M687,1068l2.9,2.7M690,1070l2.2,2.0M697,1071l3.8,2.8M698,1070l0.7,1.5M702,1071l1.9,0.7M707,1071l-0.5,2.9M712,1070l2.3,0.9M715,1071l1.8,0.7M722,1071l-0.3,4.2M724,1069l1.6,0.7M728,1072l2.4,1.4M733,1068l3.4,1.8M736,1070l-0.1,3.3M744,1072l2.3,1.3M744,1068l2.8,-1.6M749,1072l1.7,1.1M754,1071l3.2,3.1M761,1069l1.5,0.3M762,1071l2.9,-0.9M770,1068l3.6,0.5M772,1070l3.8,0.2M777,1072l1.6,3.9M781,1071l3.5,2.2M788,1070l4.8,0.9M794,1068l3.7,3.6M798,1071l1.7,4.6M801,1069l2.8,1.0M805,1068l3.6,1.0M809,1071l2.5,1.9M813,1069l3.1,1.3M819,1069l2.7,-4.3M825,1070l2.2,0.4M829,1070l5.4,-0.5M832,1071l4.2,-2.4M842,1071l1.7,-0.4M845,1068l4.3,2.1M848,1069l3.3,1.4M852,1070l3.6,0.6M857,1071l4.2,3.0M861,1069l0.9,3.4M866,1070l3.9,1.2" stroke="#fff" stroke-width="2.4" stroke-linecap="round" fill="none"/></g>
<polygon points="529.0,936.0 538.0,930.0 613.0,950.0 747.0,997.0 796.0,1015.0 868.0,1064.0 867.0,1071.0 813.0,1043.0 747.0,1018.0 613.0,972.0 529.0,942.0" fill="none" stroke="#000" stroke-width="2.6"/>
<path d="M806.0,1053.0 L908.0,1086.0 L1010.0,1128.0" fill="none" stroke="#000" stroke-width="2.70" />
<ellipse cx="696.5" cy="1040.0" rx="50.0" ry="29.0" fill="#fff" stroke="#000" stroke-width="3.98"/>
<ellipse cx="696.0" cy="1038.0" rx="43.0" ry="22.0" fill="none" stroke="#000" stroke-width="2.70"/>
<ellipse cx="667.0" cy="1038.0" rx="3.8" ry="3" fill="#000"/>
<ellipse cx="697.0" cy="1035.0" rx="3.8" ry="3" fill="#000"/>
<ellipse cx="682.0" cy="1047.0" rx="3.8" ry="3" fill="#000"/>
<ellipse cx="712.0" cy="1046.0" rx="3.8" ry="3" fill="#000"/>
<path d="M697.0,1006.0 L697.0,1013.0" fill="none" stroke="#000" stroke-width="4.26" />
<ellipse cx="621.0" cy="995.5" rx="3.8" ry="3.0" fill="#000"/>
<ellipse cx="657.5" cy="995.5" rx="3.8" ry="3.0" fill="#000"/>
<ellipse cx="495.0" cy="1109.0" rx="3.8" ry="3.0" fill="#000"/>
<ellipse cx="509.0" cy="1130.0" rx="3.8" ry="3.0" fill="#000"/>
<ellipse cx="430.0" cy="921.0" rx="3.8" ry="3.0" fill="#000"/>
<ellipse cx="418.0" cy="983.0" rx="3.8" ry="3.0" fill="#000"/>
<ellipse cx="778.0" cy="1040.0" rx="3.8" ry="3.0" fill="#000"/>
<ellipse cx="735.0" cy="1105.0" rx="3.8" ry="3.0" fill="#000"/>
<ellipse cx="710.0" cy="1085.0" rx="3.8" ry="3.0" fill="#000"/>
<path d="M612,1158 L646,1169 Q650,1173 644,1176 L610,1165 Q605,1161 612,1158 Z" fill="none" stroke="#000" stroke-width="2.98" />
<path d="M652.0,1169.0 L692.0,1132.0" fill="none" stroke="#000" stroke-width="2.70" />
<path d="M643.0,1189.0 L703.0,1135.5" fill="none" stroke="#000" stroke-width="2.70" />
<path d="M703.0,1135.0 L812.0,1040.0" fill="none" stroke="#000" stroke-width="2.70" stroke-dasharray="10 9"/>
<path d="M656.0,1204.0 L769.0,1095.0" fill="none" stroke="#000" stroke-width="2.70" stroke-dasharray="22 8"/>
<path d="M769.0,1095.0 L812.0,1058.0" fill="none" stroke="#000" stroke-width="2.70" stroke-dasharray="8 8"/>
<path d="M636,1188 Q644,1196 641,1206 Q644,1214 653,1218 L822,1284 L989,1313" fill="none" stroke="#000" stroke-width="2.70" />
<path d="M643,1189 Q646,1204 656,1209 L760,1252" fill="none" stroke="#000" stroke-width="2.70" />
<path d="M716,1231 L724,1213 L713,1189 L800,1102 Q806,1094 816,1095 L1000,1146 Q1014,1148 1019,1133" fill="none" stroke="#000" stroke-width="3.41" />
<path d="M714.0,1188.0 L760.0,1141.0 L800.0,1102.0" fill="none" stroke="#000" stroke-width="4.69" />
<path d="M830,1099 L986,1150 Q1004,1154 1010,1146" fill="none" stroke="#000" stroke-width="2.70" />
<path d="M716.0,1190.0 L802.0,1105.0" fill="none" stroke="#000" stroke-width="2.27" stroke-dasharray="5 2"/>
<path d="M716.0,1235.0 L990.0,1318.0" fill="none" stroke="#000" stroke-width="2.70" stroke-dasharray="60 5 20 5"/>
<ellipse cx="691.0" cy="1209.0" rx="17.5" ry="10.5" fill="none" stroke="#000" stroke-width="3.98"/>
<ellipse cx="691.0" cy="1211.0" rx="12.0" ry="6.0" fill="none" stroke="#000" stroke-width="3.12"/>
<ellipse cx="735.0" cy="1188.0" rx="3" ry="2.4" fill="#000"/>
<ellipse cx="745.0" cy="1221.0" rx="4" ry="2.6" fill="#000"/>
<ellipse cx="880.0" cy="1143.0" rx="4" ry="2.6" fill="#000"/>
<ellipse cx="973.0" cy="1167.0" rx="4" ry="2.6" fill="#000"/>
<ellipse cx="938.0" cy="1290.0" rx="4" ry="2.6" fill="#000"/>
<ellipse cx="881.0" cy="1209.0" rx="94.0" ry="54.0" fill="#fff" stroke="#000" stroke-width="3.69"/>
<path d="M789,1215 A90,50 0 0 1 972,1212" fill="none" stroke="#000" stroke-width="2.41" />
<path d="M796,1222 A86,48 0 0 1 966,1218" fill="none" stroke="#000" stroke-width="2.84" />
<path d="M876.0,1170.0 L876.0,1262.0" fill="none" stroke="#000" stroke-width="3.98" />
<path d="M1104,1157 L1109,1149 L1216,1173 L1227,1168 L1264,1177 L1253,1195 L1251,1216 L1208,1213 L1205,1216 L1189,1261 Q1180,1270 1170,1268 L1160,1261 L1149,1192 L1120,1187" fill="#fff" stroke="#000" stroke-width="3.41" />
<path d="M1107.0,1160.0 L1253.0,1195.0" fill="none" stroke="#000" stroke-width="4.26" />
<path d="M1110.0,1166.0 L1250.0,1200.0" fill="none" stroke="#000" stroke-width="2.27" stroke-dasharray="12 5"/>
<ellipse cx="1241.0" cy="1180.0" rx="4.5" ry="3" fill="#000"/>
<ellipse cx="1161.0" cy="1222.0" rx="3" ry="2.4" fill="#000"/>
<ellipse cx="1169.0" cy="1258.0" rx="3" ry="2.4" fill="#000"/>
<path d="M1120,1187 L1133,1250 L1128,1267 L1118,1262 L1108,1245" fill="none" stroke="#000" stroke-width="3.41" />
<ellipse cx="1125.0" cy="1258.0" rx="2.6" ry="2.2" fill="#000"/>
<path d="M1117.0,1195.0 L1011.0,1312.0" fill="none" stroke="#000" stroke-width="3.41" />
<path d="M1106.0,1192.0 L1003.0,1308.0" fill="none" stroke="#000" stroke-width="3.41" />
<path d="M1128.0,1223.0 L1037.0,1319.0" fill="none" stroke="#000" stroke-width="3.41" />
<path d="M899,1309 L896,1344 L992,1405 L999,1400 L987,1339" fill="#fff" stroke="#000" stroke-width="3.41" />
<path d="M899.0,1309.0 L994.0,1316.0" fill="none" stroke="#000" stroke-width="4.26" />
<ellipse cx="915.0" cy="1321.0" rx="3.5" ry="3" fill="#000"/>
<ellipse cx="951.0" cy="1328.0" rx="3.5" ry="3" fill="#000"/>
<path d="M987,1339 L1012,1341 L1027,1400 L1048,1405 L1080,1357" fill="none" stroke="#000" stroke-width="3.41" />
<ellipse cx="983.0" cy="1361.0" rx="2.6" ry="2" fill="#000"/>
<ellipse cx="1028.0" cy="1361.0" rx="2.6" ry="2" fill="#000"/>
<ellipse cx="987.0" cy="1395.0" rx="2.6" ry="2" fill="#000"/>
<ellipse cx="1031.0" cy="1398.0" rx="2.6" ry="2" fill="#000"/>
<path d="M992,1317 L1133,1352 L1137,1368 L1115,1371 L987,1326 Z" fill="#fff" stroke="#000" stroke-width="3.41" />
<path d="M990.0,1322.0 L1118.0,1366.0" fill="none" stroke="#000" stroke-width="4.26" />
<ellipse cx="1110.0" cy="1353.0" rx="6.0" ry="3.0" fill="none" stroke="#000" stroke-width="3.69"/>
<path d="M299.0,386.0 L300.0,512.0 L407.0,575.0 L407.0,452.0" fill="none" stroke="#000" stroke-width="3.41" />
<path d="M299.0,386.0 L464.0,298.0" fill="none" stroke="#000" stroke-width="3.41" />
<path d="M464.0,294.0 L464.0,420.0" fill="none" stroke="#000" stroke-width="3.41" />
<path d="M302.0,510.0 L404.0,452.0" fill="none" stroke="#000" stroke-width="2.27" />
<path d="M300.0,506.0 L402.0,449.0" fill="none" stroke="#000" stroke-width="2.27" />
<path d="M571.0,373.0 L571.0,484.0 L407.0,575.0" fill="none" stroke="#000" stroke-width="3.41" />
<ellipse cx="383.0" cy="527.0" rx="7.0" ry="4.5" fill="none" stroke="#000" stroke-width="3.12"/>
<path d="M294,380 L352,347 Q362,344 361,351 L303,385 Q294,388 294,380 Z" fill="#fff" stroke="#000" stroke-width="3.41" />
<path d="M300.0,386.0 L360.0,352.0" fill="none" stroke="#000" stroke-width="4.12" />
<path d="M395,322 L450,291 Q462,288 463,296 L404,329 Q394,330 395,322 Z" fill="#fff" stroke="#000" stroke-width="3.41" />
<path d="M402.0,329.0 L462.0,297.0" fill="none" stroke="#000" stroke-width="4.12" />
<path d="M409,449 L468,419 Q478,418 477,424 L426,455 L414,455 Z" fill="#fff" stroke="#000" stroke-width="3.41" />
<path d="M510,396 L562,362 Q575,358 575,368 L524,398 L513,398 Z" fill="#fff" stroke="#000" stroke-width="3.41" />
<path d="M477.0,416.0 L510.0,397.0" fill="none" stroke="#000" stroke-width="2.84" />
<path d="M621.0,385.0 L586.5,401.5" stroke="#000" stroke-width="2.70" fill="none"/>
<path d="M573.0,408.0 L584.4,397.0 L588.7,406.0 Z" fill="#000" stroke="#000" stroke-width="1"/>
<text transform="translate(631.0 396.0) scale(0.96 1)" font-family="Liberation Sans, sans-serif" font-size="42" font-weight="bold" text-anchor="start" >2</text>
<path d="M1531,394 Q1527,388 1519,393 L1281,522 Q1270,528 1274,540 L1318,640 Q1322,650 1332,653 L1344,658 Q1350,660 1356,656 L1593,523" fill="none" stroke="#000" stroke-width="3.41" />
<path d="M1322.0,641.0 L1578.0,504.0" fill="none" stroke="#000" stroke-width="4.54" />
<ellipse cx="1589.0" cy="515.0" rx="6.0" ry="4.0" fill="none" stroke="#000" stroke-width="3.12"/>
<ellipse cx="1345.0" cy="650.0" rx="5.0" ry="3.5" fill="none" stroke="#000" stroke-width="3.12"/>
<path d="M1442,473 L1528,432 Q1542,426 1550,437 L1580,505" fill="none" stroke="#000" stroke-width="3.41" />
<path d="M1553.0,440.0 L1581.0,506.0" fill="none" stroke="#000" stroke-width="4.12" />
<path d="M1542.0,420.0 L1614.0,563.0" fill="none" stroke="#000" stroke-width="2.84" />
<path d="M1524.0,597.0 L1511.2,583.0" stroke="#000" stroke-width="2.70" fill="none"/>
<path d="M1501.0,572.0 L1514.8,579.7 L1507.5,586.4 Z" fill="#000" stroke="#000" stroke-width="1"/>
<text transform="translate(1529.0 629.0) scale(0.96 1)" font-family="Liberation Sans, sans-serif" font-size="42" font-weight="bold" text-anchor="start" >3</text>
<text transform="translate(520.0 653.0) scale(0.96 1)" font-family="Liberation Sans, sans-serif" font-size="42" font-weight="bold" text-anchor="start" >14</text>
<path d="M543.0,660.0 L543.0,690.0" stroke="#000" stroke-width="2.70" fill="none"/>
<path d="M543.0,710.0 L537.0,690.0 L549.0,690.0 Z" fill="#000" stroke="#000" stroke-width="1"/>
<circle cx="550.5" cy="728.5" r="7.2" fill="#000"/><circle cx="550" cy="729" r="2.2" fill="#fff"/><circle cx="550.3" cy="729" r="0.9" fill="#000"/>
<path d="M557.0,725.0 L582.0,713.0" fill="none" stroke="#000" stroke-width="3.69" />
<path d="M696,668 L820,740 Q824,748 818,754 Q813,757 808,753 L689,682 Q684,674 690,669 Q693,666 696,668 Z" fill="#fff" stroke="#000" stroke-width="3.69" />
<path d="M720.8,682.4 L711.8,696.2" fill="none" stroke="#000" stroke-width="3.12" />
<path d="M740.6,693.9 L730.8,707.6" fill="none" stroke="#000" stroke-width="3.12" />
<path d="M760.5,705.4 L749.9,718.9" fill="none" stroke="#000" stroke-width="3.12" />
<path d="M780.3,717.0 L768.9,730.3" fill="none" stroke="#000" stroke-width="3.12" />
<path d="M798.9,727.8 L786.8,740.9" fill="none" stroke="#000" stroke-width="3.12" />
<ellipse cx="816.0" cy="747.5" rx="5.0" ry="5.5" fill="none" stroke="#000" stroke-width="4.26"/>
<text transform="translate(781.0 650.0) scale(0.96 1)" font-family="Liberation Sans, sans-serif" font-size="42" font-weight="bold" text-anchor="start" >7</text>
<path d="M779.0,656.0 L754.4,678.0" stroke="#000" stroke-width="2.70" fill="none"/>
<path d="M741.0,690.0 L750.7,673.9 L758.1,682.1 Z" fill="#000" stroke="#000" stroke-width="1"/>
<ellipse cx="720.0" cy="809.0" rx="29.5" ry="18.0" fill="none" stroke="#000" stroke-width="2.70"/>
<path d="M690.0,809.0 L690.0,857.0" fill="none" stroke="#000" stroke-width="2.70" />
<path d="M749.5,809.0 L749.5,857.0" fill="none" stroke="#000" stroke-width="2.70" />
<ellipse cx="720.0" cy="857.0" rx="29.5" ry="18.0" fill="none" stroke="#000" stroke-width="2.70"/>
<text transform="translate(597.0 877.0) scale(0.96 1)" font-family="Liberation Sans, sans-serif" font-size="42" font-weight="bold" text-anchor="start" >10</text>
<path d="M648.0,852.0 L675.0,826.4" stroke="#000" stroke-width="2.70" fill="none"/>
<path d="M688.0,814.0 L678.4,830.0 L671.5,822.8 Z" fill="#000" stroke="#000" stroke-width="1"/>
<text transform="translate(637.0 921.0) scale(0.96 1)" font-family="Liberation Sans, sans-serif" font-size="42" font-weight="bold" text-anchor="start" >10A</text>
<path d="M1024.0,675.0 L1062.0,654.0" fill="none" stroke="#000" stroke-width="6.39" stroke-linecap="round"/>
<path d="M1040,668 L1056,686 L1068,692 L1074,686 L1066,672 L1052,662" fill="none" stroke="#000" stroke-width="3.41" />
<ellipse cx="1065.5" cy="682.5" rx="7.5" ry="8.5" fill="#000" stroke="#000" stroke-width="2.84"/>
<ellipse cx="1063.0" cy="690.0" rx="1.6" ry="1.3" fill="#000"/>
<ellipse cx="1064" cy="683" rx="1.8" ry="2.2" fill="#fff"/><ellipse cx="1060" cy="688" rx="1.6" ry="1.2" fill="#fff"/>
<path d="M1046.0,672.0 L1060.0,690.0" fill="none" stroke="#000" stroke-width="2.84" />
<path d="M1072.0,684.0 L1192.0,753.0" fill="none" stroke="#000" stroke-width="3.12" />
<path d="M1068.0,690.0 L1188.0,759.0" fill="none" stroke="#000" stroke-width="3.12" />
<path d="M1104,702 L1124,714 L1120,722 L1100,710 Z" fill="#fff" stroke="#000" stroke-width="3.41" />
<path d="M1190.0,755.0 L1288.0,816.0" fill="none" stroke="#000" stroke-width="5.82" />
<path d="M1160.0,738.0 L1192.0,756.0" fill="none" stroke="#000" stroke-width="3.98" />
<path d="M1286,815 L1304,826 Q1312,831 1316,840" fill="none" stroke="#000" stroke-width="3.98" />
<text transform="translate(960.0 768.0) scale(1.06 1)" font-family="Liberation Sans, sans-serif" font-size="33" font-weight="bold" text-anchor="start" >25''</text>
<text transform="translate(1035.0 770.0) scale(0.96 1)" font-family="Liberation Sans, sans-serif" font-size="40" font-weight="bold" text-anchor="start" >8</text>
<path d="M1069.0,761.0 L1095.8,733.5" stroke="#000" stroke-width="2.70" fill="none"/>
<path d="M1107.0,722.0 L1099.4,736.9 L1092.3,730.0 Z" fill="#000" stroke="#000" stroke-width="1"/>
<text transform="translate(993.0 855.0) scale(1.06 1)" font-family="Liberation Sans, sans-serif" font-size="33" font-weight="bold" text-anchor="start" >23''</text>
<text transform="translate(1073.0 857.0) scale(0.96 1)" font-family="Liberation Sans, sans-serif" font-size="41" font-weight="bold" text-anchor="start" >8A</text>
<path d="M1101.0,813.0 L1134.8,756.5" stroke="#000" stroke-width="2.70" fill="none"/>
<path d="M1144.0,741.0 L1139.1,759.0 L1130.5,753.9 Z" fill="#000" stroke="#000" stroke-width="1"/>
<path d="M1295.0,712.0 L1326.0,721.0" fill="none" stroke="#000" stroke-width="10.51" stroke-linecap="round"/>
<ellipse cx="1299.0" cy="712.0" rx="2.2" ry="1.6" fill="#fff" stroke="#000" stroke-width="0.00"/>
<ellipse cx="1310.0" cy="716.0" rx="2.2" ry="1.6" fill="#fff" stroke="#000" stroke-width="0.00"/>
<ellipse cx="1322.0" cy="720.0" rx="2.0" ry="1.2" fill="#fff" stroke="#000" stroke-width="0.00"/>
<path d="M1330.0,718.0 L1356.0,734.0" fill="none" stroke="#000" stroke-width="3.69" />
<path d="M1325.0,725.0 L1350.0,740.0" fill="none" stroke="#000" stroke-width="3.69" />
<path d="M1349.5,742 L1349.5,778 Q1351,786 1358,787 L1380,787 L1396,777 L1400,754 L1400,741 L1375,727 L1355,735 Z" fill="#fff" stroke="#000" stroke-width="3.98" />
<path d="M1351,752 Q1368,758 1383,752 L1398,744" fill="none" stroke="#000" stroke-width="4.54" />
<path d="M1353,742 L1358,752" fill="none" stroke="#000" stroke-width="3.41" />
<path d="M1383.0,754.0 L1383.0,786.0" fill="none" stroke="#000" stroke-width="3.69" />
<path d="M1383.0,770.0 L1396.0,777.0" fill="none" stroke="#000" stroke-width="3.41" />
<path d="M1387,757 L1399,752 L1415,769 L1409,779 L1391,768 Z" fill="#fff" stroke="#000" stroke-width="3.69" />
<path d="M1398.0,761.0 L1392.0,768.0" fill="none" stroke="#000" stroke-width="3.41" />
<path d="M1402.0,756.0 L1575.0,858.0" fill="none" stroke="#000" stroke-width="3.98" />
<path d="M1411.0,772.0 L1567.0,864.0" fill="none" stroke="#000" stroke-width="3.98" />
<path d="M1568.0,860.0 L1590.0,877.0" fill="none" stroke="#000" stroke-width="7.38" />
<path d="M1588.0,876.0 L1602.0,886.0" fill="none" stroke="#000" stroke-width="9.94" stroke-linecap="round"/>
<ellipse cx="1597.0" cy="883.0" rx="3.5" ry="2.2" fill="#fff" stroke="#000" stroke-width="0.00" transform="rotate(35 1597 883)"/>
<path d="M1572.0,852.0 L1580.0,862.0" fill="none" stroke="#000" stroke-width="3.98" />
<text transform="translate(1525.0 805.0) scale(0.96 1)" font-family="Liberation Sans, sans-serif" font-size="42" font-weight="bold" text-anchor="start" >18</text>
<path d="M1544.0,812.0 L1536.0,835.0" fill="none" stroke="#000" stroke-width="3.69" />
<path d="M1323.0,846.0 L1323.0,878.0" fill="none" stroke="#000" stroke-width="3.12" />
<path d="M1312,877.5 L1336,877.5 Q1341,879 1349,891 Q1351,896 1347,902 L1331,919 Q1326,922 1321,919 L1300,901 Q1296,896 1299,891 Q1306,880 1312,877.5 Z" fill="#fff" stroke="#000" stroke-width="3.55" />
<path d="M1313,882 L1335,882 Q1343,890 1344,896 L1330,913 L1322,913 L1304,898 Q1303,892 1313,882 Z" fill="none" stroke="#000" stroke-width="2.27" />
<ellipse cx="1325.0" cy="897.5" rx="17.0" ry="10.0" fill="none" stroke="#000" stroke-width="3.12"/>
<ellipse cx="1322.5" cy="881.0" rx="5" ry="4" fill="#000"/>
<ellipse cx="1326.0" cy="916.0" rx="4.5" ry="4" fill="#000"/>
<path d="M1312,925 L1332,925 Q1338,927 1351,943 Q1353,948 1350,953 L1340,968 Q1332,973 1322,973 Q1314,972 1308,966 L1298,951 Q1296,946 1299,942 Q1306,929 1312,925 Z" fill="#fff" stroke="#000" stroke-width="3.69" />
<ellipse cx="1324.8" cy="947.0" rx="17.0" ry="9.5" fill="none" stroke="#000" stroke-width="4.54"/>
<ellipse cx="1322.0" cy="931.0" rx="6" ry="4.5" fill="#000"/>
<ellipse cx="1327.0" cy="963.0" rx="5" ry="4" fill="#000"/>
<path d="M1328.0,894.0 L1328.0,1032.0" fill="none" stroke="#000" stroke-width="3.27" />
<path d="M1310,967 L1278,1000 L1276,1011" fill="none" stroke="#000" stroke-width="3.27" />
<ellipse cx="1278.7" cy="1018" rx="9.5" ry="6.6" fill="#000"/>
<ellipse cx="1326.6" cy="1034.5" rx="10.5" ry="6.4" fill="#000"/>
<path d="M1274.5,1029.5 L1281.5,1029.5 L1282.0,1035 L1284.0,1037 L1284.0,1053 Q1278,1061 1272.0,1053 L1272.0,1037 L1274.0,1035 Z" fill="#fff" stroke="#000" stroke-width="2.84" />
<path d="M1272.0,1048 Q1278,1052 1284.0,1048" fill="none" stroke="#000" stroke-width="2.41" />
<path d="M1322.6,1045.5 L1330.6,1045.5 L1331.1,1051 L1333.1,1053 L1333.1,1064 Q1326.6,1072 1320.1,1064 L1320.1,1053 L1322.1,1051 Z" fill="#fff" stroke="#000" stroke-width="2.84" />
<path d="M1320.1,1059 Q1326.6,1063 1333.1,1059" fill="none" stroke="#000" stroke-width="2.41" />
<path d="M1344,964 Q1360,980 1382,982 Q1398,990 1404,1003 Q1414,1016 1410,1044 Q1398,1064 1395,1087 L1393,1128" fill="none" stroke="#000" stroke-width="3.69" />
<path d="M1311,972 Q1322,992 1340,999 Q1356,1006 1366,1012 Q1378,1024 1377,1040 Q1366,1062 1362,1087 L1361,1128" fill="none" stroke="#000" stroke-width="3.69" />
<path d="M1361,1128 Q1376,1140 1393,1128" fill="none" stroke="#000" stroke-width="3.69" />
<path d="M1364,984 Q1358,998 1361,1011" fill="none" stroke="#000" stroke-width="3.41" />
<path d="M1379,1033 Q1394,1030 1411,1040" fill="none" stroke="#000" stroke-width="3.41" />
<path d="M1376,1041 Q1392,1038 1409,1048" fill="none" stroke="#000" stroke-width="3.41" />
<path d="M1362,1105 Q1377,1112 1394,1106" fill="none" stroke="#000" stroke-width="3.41" />
<text transform="translate(1381.0 957.0) scale(0.96 1)" font-family="Liberation Sans, sans-serif" font-size="42" font-weight="bold" text-anchor="start" >13</text>
<path d="M1379.0,927.0 L1362.9,910.9" stroke="#000" stroke-width="2.70" fill="none"/>
<path d="M1353.0,901.0 L1366.4,907.4 L1359.4,914.4 Z" fill="#000" stroke="#000" stroke-width="1"/>
<text transform="translate(1187.0 974.0) scale(0.96 1)" font-family="Liberation Sans, sans-serif" font-size="42" font-weight="bold" text-anchor="start" >12</text>
<path d="M1234.0,978.0 L1256.1,998.7" stroke="#000" stroke-width="2.70" fill="none"/>
<path d="M1267.0,1009.0 L1252.6,1002.4 L1259.5,995.1 Z" fill="#000" stroke="#000" stroke-width="1"/>
<text transform="translate(1184.0 1112.0) scale(0.96 1)" font-family="Liberation Sans, sans-serif" font-size="42" font-weight="bold" text-anchor="start" >15</text>
<path d="M1235.0,1079.0 L1255.4,1058.6" stroke="#000" stroke-width="2.70" fill="none"/>
<path d="M1266.0,1048.0 L1258.9,1062.1 L1251.9,1055.1 Z" fill="#000" stroke="#000" stroke-width="1"/>
<text transform="translate(1508.0 976.0) scale(1 1)" font-family="Liberation Sans, sans-serif" font-size="42" font-weight="bold" text-anchor="start" textLength="239" lengthAdjust="spacingAndGlyphs">4 Tecumseh</text>
<path d="M1493.0,970.0 L1404.0,1003.0" fill="none" stroke="#000" stroke-width="4.26" />
<path d="M1493.0,1023.0 L1404.0,1009.0" fill="none" stroke="#000" stroke-width="3.41" />
<text transform="translate(1502.0 1038.0) scale(0.96 1)" font-family="Liberation Sans, sans-serif" font-size="42" font-weight="bold" text-anchor="start" >4A</text>
<text transform="translate(1581.0 1037.0) scale(0.96 1)" font-family="Liberation Sans, sans-serif" font-size="42" font-weight="bold" text-anchor="start" >B&amp;S</text>
<path d="M1317,1196 L1480,1104 Q1487,1100 1494,1104 L1553,1139 L1553,1234 L1390,1322 Q1380,1328 1370,1322 L1319,1294 Q1315.5,1292 1315.5,1288 Z" fill="#fff" stroke="#000" stroke-width="3.69" />
<path d="M1317,1196 Q1318,1202 1323,1204 L1368,1229 Q1380,1232 1390,1229 L1553,1140" fill="none" stroke="#000" stroke-width="3.41" />
<path d="M1319,1211 L1368,1237 L1392,1237 L1552,1149" fill="none" stroke="#000" stroke-width="2.56" />
<path d="M1370.0,1233.0 L1370.0,1322.0" fill="none" stroke="#000" stroke-width="3.41" />
<path d="M1390.0,1233.0 L1390.0,1322.0" fill="none" stroke="#000" stroke-width="3.41" />
<path d="M1325.0,1200.0 L1486.0,1108.0" fill="none" stroke="#000" stroke-width="2.13" />
<path d="M1315.5,1253 L1370,1282 Q1380,1285 1390,1279 L1555,1189 L1556,1174" fill="none" stroke="#000" stroke-width="6.82" />
<ellipse cx="1377.0" cy="1199.0" rx="17.0" ry="12.0" fill="none" stroke="#000" stroke-width="3.69"/>
<path d="M1514,1108 L1521,1104 L1536,1114 L1536,1124" fill="none" stroke="#000" stroke-width="3.12" />
<path d="M1530.0,1114.0 L1589.0,1087.0" fill="none" stroke="#000" stroke-width="3.41" />
<path d="M1589,1084 L1597,1076 L1607,1077 L1610,1084 L1604,1092 L1594,1092 Z" fill="#fff" stroke="#000" stroke-width="3.41" />
<path d="M1589.0,1084.0 L1598.0,1084.0 L1604.0,1092.0" fill="none" stroke="#000" stroke-width="2.56" />
<path d="M1598.0,1084.0 L1607.0,1077.0" fill="none" stroke="#000" stroke-width="2.56" />
<text transform="translate(1643.0 1135.0) scale(0.96 1)" font-family="Liberation Sans, sans-serif" font-size="42" font-weight="bold" text-anchor="start" >16</text>
<path d="M1640.0,1108.0 L1623.5,1090.3" stroke="#000" stroke-width="2.70" fill="none"/>
<path d="M1614.0,1080.0 L1627.2,1086.9 L1619.9,1093.7 Z" fill="#000" stroke="#000" stroke-width="1"/>
<path d="M1302,1226 L1315,1232 L1315,1250 L1302,1246 Z" fill="#fff" stroke="#000" stroke-width="3.41" />
<ellipse cx="1313.0" cy="1241.0" rx="2.2" ry="2.6" fill="#000"/>
<path d="M1324.5,1237 L1324.5,1253 M1339,1230 L1339,1249 L1331,1253 M1324.5,1238 L1339,1230 L1343,1231 L1368,1244 M1343,1232 L1343,1246 L1368,1259 M1334,1253 L1368,1270" fill="none" stroke="#000" stroke-width="2.84" />
<path d="M1304.0,1248.0 L1268.0,1264.0" fill="none" stroke="#000" stroke-width="3.41" />
<path d="M1390,1322 L1419,1310 M1415,1311 L1424,1319 L1429,1318 L1456,1303 M1427,1306 L1459,1289 L1460,1300 M1427,1306 L1427,1316" fill="none" stroke="#000" stroke-width="3.12" />
<path d="M1249,1270 L1254,1264 L1264,1264 L1268,1270 L1264,1279 L1254,1279 Z" fill="#fff" stroke="#000" stroke-width="3.41" />
<path d="M1254.0,1264.0 L1258.0,1271.0 L1254.0,1279.0" fill="none" stroke="#000" stroke-width="2.56" />
<path d="M1258.0,1271.0 L1268.0,1270.0" fill="none" stroke="#000" stroke-width="2.56" />
<text transform="translate(1195.0 1377.0) scale(0.96 1)" font-family="Liberation Sans, sans-serif" font-size="42" font-weight="bold" text-anchor="start" >16</text>
<path d="M1223.0,1336.0 L1242.2,1301.9" stroke="#000" stroke-width="2.70" fill="none"/>
<path d="M1250.0,1288.0 L1246.5,1304.4 L1237.8,1299.5 Z" fill="#000" stroke="#000" stroke-width="1"/>
<text transform="translate(1288.0 1402.0) scale(0.96 1)" font-family="Liberation Sans, sans-serif" font-size="42" font-weight="bold" text-anchor="start" >6</text>
<path d="M1307.0,1363.0 L1329.0,1324.9" stroke="#000" stroke-width="2.70" fill="none"/>
<path d="M1337.0,1311.0 L1333.3,1327.4 L1324.7,1322.4 Z" fill="#000" stroke="#000" stroke-width="1"/>
<path d="M1464,1314 L1706,1176 Q1716,1171 1726,1174 Q1740,1180 1737,1188 L1730,1196 L1716,1204 L1512,1322 L1504,1326 L1488,1331 Q1480,1332 1472,1326 Q1462,1320 1464,1314 Z" fill="#fff" stroke="#000" stroke-width="3.69" />
<path d="M1668,1193 L1668,1183 L1676,1181 L1682,1186" fill="none" stroke="#000" stroke-width="3.12" />
<ellipse cx="1486.0" cy="1322.0" rx="5.0" ry="3.0" fill="none" stroke="#000" stroke-width="3.12"/>
<ellipse cx="1725.0" cy="1187.0" rx="4.5" ry="2.6" fill="none" stroke="#000" stroke-width="3.12"/>
<path d="M1512,1322 L1721,1207 L1722,1212 L1711,1328 L1608,1384 L1505,1437 Z" fill="#fff" stroke="#000" stroke-width="3.41" />
<path d="M1513.0,1323.0 L1720.0,1209.0" fill="none" stroke="#000" stroke-width="3.69" stroke-dasharray="7 1.5"/>
<path d="M1711,1328 L1710,1338 L1498,1447 L1487,1458" fill="none" stroke="#000" stroke-width="3.41" />
<path d="M1608.0,1384.0 L1608.0,1390.0" fill="none" stroke="#000" stroke-width="2.84" />
<path d="M1506,1322 L1512,1328 L1502,1436 L1494,1436 Z" fill="#fff" stroke="#000" stroke-width="3.12" />
<ellipse cx="1510.0" cy="1323.0" rx="5.0" ry="4.0" fill="#fff" stroke="#000" stroke-width="3.12"/>
<path d="M1493,1436 L1493,1446 L1500,1450 L1504,1444 L1504,1436 Z" fill="#fff" stroke="#000" stroke-width="3.12" />
<path d="M1562,1393 L1606,1370 L1607,1386 L1561,1411 Z" fill="#fff" stroke="#000" stroke-width="3.12" />
<path d="M1455,1303 L1453,1342 L1407,1348 L1416,1418 Q1420,1434 1436,1442 L1486,1458 L1496,1450" fill="none" stroke="#000" stroke-width="3.41" />
<path d="M1412,1353 L1418,1351 L1422,1357 L1417,1360 Z" fill="none" stroke="#000" stroke-width="2.84" />
<path d="M1519.0,1342.0 L1560.0,1322.0" fill="none" stroke="#000" stroke-width="4.40" />
<path d="M1517.8,1353.3 L1558.8,1333.3" fill="none" stroke="#000" stroke-width="4.40" />
<path d="M1516.5,1364.6 L1557.5,1344.6" fill="none" stroke="#000" stroke-width="4.40" />
<path d="M1515.2,1375.9 L1556.2,1355.9" fill="none" stroke="#000" stroke-width="4.40" />
<path d="M1514.0,1387.2 L1555.0,1367.2" fill="none" stroke="#000" stroke-width="4.40" />
<path d="M1512.8,1398.5 L1553.8,1378.5" fill="none" stroke="#000" stroke-width="4.40" />
<path d="M1511.5,1409.8 L1552.5,1389.8" fill="none" stroke="#000" stroke-width="4.40" />
<path d="M1510.2,1421.1 L1551.2,1401.1" fill="none" stroke="#000" stroke-width="4.40" />
<path d="M1571.0,1313.0 L1612.0,1293.0" fill="none" stroke="#000" stroke-width="4.40" />
<path d="M1569.7,1324.3 L1610.7,1304.3" fill="none" stroke="#000" stroke-width="4.40" />
<path d="M1568.4,1335.6 L1609.4,1315.6" fill="none" stroke="#000" stroke-width="4.40" />
<path d="M1567.1,1346.9 L1608.1,1326.9" fill="none" stroke="#000" stroke-width="4.40" />
<path d="M1565.8,1358.2 L1606.8,1338.2" fill="none" stroke="#000" stroke-width="4.40" />
<path d="M1564.5,1369.5 L1605.5,1349.5" fill="none" stroke="#000" stroke-width="4.40" />
<path d="M1563.2,1380.8 L1604.2,1360.8" fill="none" stroke="#000" stroke-width="4.40" />
<path d="M1623.0,1286.0 L1662.0,1265.0" fill="none" stroke="#000" stroke-width="4.40" />
<path d="M1621.7,1297.2 L1660.7,1276.2" fill="none" stroke="#000" stroke-width="4.40" />
<path d="M1620.4,1308.4 L1659.4,1287.4" fill="none" stroke="#000" stroke-width="4.40" />
<path d="M1619.1,1319.6 L1658.1,1298.6" fill="none" stroke="#000" stroke-width="4.40" />
<path d="M1617.8,1330.8 L1656.8,1309.8" fill="none" stroke="#000" stroke-width="4.40" />
<path d="M1616.5,1342.0 L1655.5,1321.0" fill="none" stroke="#000" stroke-width="4.40" />
<path d="M1615.2,1353.2 L1654.2,1332.2" fill="none" stroke="#000" stroke-width="4.40" />
<path d="M1673.0,1255.0 L1715.0,1233.0" fill="none" stroke="#000" stroke-width="4.40" />
<path d="M1671.8,1266.4 L1713.8,1244.4" fill="none" stroke="#000" stroke-width="4.40" />
<path d="M1670.5,1277.8 L1712.5,1255.8" fill="none" stroke="#000" stroke-width="4.40" />
<path d="M1669.2,1289.2 L1711.2,1267.2" fill="none" stroke="#000" stroke-width="4.40" />
<path d="M1668.0,1300.6 L1710.0,1278.6" fill="none" stroke="#000" stroke-width="4.40" />
<path d="M1666.8,1312.0 L1708.8,1290.0" fill="none" stroke="#000" stroke-width="4.40" />
<path d="M1665.5,1323.4 L1707.5,1301.4" fill="none" stroke="#000" stroke-width="4.40" />
<path d="M1664.2,1334.8 L1706.2,1312.8" fill="none" stroke="#000" stroke-width="4.40" />
<text transform="translate(1391.0 1531.0) scale(0.96 1)" font-family="Liberation Sans, sans-serif" font-size="42" font-weight="bold" text-anchor="start" >5</text>
<path d="M1405.0,1492.0 L1426.5,1457.6" stroke="#000" stroke-width="2.70" fill="none"/>
<path d="M1435.0,1444.0 L1430.8,1460.2 L1422.3,1454.9 Z" fill="#000" stroke="#000" stroke-width="1"/>
<path d="M750.0,1338.0 L750.0,1430.0" fill="none" stroke="#000" stroke-width="3.69" />
<path d="M871.5,1348.0 L871.5,1434.0" fill="none" stroke="#000" stroke-width="3.69" />
<path d="M933.5,1366.0 L933.5,1612.0" fill="none" stroke="#000" stroke-width="3.69" />
<path d="M971.0,1392.0 L971.0,1486.0" fill="none" stroke="#000" stroke-width="3.69" />
<ellipse cx="751.5" cy="1438.5" rx="13.5" ry="8.5" fill="#fff" stroke="#000" stroke-width="3.69"/>
<ellipse cx="751.5" cy="1439.0" rx="8" ry="5.2" fill="#000"/>
<ellipse cx="871.5" cy="1441.5" rx="13.5" ry="8.5" fill="#fff" stroke="#000" stroke-width="3.69"/>
<ellipse cx="871.5" cy="1442.0" rx="8" ry="5.2" fill="#000"/>
<ellipse cx="971.0" cy="1493.5" rx="13.5" ry="8.5" fill="#fff" stroke="#000" stroke-width="3.69"/>
<ellipse cx="971" cy="1494.0" rx="8" ry="5.2" fill="#000"/>
<ellipse cx="751.5" cy="1506" rx="10.5" ry="7.5" fill="#000"/>
<path d="M745.7,1469 Q751.5,1462 757.3,1469 L757.3,1504 L745.7,1504 Z" fill="#fff" stroke="#000" stroke-width="3.55" />
<ellipse cx="746.5" cy="1509" rx="2" ry="1.3" fill="#fff"/>
<ellipse cx="871.5" cy="1506" rx="10.5" ry="7.5" fill="#000"/>
<path d="M865.7,1473 Q871.5,1466 877.3,1473 L877.3,1504 L865.7,1504 Z" fill="#fff" stroke="#000" stroke-width="3.55" />
<ellipse cx="866.5" cy="1509" rx="2" ry="1.3" fill="#fff"/>
<ellipse cx="972" cy="1556" rx="10.5" ry="7.5" fill="#000"/>
<path d="M966.2,1524 Q972,1517 977.8,1524 L977.8,1554 L966.2,1554 Z" fill="#fff" stroke="#000" stroke-width="3.55" />
<ellipse cx="967" cy="1559" rx="2" ry="1.3" fill="#fff"/>
<ellipse cx="933.5" cy="1650" rx="10.5" ry="7.5" fill="#000"/>
<path d="M927.7,1618 Q933.5,1611 939.3,1618 L939.3,1648 L927.7,1648 Z" fill="#fff" stroke="#000" stroke-width="3.55" />
<ellipse cx="928.5" cy="1653" rx="2" ry="1.3" fill="#fff"/>
<text transform="translate(636.0 1491.0) scale(0.96 1)" font-family="Liberation Sans, sans-serif" font-size="42" font-weight="bold" text-anchor="start" >11</text>
<path d="M685.0,1468.0 L720.6,1449.8" stroke="#000" stroke-width="2.70" fill="none"/>
<path d="M734.0,1443.0 L722.9,1454.3 L718.4,1445.4 Z" fill="#000" stroke="#000" stroke-width="1"/>
<text transform="translate(1040.0 1545.0) scale(0.96 1)" font-family="Liberation Sans, sans-serif" font-size="42" font-weight="bold" text-anchor="start" >11</text>
<path d="M1033.0,1520.0 L997.3,1501.0" stroke="#000" stroke-width="2.70" fill="none"/>
<path d="M984.0,1494.0 L999.6,1496.6 L994.9,1505.4 Z" fill="#000" stroke="#000" stroke-width="1"/>
<text transform="translate(1003.0 1616.0) scale(0.96 1)" font-family="Liberation Sans, sans-serif" font-size="42" font-weight="bold" text-anchor="start" >17</text>
<path d="M1000.0,1585.0 L986.0,1570.4" stroke="#000" stroke-width="2.70" fill="none"/>
<path d="M977.0,1561.0 L989.6,1566.9 L982.4,1573.8 Z" fill="#000" stroke="#000" stroke-width="1"/>
<text transform="translate(786.0 1694.0) scale(0.96 1)" font-family="Liberation Sans, sans-serif" font-size="42" font-weight="bold" text-anchor="start" >17</text>
<path d="M815.0,1651.0 L755.5,1528.5" stroke="#000" stroke-width="2.70" fill="none"/>
<path d="M749.0,1515.0 L760.0,1526.3 L751.1,1530.7 Z" fill="#000" stroke="#000" stroke-width="1"/>
<path d="M815.0,1651.0 L860.6,1534.0" stroke="#000" stroke-width="2.70" fill="none"/>
<path d="M866.0,1520.0 L865.2,1535.8 L855.9,1532.2 Z" fill="#000" stroke="#000" stroke-width="1"/>
<path d="M815.0,1651.0 L894.0,1650.2" stroke="#000" stroke-width="2.70" fill="none"/>
<path d="M912.0,1650.0 L894.1,1655.2 L893.9,1645.2 Z" fill="#000" stroke="#000" stroke-width="1"/>
<text transform="translate(6.0 1751.5) scale(1.24 1)" font-family="Liberation Serif, sans-serif" font-size="30" font-weight="bold" text-anchor="start" >fsg</text>
<ellipse cx="1365.0" cy="62.0" rx="1.2" ry="1.2" fill="#000"/>
<ellipse cx="12.0" cy="951.0" rx="1.2" ry="1.2" fill="#000"/>
</g>
</svg></body></html>
